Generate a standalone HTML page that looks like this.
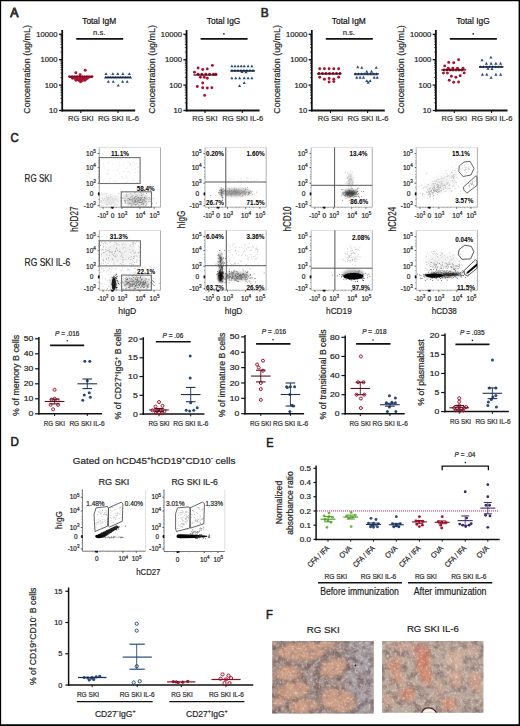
<!DOCTYPE html>
<html><head><meta charset="utf-8"><title>Figure</title>
<style>
html,body{margin:0;padding:0;background:#fff;}
body{width:520px;height:726px;overflow:hidden;}
svg{display:block;font-family:"Liberation Sans", sans-serif;}
text{stroke:#333;stroke-width:0.22px;}
text[font-weight="bold"]{stroke-width:0.05px;}
</style></head><body>
<svg width="520" height="726" viewBox="0 0 520 726">
<defs><filter id="b3" x="-50%" y="-50%" width="200%" height="200%"><feGaussianBlur stdDeviation="0.3"/></filter><filter id="b4" x="-50%" y="-50%" width="200%" height="200%"><feGaussianBlur stdDeviation="0.4"/></filter><filter id="b5" x="-50%" y="-50%" width="200%" height="200%"><feGaussianBlur stdDeviation="0.5"/></filter><filter id="b6" x="-50%" y="-50%" width="200%" height="200%"><feGaussianBlur stdDeviation="0.6"/></filter><filter id="b7" x="-50%" y="-50%" width="200%" height="200%"><feGaussianBlur stdDeviation="0.7"/></filter><filter id="b8" x="-50%" y="-50%" width="200%" height="200%"><feGaussianBlur stdDeviation="0.8"/></filter><filter id="b9" x="-50%" y="-50%" width="200%" height="200%"><feGaussianBlur stdDeviation="0.9"/></filter><filter id="b10" x="-50%" y="-50%" width="200%" height="200%"><feGaussianBlur stdDeviation="1.0"/></filter><filter id="b11" x="-50%" y="-50%" width="200%" height="200%"><feGaussianBlur stdDeviation="1.1"/></filter><filter id="b12" x="-50%" y="-50%" width="200%" height="200%"><feGaussianBlur stdDeviation="1.2"/></filter><filter id="b13" x="-50%" y="-50%" width="200%" height="200%"><feGaussianBlur stdDeviation="1.3"/></filter><filter id="b14" x="-50%" y="-50%" width="200%" height="200%"><feGaussianBlur stdDeviation="1.4"/></filter><filter id="b15" x="-50%" y="-50%" width="200%" height="200%"><feGaussianBlur stdDeviation="1.5"/></filter><filter id="b16" x="-50%" y="-50%" width="200%" height="200%"><feGaussianBlur stdDeviation="1.6"/></filter><filter id="b17" x="-50%" y="-50%" width="200%" height="200%"><feGaussianBlur stdDeviation="1.7"/></filter><filter id="b18" x="-50%" y="-50%" width="200%" height="200%"><feGaussianBlur stdDeviation="1.8"/></filter><filter id="b19" x="-50%" y="-50%" width="200%" height="200%"><feGaussianBlur stdDeviation="1.9"/></filter><filter id="b20" x="-50%" y="-50%" width="200%" height="200%"><feGaussianBlur stdDeviation="2.0"/></filter><filter id="b21" x="-50%" y="-50%" width="200%" height="200%"><feGaussianBlur stdDeviation="2.1"/></filter><filter id="b22" x="-50%" y="-50%" width="200%" height="200%"><feGaussianBlur stdDeviation="2.2"/></filter><filter id="b23" x="-50%" y="-50%" width="200%" height="200%"><feGaussianBlur stdDeviation="2.3"/></filter><filter id="b24" x="-50%" y="-50%" width="200%" height="200%"><feGaussianBlur stdDeviation="2.4"/></filter><filter id="b25" x="-50%" y="-50%" width="200%" height="200%"><feGaussianBlur stdDeviation="2.5"/></filter><filter id="b26" x="-50%" y="-50%" width="200%" height="200%"><feGaussianBlur stdDeviation="2.6"/></filter><filter id="b27" x="-50%" y="-50%" width="200%" height="200%"><feGaussianBlur stdDeviation="2.7"/></filter><filter id="b28" x="-50%" y="-50%" width="200%" height="200%"><feGaussianBlur stdDeviation="2.8"/></filter><filter id="b29" x="-50%" y="-50%" width="200%" height="200%"><feGaussianBlur stdDeviation="2.9"/></filter><filter id="b30" x="-50%" y="-50%" width="200%" height="200%"><feGaussianBlur stdDeviation="3.0"/></filter><clipPath id="cf1"><rect x="272.2" y="641.0" width="101.4" height="72.6"/></clipPath>
<clipPath id="cf2"><rect x="382.0" y="641.0" width="101.4" height="71.8"/></clipPath>
<filter id="nz" x="0" y="0" width="100%" height="100%" color-interpolation-filters="sRGB"><feTurbulence type="fractalNoise" baseFrequency="0.38" numOctaves="2" seed="3"/><feColorMatrix type="matrix" values="0 0 0 0 1  0 0 0 0 0.98  0 0 0 0 0.96  0 0 0 -1.6 0.78"/><feGaussianBlur stdDeviation="0.45"/></filter>
<filter id="nz2" x="0" y="0" width="100%" height="100%" color-interpolation-filters="sRGB"><feTurbulence type="fractalNoise" baseFrequency="0.14" numOctaves="3" seed="9"/><feColorMatrix type="matrix" values="0 0 0 0 0.42  0 0 0 0 0.33  0 0 0 0 0.32  0 0 0 2.6 -1.1"/></filter>
<filter id="bf" x="-30%" y="-30%" width="160%" height="160%"><feGaussianBlur stdDeviation="1.6"/></filter>
<filter id="bf2" x="-30%" y="-30%" width="160%" height="160%"><feGaussianBlur stdDeviation="2.6"/></filter></defs>
<rect x="0" y="0" width="520" height="726" fill="#fff"/>
<text x="99.20" y="23.50" font-size="8.4" text-anchor="middle">Total IgM</text>
<line x1="62.20" y1="30.00" x2="62.20" y2="111.40" stroke="#111" stroke-width="1.8"/>
<line x1="61.30" y1="110.50" x2="135.20" y2="110.50" stroke="#111" stroke-width="1.8"/>
<line x1="59.00" y1="34.30" x2="62.20" y2="34.30" stroke="#111" stroke-width="1.3"/>
<text x="57.60" y="36.90" font-size="7.4" text-anchor="end" fill="#1a1a1a" textLength="21.25" lengthAdjust="spacingAndGlyphs">10000</text>
<line x1="60.40" y1="52.05" x2="62.20" y2="52.05" stroke="#111" stroke-width="0.7"/>
<line x1="60.40" y1="47.58" x2="62.20" y2="47.58" stroke="#111" stroke-width="0.7"/>
<line x1="60.40" y1="44.41" x2="62.20" y2="44.41" stroke="#111" stroke-width="0.7"/>
<line x1="60.40" y1="41.95" x2="62.20" y2="41.95" stroke="#111" stroke-width="0.7"/>
<line x1="60.40" y1="39.93" x2="62.20" y2="39.93" stroke="#111" stroke-width="0.7"/>
<line x1="60.40" y1="38.23" x2="62.20" y2="38.23" stroke="#111" stroke-width="0.7"/>
<line x1="60.40" y1="36.76" x2="62.20" y2="36.76" stroke="#111" stroke-width="0.7"/>
<line x1="60.40" y1="35.46" x2="62.20" y2="35.46" stroke="#111" stroke-width="0.7"/>
<line x1="59.00" y1="59.70" x2="62.20" y2="59.70" stroke="#111" stroke-width="1.3"/>
<text x="57.60" y="62.30" font-size="7.4" text-anchor="end" fill="#1a1a1a" textLength="17.0" lengthAdjust="spacingAndGlyphs">1000</text>
<line x1="60.40" y1="77.45" x2="62.20" y2="77.45" stroke="#111" stroke-width="0.7"/>
<line x1="60.40" y1="72.98" x2="62.20" y2="72.98" stroke="#111" stroke-width="0.7"/>
<line x1="60.40" y1="69.81" x2="62.20" y2="69.81" stroke="#111" stroke-width="0.7"/>
<line x1="60.40" y1="67.35" x2="62.20" y2="67.35" stroke="#111" stroke-width="0.7"/>
<line x1="60.40" y1="65.33" x2="62.20" y2="65.33" stroke="#111" stroke-width="0.7"/>
<line x1="60.40" y1="63.63" x2="62.20" y2="63.63" stroke="#111" stroke-width="0.7"/>
<line x1="60.40" y1="62.16" x2="62.20" y2="62.16" stroke="#111" stroke-width="0.7"/>
<line x1="60.40" y1="60.86" x2="62.20" y2="60.86" stroke="#111" stroke-width="0.7"/>
<line x1="59.00" y1="85.10" x2="62.20" y2="85.10" stroke="#111" stroke-width="1.3"/>
<text x="57.60" y="87.70" font-size="7.4" text-anchor="end" fill="#1a1a1a" textLength="12.75" lengthAdjust="spacingAndGlyphs">100</text>
<line x1="60.40" y1="102.85" x2="62.20" y2="102.85" stroke="#111" stroke-width="0.7"/>
<line x1="60.40" y1="98.38" x2="62.20" y2="98.38" stroke="#111" stroke-width="0.7"/>
<line x1="60.40" y1="95.21" x2="62.20" y2="95.21" stroke="#111" stroke-width="0.7"/>
<line x1="60.40" y1="92.75" x2="62.20" y2="92.75" stroke="#111" stroke-width="0.7"/>
<line x1="60.40" y1="90.73" x2="62.20" y2="90.73" stroke="#111" stroke-width="0.7"/>
<line x1="60.40" y1="89.03" x2="62.20" y2="89.03" stroke="#111" stroke-width="0.7"/>
<line x1="60.40" y1="87.56" x2="62.20" y2="87.56" stroke="#111" stroke-width="0.7"/>
<line x1="60.40" y1="86.26" x2="62.20" y2="86.26" stroke="#111" stroke-width="0.7"/>
<line x1="59.00" y1="110.50" x2="62.20" y2="110.50" stroke="#111" stroke-width="1.3"/>
<text x="57.60" y="113.10" font-size="7.4" text-anchor="end" fill="#1a1a1a" textLength="8.5" lengthAdjust="spacingAndGlyphs">10</text>
<line x1="80.80" y1="110.50" x2="80.80" y2="113.00" stroke="#111" stroke-width="1.1"/>
<line x1="118.00" y1="110.50" x2="118.00" y2="113.00" stroke="#111" stroke-width="1.1"/>
<text x="80.80" y="121.30" font-size="7.6" text-anchor="middle" fill="#333" textLength="25.4" lengthAdjust="spacingAndGlyphs">RG SKI</text>
<text x="118.40" y="121.30" font-size="7.6" text-anchor="middle" fill="#333" textLength="41" lengthAdjust="spacingAndGlyphs">RG SKI IL-6</text>
<text x="30.50" y="69.40" font-size="9.3" text-anchor="middle" fill="#1a1a1a" textLength="88.5" lengthAdjust="spacingAndGlyphs" transform="rotate(-90 30.50 69.40)">Concentration (ug/mL)</text>
<line x1="76.20" y1="38.90" x2="123.20" y2="38.90" stroke="#111" stroke-width="1.7"/>
<text x="99.20" y="35.20" font-size="7.6" text-anchor="middle" fill="#333">n.s.</text>
<circle cx="75.80" cy="72.80" r="1.45" fill="#a8102f"/>
<circle cx="85.20" cy="70.30" r="1.45" fill="#a8102f"/>
<circle cx="80.10" cy="74.80" r="1.45" fill="#a8102f"/>
<circle cx="69.50" cy="76.60" r="1.45" fill="#a8102f"/>
<circle cx="72.00" cy="76.60" r="1.45" fill="#a8102f"/>
<circle cx="74.50" cy="76.60" r="1.45" fill="#a8102f"/>
<circle cx="77.00" cy="76.60" r="1.45" fill="#a8102f"/>
<circle cx="79.50" cy="76.60" r="1.45" fill="#a8102f"/>
<circle cx="82.00" cy="76.60" r="1.45" fill="#a8102f"/>
<circle cx="84.50" cy="76.60" r="1.45" fill="#a8102f"/>
<circle cx="87.00" cy="76.60" r="1.45" fill="#a8102f"/>
<circle cx="89.50" cy="76.60" r="1.45" fill="#a8102f"/>
<circle cx="92.00" cy="76.60" r="1.45" fill="#a8102f"/>
<circle cx="72.50" cy="78.30" r="1.45" fill="#a8102f"/>
<circle cx="75.50" cy="78.30" r="1.45" fill="#a8102f"/>
<circle cx="78.50" cy="78.30" r="1.45" fill="#a8102f"/>
<circle cx="81.50" cy="78.30" r="1.45" fill="#a8102f"/>
<circle cx="84.50" cy="78.30" r="1.45" fill="#a8102f"/>
<circle cx="87.50" cy="78.30" r="1.45" fill="#a8102f"/>
<circle cx="76.00" cy="80.20" r="1.45" fill="#a8102f"/>
<circle cx="79.00" cy="80.20" r="1.45" fill="#a8102f"/>
<circle cx="82.00" cy="80.20" r="1.45" fill="#a8102f"/>
<circle cx="85.00" cy="80.20" r="1.45" fill="#a8102f"/>
<circle cx="80.50" cy="81.80" r="1.45" fill="#a8102f"/>
<path d="M106.00 72.25L107.57 75.06L104.43 75.06Z" fill="#2a4a7a"/>
<path d="M112.80 72.25L114.37 75.06L111.23 75.06Z" fill="#2a4a7a"/>
<path d="M117.80 72.25L119.37 75.06L116.23 75.06Z" fill="#2a4a7a"/>
<path d="M122.90 72.25L124.47 75.06L121.33 75.06Z" fill="#2a4a7a"/>
<path d="M129.30 72.25L130.87 75.06L127.73 75.06Z" fill="#2a4a7a"/>
<path d="M105.50 75.65L107.07 78.45L103.93 78.45Z" fill="#2a4a7a"/>
<path d="M108.00 75.65L109.57 78.45L106.43 78.45Z" fill="#2a4a7a"/>
<path d="M110.50 75.65L112.07 78.45L108.93 78.45Z" fill="#2a4a7a"/>
<path d="M113.00 75.65L114.57 78.45L111.43 78.45Z" fill="#2a4a7a"/>
<path d="M115.50 75.65L117.07 78.45L113.93 78.45Z" fill="#2a4a7a"/>
<path d="M118.00 75.65L119.57 78.45L116.43 78.45Z" fill="#2a4a7a"/>
<path d="M120.50 75.65L122.07 78.45L118.93 78.45Z" fill="#2a4a7a"/>
<path d="M123.00 75.65L124.57 78.45L121.43 78.45Z" fill="#2a4a7a"/>
<path d="M125.50 75.65L127.07 78.45L123.93 78.45Z" fill="#2a4a7a"/>
<path d="M128.00 75.65L129.57 78.45L126.43 78.45Z" fill="#2a4a7a"/>
<path d="M130.50 75.65L132.07 78.45L128.93 78.45Z" fill="#2a4a7a"/>
<path d="M108.30 79.95L109.87 82.75L106.73 82.75Z" fill="#2a4a7a"/>
<path d="M113.20 79.95L114.77 82.75L111.63 82.75Z" fill="#2a4a7a"/>
<path d="M122.60 79.95L124.17 82.75L121.03 82.75Z" fill="#2a4a7a"/>
<path d="M127.20 79.95L128.77 82.75L125.63 82.75Z" fill="#2a4a7a"/>
<path d="M118.20 83.65L119.77 86.45L116.63 86.45Z" fill="#2a4a7a"/>
<line x1="69.50" y1="77.00" x2="92.50" y2="77.00" stroke="#4a0c1a" stroke-width="1.3"/>
<line x1="105.50" y1="77.30" x2="130.50" y2="77.30" stroke="#14233d" stroke-width="1.3"/>
<path d="M68.8 77.2L93.5 76.6L81 82.6Z" fill="#a8102f"/>
<text x="223.60" y="23.50" font-size="8.4" text-anchor="middle">Total IgG</text>
<line x1="186.60" y1="30.00" x2="186.60" y2="111.40" stroke="#111" stroke-width="1.8"/>
<line x1="185.70" y1="110.50" x2="259.60" y2="110.50" stroke="#111" stroke-width="1.8"/>
<line x1="183.40" y1="34.30" x2="186.60" y2="34.30" stroke="#111" stroke-width="1.3"/>
<text x="182.00" y="36.90" font-size="7.4" text-anchor="end" fill="#1a1a1a" textLength="21.25" lengthAdjust="spacingAndGlyphs">10000</text>
<line x1="184.80" y1="52.05" x2="186.60" y2="52.05" stroke="#111" stroke-width="0.7"/>
<line x1="184.80" y1="47.58" x2="186.60" y2="47.58" stroke="#111" stroke-width="0.7"/>
<line x1="184.80" y1="44.41" x2="186.60" y2="44.41" stroke="#111" stroke-width="0.7"/>
<line x1="184.80" y1="41.95" x2="186.60" y2="41.95" stroke="#111" stroke-width="0.7"/>
<line x1="184.80" y1="39.93" x2="186.60" y2="39.93" stroke="#111" stroke-width="0.7"/>
<line x1="184.80" y1="38.23" x2="186.60" y2="38.23" stroke="#111" stroke-width="0.7"/>
<line x1="184.80" y1="36.76" x2="186.60" y2="36.76" stroke="#111" stroke-width="0.7"/>
<line x1="184.80" y1="35.46" x2="186.60" y2="35.46" stroke="#111" stroke-width="0.7"/>
<line x1="183.40" y1="59.70" x2="186.60" y2="59.70" stroke="#111" stroke-width="1.3"/>
<text x="182.00" y="62.30" font-size="7.4" text-anchor="end" fill="#1a1a1a" textLength="17.0" lengthAdjust="spacingAndGlyphs">1000</text>
<line x1="184.80" y1="77.45" x2="186.60" y2="77.45" stroke="#111" stroke-width="0.7"/>
<line x1="184.80" y1="72.98" x2="186.60" y2="72.98" stroke="#111" stroke-width="0.7"/>
<line x1="184.80" y1="69.81" x2="186.60" y2="69.81" stroke="#111" stroke-width="0.7"/>
<line x1="184.80" y1="67.35" x2="186.60" y2="67.35" stroke="#111" stroke-width="0.7"/>
<line x1="184.80" y1="65.33" x2="186.60" y2="65.33" stroke="#111" stroke-width="0.7"/>
<line x1="184.80" y1="63.63" x2="186.60" y2="63.63" stroke="#111" stroke-width="0.7"/>
<line x1="184.80" y1="62.16" x2="186.60" y2="62.16" stroke="#111" stroke-width="0.7"/>
<line x1="184.80" y1="60.86" x2="186.60" y2="60.86" stroke="#111" stroke-width="0.7"/>
<line x1="183.40" y1="85.10" x2="186.60" y2="85.10" stroke="#111" stroke-width="1.3"/>
<text x="182.00" y="87.70" font-size="7.4" text-anchor="end" fill="#1a1a1a" textLength="12.75" lengthAdjust="spacingAndGlyphs">100</text>
<line x1="184.80" y1="102.85" x2="186.60" y2="102.85" stroke="#111" stroke-width="0.7"/>
<line x1="184.80" y1="98.38" x2="186.60" y2="98.38" stroke="#111" stroke-width="0.7"/>
<line x1="184.80" y1="95.21" x2="186.60" y2="95.21" stroke="#111" stroke-width="0.7"/>
<line x1="184.80" y1="92.75" x2="186.60" y2="92.75" stroke="#111" stroke-width="0.7"/>
<line x1="184.80" y1="90.73" x2="186.60" y2="90.73" stroke="#111" stroke-width="0.7"/>
<line x1="184.80" y1="89.03" x2="186.60" y2="89.03" stroke="#111" stroke-width="0.7"/>
<line x1="184.80" y1="87.56" x2="186.60" y2="87.56" stroke="#111" stroke-width="0.7"/>
<line x1="184.80" y1="86.26" x2="186.60" y2="86.26" stroke="#111" stroke-width="0.7"/>
<line x1="183.40" y1="110.50" x2="186.60" y2="110.50" stroke="#111" stroke-width="1.3"/>
<text x="182.00" y="113.10" font-size="7.4" text-anchor="end" fill="#1a1a1a" textLength="8.5" lengthAdjust="spacingAndGlyphs">10</text>
<line x1="205.00" y1="110.50" x2="205.00" y2="113.00" stroke="#111" stroke-width="1.1"/>
<line x1="242.30" y1="110.50" x2="242.30" y2="113.00" stroke="#111" stroke-width="1.1"/>
<text x="205.00" y="121.30" font-size="7.6" text-anchor="middle" fill="#333" textLength="25.4" lengthAdjust="spacingAndGlyphs">RG SKI</text>
<text x="242.70" y="121.30" font-size="7.6" text-anchor="middle" fill="#333" textLength="41" lengthAdjust="spacingAndGlyphs">RG SKI IL-6</text>
<text x="154.90" y="69.40" font-size="9.3" text-anchor="middle" fill="#1a1a1a" textLength="88.5" lengthAdjust="spacingAndGlyphs" transform="rotate(-90 154.90 69.40)">Concentration (ug/mL)</text>
<line x1="200.60" y1="38.90" x2="247.60" y2="38.90" stroke="#111" stroke-width="1.7"/>
<circle cx="223.90" cy="33.80" r="0.9" fill="#222"/>
<circle cx="212.40" cy="65.40" r="1.45" fill="#a8102f"/>
<circle cx="198.10" cy="68.00" r="1.45" fill="#a8102f"/>
<circle cx="202.70" cy="69.50" r="1.45" fill="#a8102f"/>
<circle cx="207.30" cy="68.90" r="1.45" fill="#a8102f"/>
<circle cx="194.50" cy="72.30" r="1.45" fill="#a8102f"/>
<circle cx="198.10" cy="74.20" r="1.45" fill="#a8102f"/>
<circle cx="201.90" cy="74.20" r="1.45" fill="#a8102f"/>
<circle cx="205.80" cy="74.20" r="1.45" fill="#a8102f"/>
<circle cx="209.60" cy="74.20" r="1.45" fill="#a8102f"/>
<circle cx="213.50" cy="74.20" r="1.45" fill="#a8102f"/>
<circle cx="215.80" cy="74.20" r="1.45" fill="#a8102f"/>
<circle cx="200.40" cy="77.20" r="1.45" fill="#a8102f"/>
<circle cx="204.20" cy="77.20" r="1.45" fill="#a8102f"/>
<circle cx="207.30" cy="78.20" r="1.45" fill="#a8102f"/>
<circle cx="202.70" cy="83.00" r="1.45" fill="#a8102f"/>
<circle cx="197.30" cy="86.50" r="1.45" fill="#a8102f"/>
<circle cx="202.70" cy="87.70" r="1.45" fill="#a8102f"/>
<circle cx="207.30" cy="88.00" r="1.45" fill="#a8102f"/>
<circle cx="211.90" cy="87.70" r="1.45" fill="#a8102f"/>
<circle cx="204.70" cy="95.40" r="1.45" fill="#a8102f"/>
<path d="M231.90 64.55L233.47 67.36L230.33 67.36Z" fill="#2a4a7a"/>
<path d="M235.00 64.55L236.57 67.36L233.43 67.36Z" fill="#2a4a7a"/>
<path d="M238.10 64.55L239.67 67.36L236.53 67.36Z" fill="#2a4a7a"/>
<path d="M241.20 64.55L242.77 67.36L239.63 67.36Z" fill="#2a4a7a"/>
<path d="M244.20 64.55L245.77 67.36L242.63 67.36Z" fill="#2a4a7a"/>
<path d="M248.10 64.55L249.67 67.36L246.53 67.36Z" fill="#2a4a7a"/>
<path d="M251.90 64.55L253.47 67.36L250.33 67.36Z" fill="#2a4a7a"/>
<path d="M232.00 68.85L233.57 71.66L230.43 71.66Z" fill="#2a4a7a"/>
<path d="M235.00 68.85L236.57 71.66L233.43 71.66Z" fill="#2a4a7a"/>
<path d="M238.00 68.85L239.57 71.66L236.43 71.66Z" fill="#2a4a7a"/>
<path d="M241.00 68.85L242.57 71.66L239.43 71.66Z" fill="#2a4a7a"/>
<path d="M244.00 68.85L245.57 71.66L242.43 71.66Z" fill="#2a4a7a"/>
<path d="M247.00 68.85L248.57 71.66L245.43 71.66Z" fill="#2a4a7a"/>
<path d="M250.00 68.85L251.57 71.66L248.43 71.66Z" fill="#2a4a7a"/>
<path d="M253.00 68.85L254.57 71.66L251.43 71.66Z" fill="#2a4a7a"/>
<path d="M231.90 76.55L233.47 79.36L230.33 79.36Z" fill="#2a4a7a"/>
<path d="M235.80 76.55L237.37 79.36L234.23 79.36Z" fill="#2a4a7a"/>
<path d="M239.60 76.55L241.17 79.36L238.03 79.36Z" fill="#2a4a7a"/>
<path d="M244.20 76.55L245.77 79.36L242.63 79.36Z" fill="#2a4a7a"/>
<path d="M248.10 76.55L249.67 79.36L246.53 79.36Z" fill="#2a4a7a"/>
<path d="M251.90 76.55L253.47 79.36L250.33 79.36Z" fill="#2a4a7a"/>
<path d="M244.20 81.15L245.77 83.95L242.63 83.95Z" fill="#2a4a7a"/>
<path d="M239.60 84.15L241.17 86.95L238.03 86.95Z" fill="#2a4a7a"/>
<path d="M242.00 70.15L243.57 72.95L240.43 72.95Z" fill="#2a4a7a"/>
<path d="M246.00 70.35L247.57 73.16L244.43 73.16Z" fill="#2a4a7a"/>
<line x1="193.50" y1="75.00" x2="217.30" y2="75.00" stroke="#4a0c1a" stroke-width="1.3"/>
<line x1="230.40" y1="70.80" x2="255.00" y2="70.80" stroke="#14233d" stroke-width="1.3"/>
<text x="348.80" y="23.50" font-size="8.4" text-anchor="middle">Total IgM</text>
<line x1="311.80" y1="30.00" x2="311.80" y2="111.40" stroke="#111" stroke-width="1.8"/>
<line x1="310.90" y1="110.50" x2="384.80" y2="110.50" stroke="#111" stroke-width="1.8"/>
<line x1="308.60" y1="34.30" x2="311.80" y2="34.30" stroke="#111" stroke-width="1.3"/>
<text x="307.20" y="36.90" font-size="7.4" text-anchor="end" fill="#1a1a1a" textLength="21.25" lengthAdjust="spacingAndGlyphs">10000</text>
<line x1="310.00" y1="52.05" x2="311.80" y2="52.05" stroke="#111" stroke-width="0.7"/>
<line x1="310.00" y1="47.58" x2="311.80" y2="47.58" stroke="#111" stroke-width="0.7"/>
<line x1="310.00" y1="44.41" x2="311.80" y2="44.41" stroke="#111" stroke-width="0.7"/>
<line x1="310.00" y1="41.95" x2="311.80" y2="41.95" stroke="#111" stroke-width="0.7"/>
<line x1="310.00" y1="39.93" x2="311.80" y2="39.93" stroke="#111" stroke-width="0.7"/>
<line x1="310.00" y1="38.23" x2="311.80" y2="38.23" stroke="#111" stroke-width="0.7"/>
<line x1="310.00" y1="36.76" x2="311.80" y2="36.76" stroke="#111" stroke-width="0.7"/>
<line x1="310.00" y1="35.46" x2="311.80" y2="35.46" stroke="#111" stroke-width="0.7"/>
<line x1="308.60" y1="59.70" x2="311.80" y2="59.70" stroke="#111" stroke-width="1.3"/>
<text x="307.20" y="62.30" font-size="7.4" text-anchor="end" fill="#1a1a1a" textLength="17.0" lengthAdjust="spacingAndGlyphs">1000</text>
<line x1="310.00" y1="77.45" x2="311.80" y2="77.45" stroke="#111" stroke-width="0.7"/>
<line x1="310.00" y1="72.98" x2="311.80" y2="72.98" stroke="#111" stroke-width="0.7"/>
<line x1="310.00" y1="69.81" x2="311.80" y2="69.81" stroke="#111" stroke-width="0.7"/>
<line x1="310.00" y1="67.35" x2="311.80" y2="67.35" stroke="#111" stroke-width="0.7"/>
<line x1="310.00" y1="65.33" x2="311.80" y2="65.33" stroke="#111" stroke-width="0.7"/>
<line x1="310.00" y1="63.63" x2="311.80" y2="63.63" stroke="#111" stroke-width="0.7"/>
<line x1="310.00" y1="62.16" x2="311.80" y2="62.16" stroke="#111" stroke-width="0.7"/>
<line x1="310.00" y1="60.86" x2="311.80" y2="60.86" stroke="#111" stroke-width="0.7"/>
<line x1="308.60" y1="85.10" x2="311.80" y2="85.10" stroke="#111" stroke-width="1.3"/>
<text x="307.20" y="87.70" font-size="7.4" text-anchor="end" fill="#1a1a1a" textLength="12.75" lengthAdjust="spacingAndGlyphs">100</text>
<line x1="310.00" y1="102.85" x2="311.80" y2="102.85" stroke="#111" stroke-width="0.7"/>
<line x1="310.00" y1="98.38" x2="311.80" y2="98.38" stroke="#111" stroke-width="0.7"/>
<line x1="310.00" y1="95.21" x2="311.80" y2="95.21" stroke="#111" stroke-width="0.7"/>
<line x1="310.00" y1="92.75" x2="311.80" y2="92.75" stroke="#111" stroke-width="0.7"/>
<line x1="310.00" y1="90.73" x2="311.80" y2="90.73" stroke="#111" stroke-width="0.7"/>
<line x1="310.00" y1="89.03" x2="311.80" y2="89.03" stroke="#111" stroke-width="0.7"/>
<line x1="310.00" y1="87.56" x2="311.80" y2="87.56" stroke="#111" stroke-width="0.7"/>
<line x1="310.00" y1="86.26" x2="311.80" y2="86.26" stroke="#111" stroke-width="0.7"/>
<line x1="308.60" y1="110.50" x2="311.80" y2="110.50" stroke="#111" stroke-width="1.3"/>
<text x="307.20" y="113.10" font-size="7.4" text-anchor="end" fill="#1a1a1a" textLength="8.5" lengthAdjust="spacingAndGlyphs">10</text>
<line x1="330.50" y1="110.50" x2="330.50" y2="113.00" stroke="#111" stroke-width="1.1"/>
<line x1="367.60" y1="110.50" x2="367.60" y2="113.00" stroke="#111" stroke-width="1.1"/>
<text x="330.50" y="121.30" font-size="7.6" text-anchor="middle" fill="#333" textLength="25.4" lengthAdjust="spacingAndGlyphs">RG SKI</text>
<text x="368.00" y="121.30" font-size="7.6" text-anchor="middle" fill="#333" textLength="41" lengthAdjust="spacingAndGlyphs">RG SKI IL-6</text>
<text x="280.10" y="69.40" font-size="9.3" text-anchor="middle" fill="#1a1a1a" textLength="88.5" lengthAdjust="spacingAndGlyphs" transform="rotate(-90 280.10 69.40)">Concentration (ug/mL)</text>
<line x1="325.80" y1="38.90" x2="372.80" y2="38.90" stroke="#111" stroke-width="1.7"/>
<text x="348.80" y="35.20" font-size="7.6" text-anchor="middle" fill="#333">n.s.</text>
<circle cx="319.70" cy="68.80" r="1.45" fill="#a8102f"/>
<circle cx="324.40" cy="68.80" r="1.45" fill="#a8102f"/>
<circle cx="329.10" cy="68.80" r="1.45" fill="#a8102f"/>
<circle cx="333.80" cy="68.80" r="1.45" fill="#a8102f"/>
<circle cx="338.60" cy="68.80" r="1.45" fill="#a8102f"/>
<circle cx="319.00" cy="73.50" r="1.45" fill="#a8102f"/>
<circle cx="322.50" cy="73.50" r="1.45" fill="#a8102f"/>
<circle cx="326.00" cy="73.50" r="1.45" fill="#a8102f"/>
<circle cx="329.50" cy="73.50" r="1.45" fill="#a8102f"/>
<circle cx="333.00" cy="73.50" r="1.45" fill="#a8102f"/>
<circle cx="336.50" cy="73.50" r="1.45" fill="#a8102f"/>
<circle cx="340.00" cy="73.50" r="1.45" fill="#a8102f"/>
<circle cx="319.70" cy="77.20" r="1.45" fill="#a8102f"/>
<circle cx="338.60" cy="77.20" r="1.45" fill="#a8102f"/>
<circle cx="324.40" cy="79.30" r="1.45" fill="#a8102f"/>
<circle cx="329.10" cy="78.50" r="1.45" fill="#a8102f"/>
<circle cx="333.80" cy="79.30" r="1.45" fill="#a8102f"/>
<circle cx="329.10" cy="82.00" r="1.45" fill="#a8102f"/>
<circle cx="333.80" cy="81.60" r="1.45" fill="#a8102f"/>
<path d="M357.80 65.55L359.37 68.36L356.23 68.36Z" fill="#2a4a7a"/>
<path d="M361.80 66.05L363.37 68.86L360.23 68.86Z" fill="#2a4a7a"/>
<path d="M376.20 66.05L377.77 68.86L374.63 68.86Z" fill="#2a4a7a"/>
<path d="M366.80 69.85L368.37 72.66L365.23 72.66Z" fill="#2a4a7a"/>
<path d="M371.50 69.85L373.07 72.66L369.93 72.66Z" fill="#2a4a7a"/>
<path d="M355.50 72.35L357.07 75.16L353.93 75.16Z" fill="#2a4a7a"/>
<path d="M358.50 72.35L360.07 75.16L356.93 75.16Z" fill="#2a4a7a"/>
<path d="M361.50 72.35L363.07 75.16L359.93 75.16Z" fill="#2a4a7a"/>
<path d="M364.50 72.35L366.07 75.16L362.93 75.16Z" fill="#2a4a7a"/>
<path d="M367.50 72.35L369.07 75.16L365.93 75.16Z" fill="#2a4a7a"/>
<path d="M370.50 72.35L372.07 75.16L368.93 75.16Z" fill="#2a4a7a"/>
<path d="M373.50 72.35L375.07 75.16L371.93 75.16Z" fill="#2a4a7a"/>
<path d="M376.50 72.35L378.07 75.16L374.93 75.16Z" fill="#2a4a7a"/>
<path d="M356.70 75.85L358.27 78.66L355.13 78.66Z" fill="#2a4a7a"/>
<path d="M360.10 75.85L361.67 78.66L358.53 78.66Z" fill="#2a4a7a"/>
<path d="M363.50 75.85L365.07 78.66L361.93 78.66Z" fill="#2a4a7a"/>
<path d="M374.20 75.85L375.77 78.66L372.63 78.66Z" fill="#2a4a7a"/>
<path d="M377.20 75.85L378.77 78.66L375.63 78.66Z" fill="#2a4a7a"/>
<path d="M366.80 79.25L368.37 82.06L365.23 82.06Z" fill="#2a4a7a"/>
<path d="M370.20 79.25L371.77 82.06L368.63 82.06Z" fill="#2a4a7a"/>
<path d="M368.20 80.85L369.77 83.66L366.63 83.66Z" fill="#2a4a7a"/>
<line x1="317.00" y1="73.90" x2="341.20" y2="73.90" stroke="#4a0c1a" stroke-width="1.3"/>
<line x1="354.00" y1="73.90" x2="378.90" y2="73.90" stroke="#14233d" stroke-width="1.3"/>
<text x="472.90" y="23.50" font-size="8.4" text-anchor="middle">Total IgG</text>
<line x1="435.90" y1="30.00" x2="435.90" y2="111.40" stroke="#111" stroke-width="1.8"/>
<line x1="435.00" y1="110.50" x2="507.50" y2="110.50" stroke="#111" stroke-width="1.8"/>
<line x1="432.70" y1="34.30" x2="435.90" y2="34.30" stroke="#111" stroke-width="1.3"/>
<text x="431.30" y="36.90" font-size="7.4" text-anchor="end" fill="#1a1a1a" textLength="21.25" lengthAdjust="spacingAndGlyphs">10000</text>
<line x1="434.10" y1="52.05" x2="435.90" y2="52.05" stroke="#111" stroke-width="0.7"/>
<line x1="434.10" y1="47.58" x2="435.90" y2="47.58" stroke="#111" stroke-width="0.7"/>
<line x1="434.10" y1="44.41" x2="435.90" y2="44.41" stroke="#111" stroke-width="0.7"/>
<line x1="434.10" y1="41.95" x2="435.90" y2="41.95" stroke="#111" stroke-width="0.7"/>
<line x1="434.10" y1="39.93" x2="435.90" y2="39.93" stroke="#111" stroke-width="0.7"/>
<line x1="434.10" y1="38.23" x2="435.90" y2="38.23" stroke="#111" stroke-width="0.7"/>
<line x1="434.10" y1="36.76" x2="435.90" y2="36.76" stroke="#111" stroke-width="0.7"/>
<line x1="434.10" y1="35.46" x2="435.90" y2="35.46" stroke="#111" stroke-width="0.7"/>
<line x1="432.70" y1="59.70" x2="435.90" y2="59.70" stroke="#111" stroke-width="1.3"/>
<text x="431.30" y="62.30" font-size="7.4" text-anchor="end" fill="#1a1a1a" textLength="17.0" lengthAdjust="spacingAndGlyphs">1000</text>
<line x1="434.10" y1="77.45" x2="435.90" y2="77.45" stroke="#111" stroke-width="0.7"/>
<line x1="434.10" y1="72.98" x2="435.90" y2="72.98" stroke="#111" stroke-width="0.7"/>
<line x1="434.10" y1="69.81" x2="435.90" y2="69.81" stroke="#111" stroke-width="0.7"/>
<line x1="434.10" y1="67.35" x2="435.90" y2="67.35" stroke="#111" stroke-width="0.7"/>
<line x1="434.10" y1="65.33" x2="435.90" y2="65.33" stroke="#111" stroke-width="0.7"/>
<line x1="434.10" y1="63.63" x2="435.90" y2="63.63" stroke="#111" stroke-width="0.7"/>
<line x1="434.10" y1="62.16" x2="435.90" y2="62.16" stroke="#111" stroke-width="0.7"/>
<line x1="434.10" y1="60.86" x2="435.90" y2="60.86" stroke="#111" stroke-width="0.7"/>
<line x1="432.70" y1="85.10" x2="435.90" y2="85.10" stroke="#111" stroke-width="1.3"/>
<text x="431.30" y="87.70" font-size="7.4" text-anchor="end" fill="#1a1a1a" textLength="12.75" lengthAdjust="spacingAndGlyphs">100</text>
<line x1="434.10" y1="102.85" x2="435.90" y2="102.85" stroke="#111" stroke-width="0.7"/>
<line x1="434.10" y1="98.38" x2="435.90" y2="98.38" stroke="#111" stroke-width="0.7"/>
<line x1="434.10" y1="95.21" x2="435.90" y2="95.21" stroke="#111" stroke-width="0.7"/>
<line x1="434.10" y1="92.75" x2="435.90" y2="92.75" stroke="#111" stroke-width="0.7"/>
<line x1="434.10" y1="90.73" x2="435.90" y2="90.73" stroke="#111" stroke-width="0.7"/>
<line x1="434.10" y1="89.03" x2="435.90" y2="89.03" stroke="#111" stroke-width="0.7"/>
<line x1="434.10" y1="87.56" x2="435.90" y2="87.56" stroke="#111" stroke-width="0.7"/>
<line x1="434.10" y1="86.26" x2="435.90" y2="86.26" stroke="#111" stroke-width="0.7"/>
<line x1="432.70" y1="110.50" x2="435.90" y2="110.50" stroke="#111" stroke-width="1.3"/>
<text x="431.30" y="113.10" font-size="7.4" text-anchor="end" fill="#1a1a1a" textLength="8.5" lengthAdjust="spacingAndGlyphs">10</text>
<line x1="454.30" y1="110.50" x2="454.30" y2="113.00" stroke="#111" stroke-width="1.1"/>
<line x1="491.50" y1="110.50" x2="491.50" y2="113.00" stroke="#111" stroke-width="1.1"/>
<text x="454.30" y="121.30" font-size="7.6" text-anchor="middle" fill="#333" textLength="25.4" lengthAdjust="spacingAndGlyphs">RG SKI</text>
<text x="491.90" y="121.30" font-size="7.6" text-anchor="middle" fill="#333" textLength="41" lengthAdjust="spacingAndGlyphs">RG SKI IL-6</text>
<text x="404.20" y="69.40" font-size="9.3" text-anchor="middle" fill="#1a1a1a" textLength="88.5" lengthAdjust="spacingAndGlyphs" transform="rotate(-90 404.20 69.40)">Concentration (ug/mL)</text>
<line x1="449.90" y1="38.90" x2="496.90" y2="38.90" stroke="#111" stroke-width="1.7"/>
<circle cx="473.20" cy="33.80" r="0.9" fill="#222"/>
<circle cx="458.60" cy="59.70" r="1.45" fill="#a8102f"/>
<circle cx="448.70" cy="62.40" r="1.45" fill="#a8102f"/>
<circle cx="453.70" cy="62.80" r="1.45" fill="#a8102f"/>
<circle cx="444.70" cy="65.90" r="1.45" fill="#a8102f"/>
<circle cx="448.30" cy="68.20" r="1.45" fill="#a8102f"/>
<circle cx="452.80" cy="68.20" r="1.45" fill="#a8102f"/>
<circle cx="457.50" cy="68.20" r="1.45" fill="#a8102f"/>
<circle cx="463.10" cy="68.20" r="1.45" fill="#a8102f"/>
<circle cx="444.00" cy="70.00" r="1.45" fill="#a8102f"/>
<circle cx="447.00" cy="70.00" r="1.45" fill="#a8102f"/>
<circle cx="450.00" cy="70.00" r="1.45" fill="#a8102f"/>
<circle cx="453.00" cy="70.00" r="1.45" fill="#a8102f"/>
<circle cx="456.00" cy="70.00" r="1.45" fill="#a8102f"/>
<circle cx="459.00" cy="70.00" r="1.45" fill="#a8102f"/>
<circle cx="462.00" cy="70.00" r="1.45" fill="#a8102f"/>
<circle cx="443.40" cy="73.10" r="1.45" fill="#a8102f"/>
<circle cx="447.40" cy="73.10" r="1.45" fill="#a8102f"/>
<circle cx="464.20" cy="72.90" r="1.45" fill="#a8102f"/>
<circle cx="451.40" cy="76.20" r="1.45" fill="#a8102f"/>
<circle cx="455.90" cy="77.20" r="1.45" fill="#a8102f"/>
<circle cx="460.20" cy="75.80" r="1.45" fill="#a8102f"/>
<circle cx="449.20" cy="80.30" r="1.45" fill="#a8102f"/>
<circle cx="453.70" cy="82.30" r="1.45" fill="#a8102f"/>
<circle cx="458.60" cy="82.00" r="1.45" fill="#a8102f"/>
<path d="M490.90 55.75L492.47 58.55L489.33 58.55Z" fill="#2a4a7a"/>
<path d="M482.00 58.45L483.57 61.26L480.43 61.26Z" fill="#2a4a7a"/>
<path d="M486.40 61.85L487.97 64.66L484.83 64.66Z" fill="#2a4a7a"/>
<path d="M491.10 61.85L492.67 64.66L489.53 64.66Z" fill="#2a4a7a"/>
<path d="M495.90 61.85L497.47 64.66L494.33 64.66Z" fill="#2a4a7a"/>
<path d="M500.60 61.85L502.17 64.66L499.03 64.66Z" fill="#2a4a7a"/>
<path d="M480.50 65.15L482.07 67.95L478.93 67.95Z" fill="#2a4a7a"/>
<path d="M483.50 65.15L485.07 67.95L481.93 67.95Z" fill="#2a4a7a"/>
<path d="M486.50 65.15L488.07 67.95L484.93 67.95Z" fill="#2a4a7a"/>
<path d="M489.50 65.15L491.07 67.95L487.93 67.95Z" fill="#2a4a7a"/>
<path d="M492.50 65.15L494.07 67.95L490.93 67.95Z" fill="#2a4a7a"/>
<path d="M495.50 65.15L497.07 67.95L493.93 67.95Z" fill="#2a4a7a"/>
<path d="M498.50 65.15L500.07 67.95L496.93 67.95Z" fill="#2a4a7a"/>
<path d="M501.50 65.15L503.07 67.95L499.93 67.95Z" fill="#2a4a7a"/>
<path d="M488.00 66.85L489.57 69.66L486.43 69.66Z" fill="#2a4a7a"/>
<path d="M492.00 67.15L493.57 69.95L490.43 69.95Z" fill="#2a4a7a"/>
<path d="M482.40 72.85L483.97 75.66L480.83 75.66Z" fill="#2a4a7a"/>
<path d="M486.80 72.85L488.37 75.66L485.23 75.66Z" fill="#2a4a7a"/>
<path d="M495.90 72.85L497.47 75.66L494.33 75.66Z" fill="#2a4a7a"/>
<path d="M500.60 72.85L502.17 75.66L499.03 75.66Z" fill="#2a4a7a"/>
<path d="M491.10 75.95L492.67 78.75L489.53 78.75Z" fill="#2a4a7a"/>
<line x1="441.30" y1="69.90" x2="466.20" y2="69.90" stroke="#4a0c1a" stroke-width="1.3"/>
<line x1="479.00" y1="66.80" x2="503.50" y2="66.80" stroke="#14233d" stroke-width="1.3"/>
<text x="10.20" y="17.00" font-size="13.4" fill="#000" stroke="#000" stroke-width="1.0" textLength="8.200000000000001" lengthAdjust="spacingAndGlyphs" style="stroke-width:1.0px">A</text>
<text x="260.80" y="17.00" font-size="13.4" fill="#000" stroke="#000" stroke-width="0.7" textLength="7.98" lengthAdjust="spacingAndGlyphs" style="stroke-width:0.7px">B</text>
<ellipse cx="136.50" cy="199.80" rx="13.5" ry="5.5" fill="#b0b0b0" fill-opacity="0.55" filter="url(#b20)" transform="rotate(0 136.50 199.80)"/>
<ellipse cx="110.00" cy="200.50" rx="10" ry="5" fill="#cfcfcf" fill-opacity="0.5" filter="url(#b20)" transform="rotate(0 110.00 200.50)"/>
<path d="M106.0 196.0h0.8v0.8h-0.8zM125.3 197.7h0.8v0.8h-0.8zM130.6 193.3h0.8v0.8h-0.8zM100.8 205.3h0.8v0.8h-0.8zM107.0 201.8h0.8v0.8h-0.8zM147.6 194.8h0.8v0.8h-0.8zM103.0 199.8h0.8v0.8h-0.8zM106.0 193.6h0.8v0.8h-0.8zM148.6 201.4h0.8v0.8h-0.8zM131.6 195.8h0.8v0.8h-0.8zM118.5 193.0h0.8v0.8h-0.8zM125.9 194.1h0.8v0.8h-0.8zM133.8 200.6h0.8v0.8h-0.8zM113.6 201.8h0.8v0.8h-0.8zM106.5 197.2h0.8v0.8h-0.8zM140.3 201.9h0.8v0.8h-0.8zM134.2 197.6h0.8v0.8h-0.8zM125.9 194.3h0.8v0.8h-0.8zM141.8 197.1h0.8v0.8h-0.8zM127.9 198.2h0.8v0.8h-0.8zM150.3 205.9h0.8v0.8h-0.8zM109.9 194.1h0.8v0.8h-0.8zM128.1 193.7h0.8v0.8h-0.8zM124.4 200.7h0.8v0.8h-0.8zM117.7 206.7h0.8v0.8h-0.8zM130.1 205.8h0.8v0.8h-0.8zM111.5 202.8h0.8v0.8h-0.8zM141.0 193.4h0.8v0.8h-0.8zM144.4 204.3h0.8v0.8h-0.8zM106.0 202.5h0.8v0.8h-0.8zM123.6 194.5h0.8v0.8h-0.8zM113.7 199.3h0.8v0.8h-0.8zM103.6 193.1h0.8v0.8h-0.8zM145.9 204.3h0.8v0.8h-0.8zM121.7 203.0h0.8v0.8h-0.8zM107.0 204.3h0.8v0.8h-0.8zM134.3 203.7h0.8v0.8h-0.8zM109.8 196.4h0.8v0.8h-0.8zM146.2 204.1h0.8v0.8h-0.8zM110.6 196.1h0.8v0.8h-0.8zM101.0 194.4h0.8v0.8h-0.8zM109.7 198.2h0.8v0.8h-0.8zM117.3 199.8h0.8v0.8h-0.8zM123.7 196.6h0.8v0.8h-0.8zM146.4 201.4h0.8v0.8h-0.8zM135.6 201.3h0.8v0.8h-0.8zM116.9 195.9h0.8v0.8h-0.8zM100.2 201.6h0.8v0.8h-0.8zM107.6 197.7h0.8v0.8h-0.8zM151.1 203.3h0.8v0.8h-0.8zM123.2 196.7h0.8v0.8h-0.8zM135.2 204.2h0.8v0.8h-0.8zM102.1 198.5h0.8v0.8h-0.8zM101.1 200.6h0.8v0.8h-0.8zM143.3 202.4h0.8v0.8h-0.8zM129.9 200.1h0.8v0.8h-0.8zM115.4 196.2h0.8v0.8h-0.8zM115.8 206.9h0.8v0.8h-0.8zM103.9 193.8h0.8v0.8h-0.8zM108.3 197.2h0.8v0.8h-0.8zM100.6 200.5h0.8v0.8h-0.8zM142.9 192.8h0.8v0.8h-0.8zM123.5 194.7h0.8v0.8h-0.8zM105.9 204.2h0.8v0.8h-0.8zM137.7 204.0h0.8v0.8h-0.8zM109.5 201.8h0.8v0.8h-0.8zM102.5 205.7h0.8v0.8h-0.8zM130.4 203.6h0.8v0.8h-0.8zM145.9 196.8h0.8v0.8h-0.8zM100.7 201.9h0.8v0.8h-0.8zM141.2 197.4h0.8v0.8h-0.8zM109.2 203.5h0.8v0.8h-0.8zM104.1 198.1h0.8v0.8h-0.8zM100.2 194.7h0.8v0.8h-0.8zM114.5 205.4h0.8v0.8h-0.8zM137.1 202.6h0.8v0.8h-0.8zM124.9 203.4h0.8v0.8h-0.8zM143.7 200.7h0.8v0.8h-0.8zM110.6 204.0h0.8v0.8h-0.8zM115.7 199.0h0.8v0.8h-0.8zM112.7 200.8h0.8v0.8h-0.8zM150.2 193.3h0.8v0.8h-0.8zM148.2 200.6h0.8v0.8h-0.8zM117.0 204.5h0.8v0.8h-0.8zM122.0 202.8h0.8v0.8h-0.8zM115.6 204.3h0.8v0.8h-0.8zM138.1 199.7h0.8v0.8h-0.8zM101.4 205.4h0.8v0.8h-0.8zM102.8 194.0h0.8v0.8h-0.8zM120.3 205.4h0.8v0.8h-0.8zM112.0 197.9h0.8v0.8h-0.8zM143.3 193.7h0.8v0.8h-0.8zM137.9 201.6h0.8v0.8h-0.8zM127.7 199.1h0.8v0.8h-0.8zM133.7 198.7h0.8v0.8h-0.8zM135.3 205.0h0.8v0.8h-0.8zM139.9 194.4h0.8v0.8h-0.8zM147.5 201.5h0.8v0.8h-0.8zM107.1 198.5h0.8v0.8h-0.8zM131.9 200.2h0.8v0.8h-0.8zM106.8 199.8h0.8v0.8h-0.8zM122.3 194.4h0.8v0.8h-0.8zM140.2 200.0h0.8v0.8h-0.8zM145.8 205.2h0.8v0.8h-0.8zM138.8 194.9h0.8v0.8h-0.8zM101.1 192.6h0.8v0.8h-0.8zM118.0 193.4h0.8v0.8h-0.8zM107.8 199.2h0.8v0.8h-0.8zM151.2 206.8h0.8v0.8h-0.8zM106.8 193.1h0.8v0.8h-0.8z" fill="#c6c6c6" filter="url(#b3)"/>
<path d="M136.4 202.0h0.8v0.8h-0.8zM144.3 202.5h0.8v0.8h-0.8zM142.1 203.4h0.8v0.8h-0.8zM141.9 202.5h0.8v0.8h-0.8zM148.6 197.1h0.8v0.8h-0.8zM127.5 200.0h0.8v0.8h-0.8zM131.8 197.4h0.8v0.8h-0.8zM126.6 191.9h0.8v0.8h-0.8zM135.7 194.3h0.8v0.8h-0.8zM144.0 206.7h0.8v0.8h-0.8zM136.3 196.1h0.8v0.8h-0.8zM140.2 192.4h0.8v0.8h-0.8zM122.2 197.9h0.8v0.8h-0.8zM137.6 204.8h0.8v0.8h-0.8zM129.7 199.7h0.8v0.8h-0.8zM149.8 201.1h0.8v0.8h-0.8zM143.2 198.9h0.8v0.8h-0.8zM143.6 199.5h0.8v0.8h-0.8zM136.1 204.0h0.8v0.8h-0.8zM141.1 202.4h0.8v0.8h-0.8zM141.4 199.5h0.8v0.8h-0.8zM133.9 202.7h0.8v0.8h-0.8zM132.8 203.3h0.8v0.8h-0.8zM135.6 199.1h0.8v0.8h-0.8zM132.0 200.7h0.8v0.8h-0.8zM132.0 200.6h0.8v0.8h-0.8zM134.4 197.6h0.8v0.8h-0.8zM131.0 203.6h0.8v0.8h-0.8zM142.2 199.2h0.8v0.8h-0.8zM124.5 197.8h0.8v0.8h-0.8zM142.7 194.3h0.8v0.8h-0.8zM131.8 195.6h0.8v0.8h-0.8zM132.4 204.8h0.8v0.8h-0.8zM126.4 196.0h0.8v0.8h-0.8zM135.4 201.2h0.8v0.8h-0.8zM134.6 198.6h0.8v0.8h-0.8zM137.9 201.5h0.8v0.8h-0.8zM132.5 201.8h0.8v0.8h-0.8zM137.2 197.2h0.8v0.8h-0.8zM150.1 198.8h0.8v0.8h-0.8zM139.6 200.1h0.8v0.8h-0.8zM132.2 200.2h0.8v0.8h-0.8zM143.6 199.7h0.8v0.8h-0.8zM135.5 198.8h0.8v0.8h-0.8zM141.0 201.9h0.8v0.8h-0.8zM141.1 204.1h0.8v0.8h-0.8zM133.6 201.6h0.8v0.8h-0.8zM122.0 197.4h0.8v0.8h-0.8zM133.9 201.1h0.8v0.8h-0.8zM140.6 200.0h0.8v0.8h-0.8zM133.6 201.3h0.8v0.8h-0.8zM139.8 205.9h0.8v0.8h-0.8zM143.8 199.1h0.8v0.8h-0.8zM132.4 199.8h0.8v0.8h-0.8zM145.7 196.9h0.8v0.8h-0.8zM148.7 198.8h0.8v0.8h-0.8zM144.6 197.9h0.8v0.8h-0.8zM145.2 205.1h0.8v0.8h-0.8zM144.7 200.8h0.8v0.8h-0.8zM153.4 197.9h0.8v0.8h-0.8zM137.9 206.2h0.8v0.8h-0.8zM136.5 195.4h0.8v0.8h-0.8zM141.0 202.6h0.8v0.8h-0.8zM129.7 203.2h0.8v0.8h-0.8zM124.9 201.7h0.8v0.8h-0.8zM129.9 198.9h0.8v0.8h-0.8zM139.3 199.4h0.8v0.8h-0.8zM140.0 198.7h0.8v0.8h-0.8zM125.0 202.4h0.8v0.8h-0.8zM122.4 192.1h0.8v0.8h-0.8zM134.1 198.1h0.8v0.8h-0.8zM135.1 200.3h0.8v0.8h-0.8zM136.1 197.9h0.8v0.8h-0.8zM141.5 193.8h0.8v0.8h-0.8zM145.7 199.0h0.8v0.8h-0.8zM138.2 197.3h0.8v0.8h-0.8zM141.1 202.4h0.8v0.8h-0.8zM128.3 204.4h0.8v0.8h-0.8zM127.7 200.0h0.8v0.8h-0.8zM138.3 193.4h0.8v0.8h-0.8zM141.5 199.2h0.8v0.8h-0.8zM141.9 196.8h0.8v0.8h-0.8zM140.9 202.1h0.8v0.8h-0.8zM142.4 205.4h0.8v0.8h-0.8zM142.6 200.8h0.8v0.8h-0.8zM123.4 206.5h0.8v0.8h-0.8zM131.0 204.8h0.8v0.8h-0.8zM139.9 202.1h0.8v0.8h-0.8zM141.0 197.0h0.8v0.8h-0.8zM125.2 200.5h0.8v0.8h-0.8zM145.3 195.4h0.8v0.8h-0.8zM133.2 203.6h0.8v0.8h-0.8zM134.8 200.6h0.8v0.8h-0.8zM138.6 204.7h0.8v0.8h-0.8zM142.1 201.2h0.8v0.8h-0.8zM125.8 193.8h0.8v0.8h-0.8zM143.9 202.4h0.8v0.8h-0.8zM137.1 203.3h0.8v0.8h-0.8zM130.7 205.8h0.8v0.8h-0.8zM134.4 197.1h0.8v0.8h-0.8zM120.1 197.2h0.8v0.8h-0.8zM131.6 200.5h0.8v0.8h-0.8zM137.9 196.8h0.8v0.8h-0.8zM131.2 195.7h0.8v0.8h-0.8zM134.0 196.7h0.8v0.8h-0.8zM136.9 198.2h0.8v0.8h-0.8zM144.2 196.9h0.8v0.8h-0.8zM136.3 198.7h0.8v0.8h-0.8zM134.6 200.2h0.8v0.8h-0.8zM140.5 204.4h0.8v0.8h-0.8zM152.1 203.3h0.8v0.8h-0.8zM133.9 202.7h0.8v0.8h-0.8zM140.3 200.3h0.8v0.8h-0.8zM124.7 200.7h0.8v0.8h-0.8zM146.6 198.0h0.8v0.8h-0.8zM141.4 195.2h0.8v0.8h-0.8zM146.5 206.9h0.8v0.8h-0.8zM136.1 198.6h0.8v0.8h-0.8zM128.7 203.5h0.8v0.8h-0.8zM143.1 199.1h0.8v0.8h-0.8zM142.2 199.8h0.8v0.8h-0.8zM130.0 199.6h0.8v0.8h-0.8zM125.5 195.6h0.8v0.8h-0.8zM139.9 199.9h0.8v0.8h-0.8zM135.2 201.4h0.8v0.8h-0.8zM156.1 202.8h0.8v0.8h-0.8zM131.9 201.7h0.8v0.8h-0.8zM132.5 203.5h0.8v0.8h-0.8zM135.7 201.1h0.8v0.8h-0.8zM124.0 200.1h0.8v0.8h-0.8zM129.8 193.6h0.8v0.8h-0.8zM148.8 198.3h0.8v0.8h-0.8zM135.5 205.2h0.8v0.8h-0.8zM131.9 200.5h0.8v0.8h-0.8zM127.0 202.7h0.8v0.8h-0.8zM140.9 199.4h0.8v0.8h-0.8zM141.4 197.9h0.8v0.8h-0.8zM138.4 206.8h0.8v0.8h-0.8zM133.6 201.3h0.8v0.8h-0.8zM138.8 205.0h0.8v0.8h-0.8zM139.4 201.8h0.8v0.8h-0.8zM131.4 199.1h0.8v0.8h-0.8zM141.2 192.7h0.8v0.8h-0.8zM120.6 200.4h0.8v0.8h-0.8zM126.8 194.9h0.8v0.8h-0.8zM134.2 192.7h0.8v0.8h-0.8zM135.7 204.2h0.8v0.8h-0.8zM127.8 202.5h0.8v0.8h-0.8zM139.0 202.2h0.8v0.8h-0.8zM144.4 200.2h0.8v0.8h-0.8zM139.9 199.9h0.8v0.8h-0.8zM138.2 201.5h0.8v0.8h-0.8zM142.7 200.6h0.8v0.8h-0.8zM139.5 200.3h0.8v0.8h-0.8zM127.9 202.5h0.8v0.8h-0.8zM135.0 191.9h0.8v0.8h-0.8zM146.2 203.0h0.8v0.8h-0.8zM128.0 198.0h0.8v0.8h-0.8zM137.0 202.9h0.8v0.8h-0.8zM133.6 203.9h0.8v0.8h-0.8zM129.8 197.2h0.8v0.8h-0.8zM128.9 202.6h0.8v0.8h-0.8zM137.3 202.6h0.8v0.8h-0.8zM138.9 197.6h0.8v0.8h-0.8zM138.8 198.2h0.8v0.8h-0.8zM125.7 200.3h0.8v0.8h-0.8zM134.3 192.5h0.8v0.8h-0.8zM139.1 198.4h0.8v0.8h-0.8zM143.6 200.5h0.8v0.8h-0.8z" fill="#9c9c9c" filter="url(#b3)"/>
<path d="M145.6 201.2h0.7v0.7h-0.7zM121.1 200.7h0.7v0.7h-0.7zM141.3 198.3h0.7v0.7h-0.7zM136.8 201.3h0.7v0.7h-0.7zM143.1 203.5h0.7v0.7h-0.7zM138.4 199.9h0.7v0.7h-0.7zM145.6 201.6h0.7v0.7h-0.7zM136.7 199.7h0.7v0.7h-0.7zM133.9 202.6h0.7v0.7h-0.7zM139.4 201.7h0.7v0.7h-0.7zM138.7 202.2h0.7v0.7h-0.7zM134.7 200.9h0.7v0.7h-0.7zM135.3 204.1h0.7v0.7h-0.7zM140.1 199.1h0.7v0.7h-0.7zM140.0 199.2h0.7v0.7h-0.7zM134.0 198.5h0.7v0.7h-0.7zM134.7 201.5h0.7v0.7h-0.7zM127.5 198.4h0.7v0.7h-0.7zM144.9 198.4h0.7v0.7h-0.7zM135.4 201.8h0.7v0.7h-0.7zM143.2 202.9h0.7v0.7h-0.7zM138.6 201.4h0.7v0.7h-0.7zM146.2 193.3h0.7v0.7h-0.7zM144.2 197.6h0.7v0.7h-0.7zM138.1 197.3h0.7v0.7h-0.7zM143.9 197.0h0.7v0.7h-0.7zM131.7 199.0h0.7v0.7h-0.7zM142.8 204.5h0.7v0.7h-0.7zM129.1 199.2h0.7v0.7h-0.7zM138.2 198.2h0.7v0.7h-0.7zM141.8 201.7h0.7v0.7h-0.7zM137.6 200.2h0.7v0.7h-0.7zM134.7 200.3h0.7v0.7h-0.7zM132.5 198.3h0.7v0.7h-0.7zM134.8 200.0h0.7v0.7h-0.7zM141.8 201.1h0.7v0.7h-0.7zM141.0 195.2h0.7v0.7h-0.7zM135.2 196.0h0.7v0.7h-0.7zM130.3 202.7h0.7v0.7h-0.7zM139.9 202.1h0.7v0.7h-0.7zM129.3 198.7h0.7v0.7h-0.7zM133.8 197.4h0.7v0.7h-0.7zM132.8 199.5h0.7v0.7h-0.7zM140.2 197.0h0.7v0.7h-0.7zM137.7 199.1h0.7v0.7h-0.7z" fill="#6a6a6a" filter="url(#b3)"/>
<path d="M132.9 162.5h0.8v0.8h-0.8zM115.0 180.9h0.8v0.8h-0.8zM128.0 161.5h0.8v0.8h-0.8zM134.0 164.5h0.8v0.8h-0.8zM125.7 181.9h0.8v0.8h-0.8zM122.1 176.0h0.8v0.8h-0.8zM130.3 173.2h0.8v0.8h-0.8zM128.5 170.9h0.8v0.8h-0.8zM119.1 173.4h0.8v0.8h-0.8zM123.1 171.1h0.8v0.8h-0.8zM129.7 162.8h0.8v0.8h-0.8zM103.7 166.2h0.8v0.8h-0.8zM125.9 168.0h0.8v0.8h-0.8zM129.3 171.8h0.8v0.8h-0.8zM116.5 169.7h0.8v0.8h-0.8zM120.6 176.6h0.8v0.8h-0.8zM110.0 178.3h0.8v0.8h-0.8zM126.0 177.5h0.8v0.8h-0.8zM138.2 171.1h0.8v0.8h-0.8zM112.7 169.6h0.8v0.8h-0.8zM118.9 161.9h0.8v0.8h-0.8zM135.2 168.8h0.8v0.8h-0.8zM122.3 177.9h0.8v0.8h-0.8zM117.3 168.7h0.8v0.8h-0.8zM126.7 167.4h0.8v0.8h-0.8zM102.5 164.8h0.8v0.8h-0.8zM107.1 174.7h0.8v0.8h-0.8zM134.4 171.9h0.8v0.8h-0.8zM107.3 162.4h0.8v0.8h-0.8zM102.4 166.5h0.8v0.8h-0.8zM136.5 163.0h0.8v0.8h-0.8zM129.9 164.6h0.8v0.8h-0.8zM138.4 166.8h0.8v0.8h-0.8zM130.2 163.0h0.8v0.8h-0.8zM136.4 182.2h0.8v0.8h-0.8zM114.4 174.7h0.8v0.8h-0.8zM130.0 163.9h0.8v0.8h-0.8zM107.5 172.4h0.8v0.8h-0.8zM132.6 169.7h0.8v0.8h-0.8zM129.1 165.5h0.8v0.8h-0.8zM108.6 170.1h0.8v0.8h-0.8zM108.3 173.3h0.8v0.8h-0.8zM107.7 163.5h0.8v0.8h-0.8zM132.4 181.4h0.8v0.8h-0.8zM126.5 171.8h0.8v0.8h-0.8zM112.0 163.0h0.8v0.8h-0.8zM126.2 175.8h0.8v0.8h-0.8zM127.4 181.3h0.8v0.8h-0.8zM127.5 161.7h0.8v0.8h-0.8zM139.1 175.7h0.8v0.8h-0.8zM133.4 179.0h0.8v0.8h-0.8zM117.6 170.8h0.8v0.8h-0.8zM103.1 163.0h0.8v0.8h-0.8zM110.0 177.3h0.8v0.8h-0.8zM104.1 168.4h0.8v0.8h-0.8zM131.1 167.8h0.8v0.8h-0.8zM131.4 177.6h0.8v0.8h-0.8zM109.4 161.5h0.8v0.8h-0.8zM137.3 166.6h0.8v0.8h-0.8zM113.6 180.4h0.8v0.8h-0.8zM119.0 164.7h0.8v0.8h-0.8zM123.4 162.9h0.8v0.8h-0.8zM139.2 163.4h0.8v0.8h-0.8zM135.4 172.3h0.8v0.8h-0.8zM106.8 169.3h0.8v0.8h-0.8zM135.3 172.2h0.8v0.8h-0.8zM109.0 180.6h0.8v0.8h-0.8zM131.8 166.5h0.8v0.8h-0.8zM126.8 177.5h0.8v0.8h-0.8zM107.1 173.6h0.8v0.8h-0.8z" fill="#dadada" filter="url(#b3)"/>
<path d="M99.30 147.40V207.20H160.50V147.40" fill="none" stroke="#9a9a9a" stroke-width="0.8"/>
<line x1="99.30" y1="147.40" x2="160.50" y2="147.40" stroke="#d4d4d4" stroke-width="0.8"/>
<line x1="97.70" y1="153.60" x2="99.30" y2="153.60" stroke="#333" stroke-width="0.8"/>
<text x="95.90" y="155.90" font-size="6.6" text-anchor="end" fill="#222">10<tspan font-size="4.62" dy="-2.77">5</tspan></text>
<line x1="97.70" y1="167.60" x2="99.30" y2="167.60" stroke="#333" stroke-width="0.8"/>
<text x="95.90" y="169.90" font-size="6.6" text-anchor="end" fill="#222">10<tspan font-size="4.62" dy="-2.77">4</tspan></text>
<line x1="97.70" y1="183.20" x2="99.30" y2="183.20" stroke="#333" stroke-width="0.8"/>
<text x="95.90" y="185.50" font-size="6.6" text-anchor="end" fill="#222">10<tspan font-size="4.62" dy="-2.77">3</tspan></text>
<line x1="97.70" y1="193.90" x2="99.30" y2="193.90" stroke="#333" stroke-width="0.8"/>
<text x="93.50" y="196.20" font-size="6.6" text-anchor="end" fill="#222">0</text>
<line x1="97.70" y1="205.70" x2="99.30" y2="205.70" stroke="#333" stroke-width="0.8"/>
<text x="95.90" y="208.00" font-size="6.6" text-anchor="end" fill="#222">-10<tspan font-size="4.62" dy="-2.77">3</tspan></text>
<line x1="98.30" y1="157.40" x2="99.30" y2="157.40" stroke="#666" stroke-width="0.5"/>
<line x1="98.30" y1="160.40" x2="99.30" y2="160.40" stroke="#666" stroke-width="0.5"/>
<line x1="98.30" y1="162.40" x2="99.30" y2="162.40" stroke="#666" stroke-width="0.5"/>
<line x1="98.30" y1="163.90" x2="99.30" y2="163.90" stroke="#666" stroke-width="0.5"/>
<line x1="98.30" y1="171.40" x2="99.30" y2="171.40" stroke="#666" stroke-width="0.5"/>
<line x1="98.30" y1="174.40" x2="99.30" y2="174.40" stroke="#666" stroke-width="0.5"/>
<line x1="98.30" y1="176.40" x2="99.30" y2="176.40" stroke="#666" stroke-width="0.5"/>
<line x1="98.30" y1="177.90" x2="99.30" y2="177.90" stroke="#666" stroke-width="0.5"/>
<line x1="98.30" y1="187.40" x2="99.30" y2="187.40" stroke="#666" stroke-width="0.5"/>
<line x1="98.30" y1="199.40" x2="99.30" y2="199.40" stroke="#666" stroke-width="0.5"/>
<line x1="103.10" y1="207.20" x2="103.10" y2="208.80" stroke="#333" stroke-width="0.8"/>
<text x="97.50" y="218.00" font-size="6.6" text-anchor="start" fill="#222" textLength="10.8" lengthAdjust="spacingAndGlyphs">-10<tspan font-size="4.62" dy="-2.77">3</tspan></text>
<line x1="112.50" y1="207.20" x2="112.50" y2="208.80" stroke="#333" stroke-width="0.8"/>
<text x="112.50" y="218.00" font-size="6.6" text-anchor="middle" fill="#222">0</text>
<line x1="121.90" y1="207.20" x2="121.90" y2="208.80" stroke="#333" stroke-width="0.8"/>
<text x="117.40" y="218.00" font-size="6.6" text-anchor="start" fill="#222">10<tspan font-size="4.62" dy="-2.77">3</tspan></text>
<line x1="139.90" y1="207.20" x2="139.90" y2="208.80" stroke="#333" stroke-width="0.8"/>
<text x="135.40" y="218.00" font-size="6.6" text-anchor="start" fill="#222">10<tspan font-size="4.62" dy="-2.77">4</tspan></text>
<line x1="154.10" y1="207.20" x2="154.10" y2="208.80" stroke="#333" stroke-width="0.8"/>
<text x="149.60" y="218.00" font-size="6.6" text-anchor="start" fill="#222">10<tspan font-size="4.62" dy="-2.77">5</tspan></text>
<line x1="106.30" y1="207.20" x2="106.30" y2="208.20" stroke="#666" stroke-width="0.5"/>
<line x1="108.80" y1="207.20" x2="108.80" y2="208.20" stroke="#666" stroke-width="0.5"/>
<line x1="116.30" y1="207.20" x2="116.30" y2="208.20" stroke="#666" stroke-width="0.5"/>
<line x1="126.30" y1="207.20" x2="126.30" y2="208.20" stroke="#666" stroke-width="0.5"/>
<line x1="130.30" y1="207.20" x2="130.30" y2="208.20" stroke="#666" stroke-width="0.5"/>
<line x1="133.30" y1="207.20" x2="133.30" y2="208.20" stroke="#666" stroke-width="0.5"/>
<line x1="143.80" y1="207.20" x2="143.80" y2="208.20" stroke="#666" stroke-width="0.5"/>
<line x1="147.30" y1="207.20" x2="147.30" y2="208.20" stroke="#666" stroke-width="0.5"/>
<rect x="98.00" y="192.40" width="1.5" height="3" fill="#111"/>
<rect x="110.80" y="206.80" width="3" height="1.6" fill="#111"/>
<rect x="99.30" y="157.6" width="40.8" height="25.9" fill="none" stroke="#707070" stroke-width="1.1"/>
<rect x="121.2" y="191.8" width="30.3" height="15.4" fill="none" stroke="#707070" stroke-width="1.1"/>
<text x="111.00" y="155.90" font-size="6.5" font-weight="bold" textLength="18.0" lengthAdjust="spacingAndGlyphs">11.1%</text>
<text x="136.70" y="191.10" font-size="6.5" font-weight="bold" textLength="18.0" lengthAdjust="spacingAndGlyphs">58.4%</text>
<ellipse cx="236.50" cy="192.20" rx="15" ry="4.2" fill="#a8a8a8" fill-opacity="0.65" filter="url(#b16)" transform="rotate(0 236.50 192.20)"/>
<ellipse cx="234.00" cy="192.30" rx="8" ry="2.6" fill="#808080" fill-opacity="0.55" filter="url(#b12)" transform="rotate(0 234.00 192.30)"/>
<ellipse cx="221.50" cy="192.50" rx="1.8" ry="3.8" fill="#7a7a7a" fill-opacity="0.7" filter="url(#b8)" transform="rotate(0 221.50 192.50)"/>
<path d="M239.7 193.3h0.8v0.8h-0.8zM250.1 190.6h0.8v0.8h-0.8zM220.4 192.1h0.8v0.8h-0.8zM251.7 190.9h0.8v0.8h-0.8zM236.1 194.0h0.8v0.8h-0.8zM229.3 193.4h0.8v0.8h-0.8zM229.3 190.9h0.8v0.8h-0.8zM226.8 193.1h0.8v0.8h-0.8zM234.5 191.6h0.8v0.8h-0.8zM244.0 192.2h0.8v0.8h-0.8zM241.8 192.4h0.8v0.8h-0.8zM242.2 191.2h0.8v0.8h-0.8zM221.2 193.2h0.8v0.8h-0.8zM222.4 193.2h0.8v0.8h-0.8zM250.5 193.2h0.8v0.8h-0.8zM245.2 194.5h0.8v0.8h-0.8zM256.1 191.8h0.8v0.8h-0.8zM247.4 189.3h0.8v0.8h-0.8zM227.3 191.3h0.8v0.8h-0.8zM248.1 192.7h0.8v0.8h-0.8zM242.2 192.3h0.8v0.8h-0.8zM238.4 193.5h0.8v0.8h-0.8zM229.1 193.9h0.8v0.8h-0.8zM236.5 192.1h0.8v0.8h-0.8zM235.2 192.1h0.8v0.8h-0.8zM244.5 190.3h0.8v0.8h-0.8zM237.6 194.4h0.8v0.8h-0.8zM250.8 191.8h0.8v0.8h-0.8zM229.5 190.1h0.8v0.8h-0.8zM240.7 190.1h0.8v0.8h-0.8zM241.0 191.5h0.8v0.8h-0.8zM228.7 195.4h0.8v0.8h-0.8zM225.9 193.8h0.8v0.8h-0.8zM245.6 188.9h0.8v0.8h-0.8zM241.2 192.1h0.8v0.8h-0.8zM235.0 192.8h0.8v0.8h-0.8zM240.0 193.6h0.8v0.8h-0.8zM230.4 193.0h0.8v0.8h-0.8zM238.6 191.0h0.8v0.8h-0.8zM231.1 193.1h0.8v0.8h-0.8zM238.2 191.2h0.8v0.8h-0.8zM245.4 187.8h0.8v0.8h-0.8zM233.4 190.9h0.8v0.8h-0.8zM244.1 190.9h0.8v0.8h-0.8zM227.2 194.2h0.8v0.8h-0.8zM233.9 194.4h0.8v0.8h-0.8zM224.2 190.2h0.8v0.8h-0.8zM235.6 192.6h0.8v0.8h-0.8zM237.2 192.5h0.8v0.8h-0.8zM234.7 189.4h0.8v0.8h-0.8zM234.1 188.2h0.8v0.8h-0.8zM248.6 192.1h0.8v0.8h-0.8zM249.3 192.6h0.8v0.8h-0.8zM225.6 191.1h0.8v0.8h-0.8zM247.1 186.9h0.8v0.8h-0.8zM221.0 192.2h0.8v0.8h-0.8zM229.9 191.1h0.8v0.8h-0.8zM234.9 190.5h0.8v0.8h-0.8zM237.5 191.7h0.8v0.8h-0.8zM227.1 190.0h0.8v0.8h-0.8zM230.0 193.4h0.8v0.8h-0.8zM237.2 192.3h0.8v0.8h-0.8zM230.3 191.2h0.8v0.8h-0.8zM230.7 192.9h0.8v0.8h-0.8zM242.5 192.2h0.8v0.8h-0.8zM244.9 189.3h0.8v0.8h-0.8zM236.0 192.0h0.8v0.8h-0.8zM236.7 191.4h0.8v0.8h-0.8zM236.3 188.8h0.8v0.8h-0.8zM232.4 191.0h0.8v0.8h-0.8zM231.9 193.2h0.8v0.8h-0.8zM227.2 191.1h0.8v0.8h-0.8zM242.3 195.1h0.8v0.8h-0.8zM235.7 195.7h0.8v0.8h-0.8zM235.3 191.7h0.8v0.8h-0.8zM238.3 193.4h0.8v0.8h-0.8zM241.3 196.3h0.8v0.8h-0.8zM249.3 191.6h0.8v0.8h-0.8zM234.0 190.5h0.8v0.8h-0.8zM232.9 191.5h0.8v0.8h-0.8zM238.3 189.6h0.8v0.8h-0.8zM228.9 189.6h0.8v0.8h-0.8zM248.0 192.7h0.8v0.8h-0.8zM244.8 191.5h0.8v0.8h-0.8zM242.7 192.8h0.8v0.8h-0.8zM235.4 193.3h0.8v0.8h-0.8zM243.2 190.8h0.8v0.8h-0.8zM246.0 191.9h0.8v0.8h-0.8zM241.0 191.8h0.8v0.8h-0.8zM234.0 191.0h0.8v0.8h-0.8zM221.3 190.6h0.8v0.8h-0.8zM245.0 192.9h0.8v0.8h-0.8zM233.3 192.0h0.8v0.8h-0.8zM228.9 193.0h0.8v0.8h-0.8zM244.5 194.3h0.8v0.8h-0.8zM239.5 194.3h0.8v0.8h-0.8zM223.7 190.1h0.8v0.8h-0.8zM235.6 190.6h0.8v0.8h-0.8zM234.1 191.8h0.8v0.8h-0.8zM245.4 192.5h0.8v0.8h-0.8zM219.4 194.2h0.8v0.8h-0.8zM233.0 190.4h0.8v0.8h-0.8zM235.3 191.4h0.8v0.8h-0.8zM249.3 192.8h0.8v0.8h-0.8zM226.7 194.8h0.8v0.8h-0.8zM210.0 195.1h0.8v0.8h-0.8zM224.0 190.3h0.8v0.8h-0.8zM238.9 191.9h0.8v0.8h-0.8zM243.8 190.7h0.8v0.8h-0.8zM252.1 194.0h0.8v0.8h-0.8zM240.1 193.2h0.8v0.8h-0.8zM229.3 191.6h0.8v0.8h-0.8zM244.5 191.1h0.8v0.8h-0.8zM236.4 192.9h0.8v0.8h-0.8zM234.7 194.3h0.8v0.8h-0.8zM236.7 190.8h0.8v0.8h-0.8zM248.0 191.7h0.8v0.8h-0.8zM228.4 192.5h0.8v0.8h-0.8zM227.3 192.3h0.8v0.8h-0.8zM235.9 193.0h0.8v0.8h-0.8zM235.9 190.3h0.8v0.8h-0.8zM229.2 191.1h0.8v0.8h-0.8zM228.6 188.1h0.8v0.8h-0.8zM239.9 192.4h0.8v0.8h-0.8zM248.5 194.4h0.8v0.8h-0.8zM242.9 188.2h0.8v0.8h-0.8zM242.7 191.0h0.8v0.8h-0.8zM247.7 194.1h0.8v0.8h-0.8zM218.6 192.0h0.8v0.8h-0.8zM222.9 188.5h0.8v0.8h-0.8zM230.2 194.6h0.8v0.8h-0.8zM225.7 189.4h0.8v0.8h-0.8zM227.6 195.0h0.8v0.8h-0.8zM237.1 191.1h0.8v0.8h-0.8zM224.9 190.9h0.8v0.8h-0.8zM232.5 192.4h0.8v0.8h-0.8zM218.1 192.3h0.8v0.8h-0.8zM227.7 193.5h0.8v0.8h-0.8zM248.6 193.3h0.8v0.8h-0.8zM231.6 192.0h0.8v0.8h-0.8zM239.4 194.9h0.8v0.8h-0.8zM242.9 193.7h0.8v0.8h-0.8zM232.1 192.8h0.8v0.8h-0.8zM241.7 192.6h0.8v0.8h-0.8zM238.4 192.1h0.8v0.8h-0.8zM242.8 192.1h0.8v0.8h-0.8zM230.8 193.6h0.8v0.8h-0.8zM223.5 193.2h0.8v0.8h-0.8zM227.3 192.4h0.8v0.8h-0.8zM231.5 194.3h0.8v0.8h-0.8zM241.3 191.8h0.8v0.8h-0.8zM234.7 193.2h0.8v0.8h-0.8zM232.9 194.0h0.8v0.8h-0.8zM234.9 190.1h0.8v0.8h-0.8zM246.4 191.8h0.8v0.8h-0.8zM231.3 195.6h0.8v0.8h-0.8zM250.1 190.4h0.8v0.8h-0.8zM225.5 194.6h0.8v0.8h-0.8zM231.2 190.2h0.8v0.8h-0.8zM244.2 193.1h0.8v0.8h-0.8z" fill="#8c8c8c" filter="url(#b3)"/>
<path d="M222.2 192.6h0.8v0.8h-0.8zM221.8 195.8h0.8v0.8h-0.8zM221.4 190.6h0.8v0.8h-0.8zM218.7 192.4h0.8v0.8h-0.8zM222.0 199.5h0.8v0.8h-0.8zM218.9 190.0h0.8v0.8h-0.8zM222.6 188.4h0.8v0.8h-0.8zM222.2 191.4h0.8v0.8h-0.8zM222.5 197.0h0.8v0.8h-0.8zM222.5 197.6h0.8v0.8h-0.8zM221.9 189.5h0.8v0.8h-0.8zM220.9 193.9h0.8v0.8h-0.8zM221.1 192.5h0.8v0.8h-0.8zM223.3 191.0h0.8v0.8h-0.8zM220.8 187.6h0.8v0.8h-0.8zM221.2 195.1h0.8v0.8h-0.8zM220.6 190.3h0.8v0.8h-0.8zM220.9 193.2h0.8v0.8h-0.8zM221.1 192.7h0.8v0.8h-0.8zM221.8 197.2h0.8v0.8h-0.8zM221.1 195.4h0.8v0.8h-0.8zM221.1 189.6h0.8v0.8h-0.8zM220.8 191.8h0.8v0.8h-0.8zM221.6 195.1h0.8v0.8h-0.8zM219.9 189.2h0.8v0.8h-0.8z" fill="#666" filter="url(#b3)"/>
<path d="M238.6 180.4h0.8v0.8h-0.8zM241.0 179.0h0.8v0.8h-0.8zM246.4 177.7h0.8v0.8h-0.8zM244.2 180.4h0.8v0.8h-0.8zM246.1 180.4h0.8v0.8h-0.8zM246.2 177.8h0.8v0.8h-0.8zM256.0 179.4h0.8v0.8h-0.8zM230.8 179.3h0.8v0.8h-0.8zM251.8 181.2h0.8v0.8h-0.8zM254.3 179.9h0.8v0.8h-0.8zM250.8 178.7h0.8v0.8h-0.8zM241.1 181.0h0.8v0.8h-0.8zM258.2 178.8h0.8v0.8h-0.8zM229.0 180.4h0.8v0.8h-0.8zM253.7 178.3h0.8v0.8h-0.8zM247.3 178.4h0.8v0.8h-0.8zM229.3 178.1h0.8v0.8h-0.8zM238.6 180.8h0.8v0.8h-0.8zM240.1 178.3h0.8v0.8h-0.8zM233.6 178.6h0.8v0.8h-0.8zM248.6 178.3h0.8v0.8h-0.8zM242.1 180.7h0.8v0.8h-0.8z" fill="#d0d0d0" filter="url(#b3)"/>
<path d="M205.00 147.40V207.20H266.20V147.40" fill="none" stroke="#9a9a9a" stroke-width="0.8"/>
<line x1="205.00" y1="147.40" x2="266.20" y2="147.40" stroke="#d4d4d4" stroke-width="0.8"/>
<line x1="203.40" y1="153.60" x2="205.00" y2="153.60" stroke="#333" stroke-width="0.8"/>
<text x="201.60" y="155.90" font-size="6.6" text-anchor="end" fill="#222">10<tspan font-size="4.62" dy="-2.77">5</tspan></text>
<line x1="203.40" y1="167.60" x2="205.00" y2="167.60" stroke="#333" stroke-width="0.8"/>
<text x="201.60" y="169.90" font-size="6.6" text-anchor="end" fill="#222">10<tspan font-size="4.62" dy="-2.77">4</tspan></text>
<line x1="203.40" y1="183.20" x2="205.00" y2="183.20" stroke="#333" stroke-width="0.8"/>
<text x="201.60" y="185.50" font-size="6.6" text-anchor="end" fill="#222">10<tspan font-size="4.62" dy="-2.77">3</tspan></text>
<line x1="203.40" y1="193.90" x2="205.00" y2="193.90" stroke="#333" stroke-width="0.8"/>
<text x="199.20" y="196.20" font-size="6.6" text-anchor="end" fill="#222">0</text>
<line x1="203.40" y1="205.70" x2="205.00" y2="205.70" stroke="#333" stroke-width="0.8"/>
<text x="201.60" y="208.00" font-size="6.6" text-anchor="end" fill="#222">-10<tspan font-size="4.62" dy="-2.77">3</tspan></text>
<line x1="204.00" y1="157.40" x2="205.00" y2="157.40" stroke="#666" stroke-width="0.5"/>
<line x1="204.00" y1="160.40" x2="205.00" y2="160.40" stroke="#666" stroke-width="0.5"/>
<line x1="204.00" y1="162.40" x2="205.00" y2="162.40" stroke="#666" stroke-width="0.5"/>
<line x1="204.00" y1="163.90" x2="205.00" y2="163.90" stroke="#666" stroke-width="0.5"/>
<line x1="204.00" y1="171.40" x2="205.00" y2="171.40" stroke="#666" stroke-width="0.5"/>
<line x1="204.00" y1="174.40" x2="205.00" y2="174.40" stroke="#666" stroke-width="0.5"/>
<line x1="204.00" y1="176.40" x2="205.00" y2="176.40" stroke="#666" stroke-width="0.5"/>
<line x1="204.00" y1="177.90" x2="205.00" y2="177.90" stroke="#666" stroke-width="0.5"/>
<line x1="204.00" y1="187.40" x2="205.00" y2="187.40" stroke="#666" stroke-width="0.5"/>
<line x1="204.00" y1="199.40" x2="205.00" y2="199.40" stroke="#666" stroke-width="0.5"/>
<line x1="208.80" y1="207.20" x2="208.80" y2="208.80" stroke="#333" stroke-width="0.8"/>
<text x="203.20" y="218.00" font-size="6.6" text-anchor="start" fill="#222" textLength="10.8" lengthAdjust="spacingAndGlyphs">-10<tspan font-size="4.62" dy="-2.77">3</tspan></text>
<line x1="218.20" y1="207.20" x2="218.20" y2="208.80" stroke="#333" stroke-width="0.8"/>
<text x="218.20" y="218.00" font-size="6.6" text-anchor="middle" fill="#222">0</text>
<line x1="227.60" y1="207.20" x2="227.60" y2="208.80" stroke="#333" stroke-width="0.8"/>
<text x="223.10" y="218.00" font-size="6.6" text-anchor="start" fill="#222">10<tspan font-size="4.62" dy="-2.77">3</tspan></text>
<line x1="245.60" y1="207.20" x2="245.60" y2="208.80" stroke="#333" stroke-width="0.8"/>
<text x="241.10" y="218.00" font-size="6.6" text-anchor="start" fill="#222">10<tspan font-size="4.62" dy="-2.77">4</tspan></text>
<line x1="259.80" y1="207.20" x2="259.80" y2="208.80" stroke="#333" stroke-width="0.8"/>
<text x="255.30" y="218.00" font-size="6.6" text-anchor="start" fill="#222">10<tspan font-size="4.62" dy="-2.77">5</tspan></text>
<line x1="212.00" y1="207.20" x2="212.00" y2="208.20" stroke="#666" stroke-width="0.5"/>
<line x1="214.50" y1="207.20" x2="214.50" y2="208.20" stroke="#666" stroke-width="0.5"/>
<line x1="222.00" y1="207.20" x2="222.00" y2="208.20" stroke="#666" stroke-width="0.5"/>
<line x1="232.00" y1="207.20" x2="232.00" y2="208.20" stroke="#666" stroke-width="0.5"/>
<line x1="236.00" y1="207.20" x2="236.00" y2="208.20" stroke="#666" stroke-width="0.5"/>
<line x1="239.00" y1="207.20" x2="239.00" y2="208.20" stroke="#666" stroke-width="0.5"/>
<line x1="249.50" y1="207.20" x2="249.50" y2="208.20" stroke="#666" stroke-width="0.5"/>
<line x1="253.00" y1="207.20" x2="253.00" y2="208.20" stroke="#666" stroke-width="0.5"/>
<rect x="203.70" y="192.40" width="1.5" height="3" fill="#111"/>
<rect x="216.50" y="206.80" width="3" height="1.6" fill="#111"/>
<line x1="225.80" y1="147.40" x2="225.80" y2="207.20" stroke="#444" stroke-width="0.9"/>
<line x1="205.00" y1="182.00" x2="266.20" y2="182.00" stroke="#444" stroke-width="0.9"/>
<text x="205.90" y="155.90" font-size="6.5" font-weight="bold" textLength="18.0" lengthAdjust="spacingAndGlyphs">0.20%</text>
<text x="264.60" y="155.90" font-size="6.5" text-anchor="end" font-weight="bold" textLength="18.0" lengthAdjust="spacingAndGlyphs">1.60%</text>
<text x="205.90" y="204.90" font-size="6.5" font-weight="bold" textLength="18.0" lengthAdjust="spacingAndGlyphs">26.7%</text>
<text x="264.60" y="204.90" font-size="6.5" text-anchor="end" font-weight="bold" textLength="18.0" lengthAdjust="spacingAndGlyphs">71.5%</text>
<ellipse cx="350.20" cy="180.50" rx="2.8" ry="7" fill="#c4c4c4" fill-opacity="0.6" filter="url(#b12)" transform="rotate(0 350.20 180.50)"/>
<path d="M349.0 180.6h0.8v0.8h-0.8zM350.7 178.3h0.8v0.8h-0.8zM351.5 180.1h0.8v0.8h-0.8zM347.6 177.9h0.8v0.8h-0.8zM351.9 183.1h0.8v0.8h-0.8zM350.6 175.9h0.8v0.8h-0.8zM352.0 183.8h0.8v0.8h-0.8zM350.7 186.7h0.8v0.8h-0.8zM352.9 178.7h0.8v0.8h-0.8zM347.7 188.7h0.8v0.8h-0.8zM354.4 190.1h0.8v0.8h-0.8zM353.0 182.2h0.8v0.8h-0.8zM348.5 173.2h0.8v0.8h-0.8zM351.7 171.9h0.8v0.8h-0.8zM351.1 179.1h0.8v0.8h-0.8zM345.6 188.9h0.8v0.8h-0.8zM351.5 182.9h0.8v0.8h-0.8zM348.5 183.8h0.8v0.8h-0.8zM349.4 178.7h0.8v0.8h-0.8zM348.5 176.3h0.8v0.8h-0.8zM348.9 181.9h0.8v0.8h-0.8zM350.2 174.5h0.8v0.8h-0.8zM350.2 179.0h0.8v0.8h-0.8zM346.1 182.6h0.8v0.8h-0.8zM349.3 180.2h0.8v0.8h-0.8zM346.6 182.6h0.8v0.8h-0.8zM346.8 177.8h0.8v0.8h-0.8zM349.1 183.0h0.8v0.8h-0.8zM352.1 182.0h0.8v0.8h-0.8zM351.6 171.8h0.8v0.8h-0.8zM348.5 174.8h0.8v0.8h-0.8zM348.2 176.4h0.8v0.8h-0.8zM347.9 183.3h0.8v0.8h-0.8zM350.4 181.5h0.8v0.8h-0.8zM352.3 181.4h0.8v0.8h-0.8zM350.0 180.9h0.8v0.8h-0.8zM351.7 183.2h0.8v0.8h-0.8zM350.8 184.7h0.8v0.8h-0.8zM353.8 177.2h0.8v0.8h-0.8zM345.0 172.0h0.8v0.8h-0.8zM344.7 183.3h0.8v0.8h-0.8zM349.5 179.0h0.8v0.8h-0.8zM351.6 180.2h0.8v0.8h-0.8zM349.0 179.1h0.8v0.8h-0.8zM351.1 174.4h0.8v0.8h-0.8zM347.1 172.4h0.8v0.8h-0.8zM346.9 184.8h0.8v0.8h-0.8zM348.2 185.5h0.8v0.8h-0.8zM352.1 184.7h0.8v0.8h-0.8zM351.7 181.0h0.8v0.8h-0.8zM348.2 181.3h0.8v0.8h-0.8zM350.5 177.9h0.8v0.8h-0.8zM348.4 180.3h0.8v0.8h-0.8zM350.1 178.0h0.8v0.8h-0.8zM347.2 177.3h0.8v0.8h-0.8zM349.9 181.0h0.8v0.8h-0.8zM348.2 188.5h0.8v0.8h-0.8zM349.9 170.6h0.8v0.8h-0.8zM348.4 183.0h0.8v0.8h-0.8zM347.9 183.4h0.8v0.8h-0.8z" fill="#bbbbbb" filter="url(#b3)"/>
<ellipse cx="350.40" cy="193.00" rx="8" ry="4" fill="#8a8a8a" fill-opacity="0.6" filter="url(#b12)" transform="rotate(0 350.40 193.00)"/>
<path d="M354.5 196.1h0.8v0.8h-0.8zM353.8 191.6h0.8v0.8h-0.8zM350.3 192.8h0.8v0.8h-0.8zM353.3 190.5h0.8v0.8h-0.8zM347.5 193.4h0.8v0.8h-0.8zM342.2 199.9h0.8v0.8h-0.8zM358.0 195.8h0.8v0.8h-0.8zM352.5 191.1h0.8v0.8h-0.8zM341.1 189.3h0.8v0.8h-0.8zM345.6 194.4h0.8v0.8h-0.8zM347.6 194.7h0.8v0.8h-0.8zM351.9 191.8h0.8v0.8h-0.8zM356.4 196.1h0.8v0.8h-0.8zM351.8 194.1h0.8v0.8h-0.8zM348.5 194.8h0.8v0.8h-0.8zM352.5 194.9h0.8v0.8h-0.8zM349.4 195.6h0.8v0.8h-0.8zM351.2 192.2h0.8v0.8h-0.8zM347.4 191.7h0.8v0.8h-0.8zM345.0 196.2h0.8v0.8h-0.8zM356.2 192.9h0.8v0.8h-0.8zM349.0 190.5h0.8v0.8h-0.8zM350.9 194.0h0.8v0.8h-0.8zM347.7 192.2h0.8v0.8h-0.8zM347.9 193.9h0.8v0.8h-0.8zM348.8 200.2h0.8v0.8h-0.8zM353.4 197.2h0.8v0.8h-0.8zM355.9 192.3h0.8v0.8h-0.8zM352.8 190.5h0.8v0.8h-0.8zM347.9 193.2h0.8v0.8h-0.8zM363.0 191.1h0.8v0.8h-0.8zM354.2 193.8h0.8v0.8h-0.8zM354.6 193.9h0.8v0.8h-0.8zM347.9 194.7h0.8v0.8h-0.8zM349.3 193.2h0.8v0.8h-0.8zM353.1 190.2h0.8v0.8h-0.8zM342.6 192.9h0.8v0.8h-0.8zM346.9 193.4h0.8v0.8h-0.8zM352.2 193.7h0.8v0.8h-0.8zM361.3 195.9h0.8v0.8h-0.8zM352.3 191.0h0.8v0.8h-0.8zM345.7 192.9h0.8v0.8h-0.8zM344.9 191.9h0.8v0.8h-0.8zM354.8 191.4h0.8v0.8h-0.8zM346.7 194.6h0.8v0.8h-0.8zM348.8 191.8h0.8v0.8h-0.8zM359.2 197.5h0.8v0.8h-0.8zM350.7 187.7h0.8v0.8h-0.8zM348.8 196.5h0.8v0.8h-0.8zM346.9 192.7h0.8v0.8h-0.8zM356.4 190.5h0.8v0.8h-0.8zM356.3 193.5h0.8v0.8h-0.8zM347.4 193.4h0.8v0.8h-0.8zM344.0 195.3h0.8v0.8h-0.8zM349.9 195.9h0.8v0.8h-0.8zM356.6 191.5h0.8v0.8h-0.8zM352.5 193.2h0.8v0.8h-0.8zM344.9 193.9h0.8v0.8h-0.8zM351.9 193.6h0.8v0.8h-0.8zM353.9 192.4h0.8v0.8h-0.8zM350.3 196.1h0.8v0.8h-0.8zM351.1 193.8h0.8v0.8h-0.8zM350.4 190.2h0.8v0.8h-0.8zM348.1 193.7h0.8v0.8h-0.8zM347.4 192.6h0.8v0.8h-0.8zM344.2 192.5h0.8v0.8h-0.8zM345.0 195.0h0.8v0.8h-0.8zM342.6 194.6h0.8v0.8h-0.8zM352.4 193.8h0.8v0.8h-0.8zM352.5 194.1h0.8v0.8h-0.8zM350.6 195.1h0.8v0.8h-0.8zM352.3 191.8h0.8v0.8h-0.8zM350.6 193.3h0.8v0.8h-0.8zM346.9 195.9h0.8v0.8h-0.8zM351.2 191.8h0.8v0.8h-0.8zM348.8 192.1h0.8v0.8h-0.8zM349.3 191.7h0.8v0.8h-0.8zM340.9 195.4h0.8v0.8h-0.8zM347.8 192.0h0.8v0.8h-0.8zM352.1 195.5h0.8v0.8h-0.8zM348.7 192.2h0.8v0.8h-0.8zM346.4 193.5h0.8v0.8h-0.8zM342.9 193.8h0.8v0.8h-0.8zM347.2 191.9h0.8v0.8h-0.8zM356.6 190.9h0.8v0.8h-0.8zM347.4 195.2h0.8v0.8h-0.8zM354.9 192.2h0.8v0.8h-0.8zM348.1 194.2h0.8v0.8h-0.8zM355.0 194.5h0.8v0.8h-0.8zM347.8 189.9h0.8v0.8h-0.8zM352.0 195.8h0.8v0.8h-0.8zM353.2 193.3h0.8v0.8h-0.8zM353.0 192.4h0.8v0.8h-0.8zM346.0 192.2h0.8v0.8h-0.8zM348.7 192.0h0.8v0.8h-0.8zM346.4 193.6h0.8v0.8h-0.8zM349.7 197.6h0.8v0.8h-0.8zM348.9 192.8h0.8v0.8h-0.8zM349.2 190.6h0.8v0.8h-0.8zM353.1 192.5h0.8v0.8h-0.8zM345.6 197.7h0.8v0.8h-0.8zM346.8 193.2h0.8v0.8h-0.8zM347.7 197.4h0.8v0.8h-0.8zM349.3 191.4h0.8v0.8h-0.8zM346.7 191.4h0.8v0.8h-0.8zM352.7 190.5h0.8v0.8h-0.8zM345.5 191.0h0.8v0.8h-0.8zM358.3 192.9h0.8v0.8h-0.8zM350.6 193.3h0.8v0.8h-0.8zM355.7 189.2h0.8v0.8h-0.8zM345.5 190.7h0.8v0.8h-0.8zM349.0 191.2h0.8v0.8h-0.8zM351.0 192.1h0.8v0.8h-0.8zM358.4 196.0h0.8v0.8h-0.8zM351.0 196.3h0.8v0.8h-0.8zM357.2 193.9h0.8v0.8h-0.8zM347.3 194.6h0.8v0.8h-0.8zM357.3 191.1h0.8v0.8h-0.8zM347.5 193.6h0.8v0.8h-0.8zM342.5 189.0h0.8v0.8h-0.8zM341.7 192.7h0.8v0.8h-0.8zM351.5 193.5h0.8v0.8h-0.8zM349.6 194.6h0.8v0.8h-0.8zM351.6 192.5h0.8v0.8h-0.8zM350.2 192.5h0.8v0.8h-0.8zM352.7 190.5h0.8v0.8h-0.8zM357.8 187.8h0.8v0.8h-0.8zM349.6 191.3h0.8v0.8h-0.8zM351.8 188.4h0.8v0.8h-0.8zM348.8 191.8h0.8v0.8h-0.8zM342.8 192.0h0.8v0.8h-0.8zM349.3 189.6h0.8v0.8h-0.8zM357.3 188.6h0.8v0.8h-0.8zM346.9 192.2h0.8v0.8h-0.8zM361.0 191.3h0.8v0.8h-0.8zM353.1 193.6h0.8v0.8h-0.8zM352.7 194.6h0.8v0.8h-0.8zM354.9 196.2h0.8v0.8h-0.8zM350.7 194.8h0.8v0.8h-0.8zM350.9 190.6h0.8v0.8h-0.8z" fill="#6a6a6a" filter="url(#b3)"/>
<ellipse cx="350.40" cy="193.20" rx="5" ry="2.3" fill="#333" fill-opacity="0.85" filter="url(#b8)" transform="rotate(0 350.40 193.20)"/>
<path d="M311.10 147.40V207.20H372.30V147.40" fill="none" stroke="#9a9a9a" stroke-width="0.8"/>
<line x1="311.10" y1="147.40" x2="372.30" y2="147.40" stroke="#d4d4d4" stroke-width="0.8"/>
<line x1="309.50" y1="153.60" x2="311.10" y2="153.60" stroke="#333" stroke-width="0.8"/>
<text x="307.70" y="155.90" font-size="6.6" text-anchor="end" fill="#222">10<tspan font-size="4.62" dy="-2.77">5</tspan></text>
<line x1="309.50" y1="167.60" x2="311.10" y2="167.60" stroke="#333" stroke-width="0.8"/>
<text x="307.70" y="169.90" font-size="6.6" text-anchor="end" fill="#222">10<tspan font-size="4.62" dy="-2.77">4</tspan></text>
<line x1="309.50" y1="183.20" x2="311.10" y2="183.20" stroke="#333" stroke-width="0.8"/>
<text x="307.70" y="185.50" font-size="6.6" text-anchor="end" fill="#222">10<tspan font-size="4.62" dy="-2.77">3</tspan></text>
<line x1="309.50" y1="193.90" x2="311.10" y2="193.90" stroke="#333" stroke-width="0.8"/>
<text x="305.30" y="196.20" font-size="6.6" text-anchor="end" fill="#222">0</text>
<line x1="309.50" y1="205.70" x2="311.10" y2="205.70" stroke="#333" stroke-width="0.8"/>
<text x="307.70" y="208.00" font-size="6.6" text-anchor="end" fill="#222">-10<tspan font-size="4.62" dy="-2.77">3</tspan></text>
<line x1="310.10" y1="157.40" x2="311.10" y2="157.40" stroke="#666" stroke-width="0.5"/>
<line x1="310.10" y1="160.40" x2="311.10" y2="160.40" stroke="#666" stroke-width="0.5"/>
<line x1="310.10" y1="162.40" x2="311.10" y2="162.40" stroke="#666" stroke-width="0.5"/>
<line x1="310.10" y1="163.90" x2="311.10" y2="163.90" stroke="#666" stroke-width="0.5"/>
<line x1="310.10" y1="171.40" x2="311.10" y2="171.40" stroke="#666" stroke-width="0.5"/>
<line x1="310.10" y1="174.40" x2="311.10" y2="174.40" stroke="#666" stroke-width="0.5"/>
<line x1="310.10" y1="176.40" x2="311.10" y2="176.40" stroke="#666" stroke-width="0.5"/>
<line x1="310.10" y1="177.90" x2="311.10" y2="177.90" stroke="#666" stroke-width="0.5"/>
<line x1="310.10" y1="187.40" x2="311.10" y2="187.40" stroke="#666" stroke-width="0.5"/>
<line x1="310.10" y1="199.40" x2="311.10" y2="199.40" stroke="#666" stroke-width="0.5"/>
<line x1="314.90" y1="207.20" x2="314.90" y2="208.80" stroke="#333" stroke-width="0.8"/>
<text x="309.30" y="218.00" font-size="6.6" text-anchor="start" fill="#222" textLength="10.8" lengthAdjust="spacingAndGlyphs">-10<tspan font-size="4.62" dy="-2.77">3</tspan></text>
<line x1="324.30" y1="207.20" x2="324.30" y2="208.80" stroke="#333" stroke-width="0.8"/>
<text x="324.30" y="218.00" font-size="6.6" text-anchor="middle" fill="#222">0</text>
<line x1="333.70" y1="207.20" x2="333.70" y2="208.80" stroke="#333" stroke-width="0.8"/>
<text x="329.20" y="218.00" font-size="6.6" text-anchor="start" fill="#222">10<tspan font-size="4.62" dy="-2.77">3</tspan></text>
<line x1="351.70" y1="207.20" x2="351.70" y2="208.80" stroke="#333" stroke-width="0.8"/>
<text x="347.20" y="218.00" font-size="6.6" text-anchor="start" fill="#222">10<tspan font-size="4.62" dy="-2.77">4</tspan></text>
<line x1="365.90" y1="207.20" x2="365.90" y2="208.80" stroke="#333" stroke-width="0.8"/>
<text x="361.40" y="218.00" font-size="6.6" text-anchor="start" fill="#222">10<tspan font-size="4.62" dy="-2.77">5</tspan></text>
<line x1="318.10" y1="207.20" x2="318.10" y2="208.20" stroke="#666" stroke-width="0.5"/>
<line x1="320.60" y1="207.20" x2="320.60" y2="208.20" stroke="#666" stroke-width="0.5"/>
<line x1="328.10" y1="207.20" x2="328.10" y2="208.20" stroke="#666" stroke-width="0.5"/>
<line x1="338.10" y1="207.20" x2="338.10" y2="208.20" stroke="#666" stroke-width="0.5"/>
<line x1="342.10" y1="207.20" x2="342.10" y2="208.20" stroke="#666" stroke-width="0.5"/>
<line x1="345.10" y1="207.20" x2="345.10" y2="208.20" stroke="#666" stroke-width="0.5"/>
<line x1="355.60" y1="207.20" x2="355.60" y2="208.20" stroke="#666" stroke-width="0.5"/>
<line x1="359.10" y1="207.20" x2="359.10" y2="208.20" stroke="#666" stroke-width="0.5"/>
<rect x="309.80" y="192.40" width="1.5" height="3" fill="#111"/>
<rect x="322.60" y="206.80" width="3" height="1.6" fill="#111"/>
<line x1="334.60" y1="147.40" x2="334.60" y2="207.20" stroke="#444" stroke-width="0.9"/>
<line x1="311.10" y1="185.30" x2="372.30" y2="185.30" stroke="#444" stroke-width="0.9"/>
<text x="367.40" y="155.90" font-size="6.5" text-anchor="end" font-weight="bold" textLength="18.0" lengthAdjust="spacingAndGlyphs">13.4%</text>
<text x="368.20" y="204.30" font-size="6.5" text-anchor="end" font-weight="bold" textLength="18.0" lengthAdjust="spacingAndGlyphs">86.6%</text>
<ellipse cx="441.00" cy="184.00" rx="17" ry="7" fill="#dadada" fill-opacity="0.35" filter="url(#b25)" transform="rotate(-28 441.00 184.00)"/>
<path d="M427.3 189.6h0.8v0.8h-0.8zM440.9 176.4h0.8v0.8h-0.8zM441.0 184.2h0.8v0.8h-0.8zM450.9 190.8h0.8v0.8h-0.8zM427.3 192.3h0.8v0.8h-0.8zM453.0 178.3h0.8v0.8h-0.8zM442.7 185.0h0.8v0.8h-0.8zM427.6 188.6h0.8v0.8h-0.8zM424.2 186.7h0.8v0.8h-0.8zM429.8 196.8h0.8v0.8h-0.8zM426.2 173.1h0.8v0.8h-0.8zM452.7 175.6h0.8v0.8h-0.8zM448.8 175.5h0.8v0.8h-0.8zM434.7 186.0h0.8v0.8h-0.8zM433.6 183.7h0.8v0.8h-0.8zM464.4 179.1h0.8v0.8h-0.8zM454.2 186.4h0.8v0.8h-0.8zM432.7 189.0h0.8v0.8h-0.8zM436.7 179.3h0.8v0.8h-0.8zM434.8 183.1h0.8v0.8h-0.8zM441.9 181.7h0.8v0.8h-0.8zM448.6 175.5h0.8v0.8h-0.8zM435.4 180.0h0.8v0.8h-0.8zM448.8 190.0h0.8v0.8h-0.8zM449.2 185.4h0.8v0.8h-0.8zM447.4 175.7h0.8v0.8h-0.8zM432.3 183.5h0.8v0.8h-0.8zM438.8 185.5h0.8v0.8h-0.8zM460.9 170.8h0.8v0.8h-0.8zM440.3 187.6h0.8v0.8h-0.8zM443.1 187.5h0.8v0.8h-0.8zM445.9 182.0h0.8v0.8h-0.8zM432.8 183.0h0.8v0.8h-0.8zM436.2 184.7h0.8v0.8h-0.8zM455.6 168.0h0.8v0.8h-0.8zM454.3 175.7h0.8v0.8h-0.8zM433.0 197.9h0.8v0.8h-0.8zM440.5 181.2h0.8v0.8h-0.8zM428.6 193.8h0.8v0.8h-0.8zM427.1 197.5h0.8v0.8h-0.8zM444.5 191.3h0.8v0.8h-0.8zM454.6 170.1h0.8v0.8h-0.8zM439.7 183.6h0.8v0.8h-0.8zM455.7 173.9h0.8v0.8h-0.8zM432.6 195.7h0.8v0.8h-0.8zM444.9 188.2h0.8v0.8h-0.8zM439.6 178.9h0.8v0.8h-0.8zM440.8 181.1h0.8v0.8h-0.8zM452.5 180.5h0.8v0.8h-0.8zM451.7 190.3h0.8v0.8h-0.8zM434.3 185.3h0.8v0.8h-0.8zM429.1 196.6h0.8v0.8h-0.8zM433.2 183.2h0.8v0.8h-0.8zM438.1 178.6h0.8v0.8h-0.8zM436.8 190.6h0.8v0.8h-0.8zM422.8 188.5h0.8v0.8h-0.8zM418.6 186.2h0.8v0.8h-0.8zM452.5 185.4h0.8v0.8h-0.8zM445.1 185.4h0.8v0.8h-0.8zM431.9 181.3h0.8v0.8h-0.8zM447.6 185.6h0.8v0.8h-0.8zM447.3 183.4h0.8v0.8h-0.8zM439.9 187.6h0.8v0.8h-0.8zM434.1 181.5h0.8v0.8h-0.8zM452.5 176.1h0.8v0.8h-0.8zM445.6 170.0h0.8v0.8h-0.8zM451.8 166.9h0.8v0.8h-0.8zM453.7 182.3h0.8v0.8h-0.8zM442.8 180.5h0.8v0.8h-0.8zM436.6 187.3h0.8v0.8h-0.8zM436.8 184.8h0.8v0.8h-0.8zM433.4 184.7h0.8v0.8h-0.8zM440.6 181.3h0.8v0.8h-0.8zM444.3 185.1h0.8v0.8h-0.8zM453.1 176.8h0.8v0.8h-0.8zM452.2 170.0h0.8v0.8h-0.8zM443.2 189.1h0.8v0.8h-0.8zM448.2 188.2h0.8v0.8h-0.8zM430.0 193.6h0.8v0.8h-0.8zM436.9 194.2h0.8v0.8h-0.8zM429.7 190.5h0.8v0.8h-0.8zM442.4 183.4h0.8v0.8h-0.8zM437.6 191.9h0.8v0.8h-0.8zM433.8 190.5h0.8v0.8h-0.8zM438.1 178.8h0.8v0.8h-0.8zM420.4 193.0h0.8v0.8h-0.8zM440.1 184.9h0.8v0.8h-0.8zM450.6 191.5h0.8v0.8h-0.8zM454.4 177.8h0.8v0.8h-0.8zM426.6 186.7h0.8v0.8h-0.8zM433.9 181.4h0.8v0.8h-0.8zM418.4 194.0h0.8v0.8h-0.8zM453.8 174.2h0.8v0.8h-0.8zM438.4 184.5h0.8v0.8h-0.8zM441.1 178.3h0.8v0.8h-0.8zM420.8 184.7h0.8v0.8h-0.8zM437.4 184.1h0.8v0.8h-0.8zM434.9 188.8h0.8v0.8h-0.8zM427.8 191.0h0.8v0.8h-0.8zM424.6 183.4h0.8v0.8h-0.8zM429.6 187.7h0.8v0.8h-0.8zM432.9 192.2h0.8v0.8h-0.8zM422.1 194.6h0.8v0.8h-0.8zM453.3 174.4h0.8v0.8h-0.8zM439.1 182.3h0.8v0.8h-0.8zM440.6 181.5h0.8v0.8h-0.8zM441.9 184.6h0.8v0.8h-0.8zM436.6 183.9h0.8v0.8h-0.8zM439.9 186.9h0.8v0.8h-0.8zM445.9 182.4h0.8v0.8h-0.8zM437.0 186.6h0.8v0.8h-0.8zM455.0 181.5h0.8v0.8h-0.8zM439.1 189.5h0.8v0.8h-0.8zM451.1 176.8h0.8v0.8h-0.8zM429.1 188.0h0.8v0.8h-0.8zM444.6 187.2h0.8v0.8h-0.8zM446.3 179.7h0.8v0.8h-0.8zM451.0 172.2h0.8v0.8h-0.8zM452.7 175.0h0.8v0.8h-0.8zM426.9 184.8h0.8v0.8h-0.8zM432.6 187.8h0.8v0.8h-0.8zM456.5 176.9h0.8v0.8h-0.8zM438.5 192.5h0.8v0.8h-0.8zM424.4 194.3h0.8v0.8h-0.8zM452.8 181.5h0.8v0.8h-0.8zM449.3 188.1h0.8v0.8h-0.8zM428.4 194.1h0.8v0.8h-0.8zM431.5 183.7h0.8v0.8h-0.8zM453.1 177.6h0.8v0.8h-0.8zM433.5 183.9h0.8v0.8h-0.8zM433.3 186.5h0.8v0.8h-0.8zM437.8 191.9h0.8v0.8h-0.8zM459.7 190.6h0.8v0.8h-0.8zM423.7 196.7h0.8v0.8h-0.8zM443.6 184.0h0.8v0.8h-0.8zM438.6 181.1h0.8v0.8h-0.8zM444.3 183.8h0.8v0.8h-0.8zM449.9 188.2h0.8v0.8h-0.8zM437.4 181.3h0.8v0.8h-0.8zM445.9 183.9h0.8v0.8h-0.8zM445.2 186.4h0.8v0.8h-0.8zM455.9 182.0h0.8v0.8h-0.8zM437.6 185.6h0.8v0.8h-0.8zM440.7 185.5h0.8v0.8h-0.8zM423.0 186.9h0.8v0.8h-0.8zM453.1 175.5h0.8v0.8h-0.8zM443.2 177.8h0.8v0.8h-0.8zM422.2 193.6h0.8v0.8h-0.8zM438.1 187.8h0.8v0.8h-0.8zM448.9 183.9h0.8v0.8h-0.8zM443.0 187.3h0.8v0.8h-0.8zM431.3 185.8h0.8v0.8h-0.8zM444.5 176.7h0.8v0.8h-0.8zM441.5 178.1h0.8v0.8h-0.8zM430.1 187.6h0.8v0.8h-0.8zM437.1 183.4h0.8v0.8h-0.8zM451.7 172.2h0.8v0.8h-0.8zM453.9 179.9h0.8v0.8h-0.8zM428.2 184.1h0.8v0.8h-0.8zM433.7 186.7h0.8v0.8h-0.8zM454.2 174.3h0.8v0.8h-0.8zM447.7 182.6h0.8v0.8h-0.8zM442.4 186.0h0.8v0.8h-0.8zM435.5 181.6h0.8v0.8h-0.8zM443.8 184.9h0.8v0.8h-0.8zM454.9 188.3h0.8v0.8h-0.8zM417.2 198.0h0.8v0.8h-0.8zM447.6 174.8h0.8v0.8h-0.8zM436.0 198.5h0.8v0.8h-0.8zM425.1 186.5h0.8v0.8h-0.8zM435.5 190.6h0.8v0.8h-0.8zM427.1 184.8h0.8v0.8h-0.8zM431.9 192.5h0.8v0.8h-0.8zM441.1 183.1h0.8v0.8h-0.8zM437.5 188.5h0.8v0.8h-0.8zM451.8 180.0h0.8v0.8h-0.8zM421.5 185.2h0.8v0.8h-0.8zM445.9 172.8h0.8v0.8h-0.8zM426.4 186.4h0.8v0.8h-0.8zM444.6 187.1h0.8v0.8h-0.8zM438.2 187.1h0.8v0.8h-0.8zM453.6 184.6h0.8v0.8h-0.8zM430.3 195.9h0.8v0.8h-0.8zM445.6 191.2h0.8v0.8h-0.8zM455.5 171.7h0.8v0.8h-0.8zM452.1 172.2h0.8v0.8h-0.8zM436.0 180.3h0.8v0.8h-0.8zM452.2 186.0h0.8v0.8h-0.8zM451.9 176.5h0.8v0.8h-0.8zM447.4 182.6h0.8v0.8h-0.8zM458.3 186.3h0.8v0.8h-0.8zM451.2 177.0h0.8v0.8h-0.8zM446.3 176.2h0.8v0.8h-0.8zM439.9 190.2h0.8v0.8h-0.8zM438.6 185.7h0.8v0.8h-0.8zM441.3 181.8h0.8v0.8h-0.8zM432.9 187.3h0.8v0.8h-0.8zM439.0 187.1h0.8v0.8h-0.8zM442.8 189.0h0.8v0.8h-0.8zM460.8 169.0h0.8v0.8h-0.8zM437.4 181.5h0.8v0.8h-0.8zM449.6 184.8h0.8v0.8h-0.8zM441.3 188.5h0.8v0.8h-0.8zM431.7 188.7h0.8v0.8h-0.8zM434.2 186.5h0.8v0.8h-0.8zM431.7 194.0h0.8v0.8h-0.8zM456.5 177.3h0.8v0.8h-0.8z" fill="#bdbdbd" filter="url(#b3)"/>
<path d="M436.0 191.2h0.8v0.8h-0.8zM428.5 194.4h0.8v0.8h-0.8zM437.2 186.2h0.8v0.8h-0.8zM439.2 188.6h0.8v0.8h-0.8zM422.5 193.3h0.8v0.8h-0.8zM426.1 191.8h0.8v0.8h-0.8zM434.5 190.1h0.8v0.8h-0.8zM433.3 195.1h0.8v0.8h-0.8zM433.3 189.0h0.8v0.8h-0.8zM429.8 194.8h0.8v0.8h-0.8zM437.8 185.4h0.8v0.8h-0.8zM438.2 188.8h0.8v0.8h-0.8zM434.5 191.3h0.8v0.8h-0.8zM440.9 190.4h0.8v0.8h-0.8zM437.2 191.9h0.8v0.8h-0.8zM429.7 194.4h0.8v0.8h-0.8zM435.9 189.5h0.8v0.8h-0.8zM428.2 191.6h0.8v0.8h-0.8zM439.7 191.5h0.8v0.8h-0.8zM433.6 190.6h0.8v0.8h-0.8zM432.0 188.3h0.8v0.8h-0.8zM429.3 189.5h0.8v0.8h-0.8zM440.3 186.6h0.8v0.8h-0.8zM433.5 192.5h0.8v0.8h-0.8zM431.7 192.1h0.8v0.8h-0.8zM432.5 193.3h0.8v0.8h-0.8zM436.7 189.0h0.8v0.8h-0.8zM436.2 190.7h0.8v0.8h-0.8zM436.8 191.8h0.8v0.8h-0.8zM436.2 189.5h0.8v0.8h-0.8zM446.6 188.3h0.8v0.8h-0.8zM431.2 190.1h0.8v0.8h-0.8zM430.8 191.0h0.8v0.8h-0.8zM429.1 191.5h0.8v0.8h-0.8zM436.6 187.1h0.8v0.8h-0.8zM440.8 190.2h0.8v0.8h-0.8zM433.0 190.1h0.8v0.8h-0.8zM429.2 192.5h0.8v0.8h-0.8zM429.6 193.6h0.8v0.8h-0.8zM438.1 190.9h0.8v0.8h-0.8zM438.8 191.3h0.8v0.8h-0.8zM437.0 189.8h0.8v0.8h-0.8zM429.9 191.2h0.8v0.8h-0.8zM435.3 190.4h0.8v0.8h-0.8zM433.4 186.8h0.8v0.8h-0.8zM434.2 187.2h0.8v0.8h-0.8zM438.0 186.3h0.8v0.8h-0.8zM434.5 188.2h0.8v0.8h-0.8zM438.2 190.8h0.8v0.8h-0.8zM433.7 188.7h0.8v0.8h-0.8z" fill="#9c9c9c" filter="url(#b3)"/>
<path d="M416.20 147.40V207.20H477.40V147.40" fill="none" stroke="#9a9a9a" stroke-width="0.8"/>
<line x1="416.20" y1="147.40" x2="477.40" y2="147.40" stroke="#d4d4d4" stroke-width="0.8"/>
<line x1="414.60" y1="153.60" x2="416.20" y2="153.60" stroke="#333" stroke-width="0.8"/>
<text x="412.80" y="155.90" font-size="6.6" text-anchor="end" fill="#222">10<tspan font-size="4.62" dy="-2.77">5</tspan></text>
<line x1="414.60" y1="167.60" x2="416.20" y2="167.60" stroke="#333" stroke-width="0.8"/>
<text x="412.80" y="169.90" font-size="6.6" text-anchor="end" fill="#222">10<tspan font-size="4.62" dy="-2.77">4</tspan></text>
<line x1="414.60" y1="183.20" x2="416.20" y2="183.20" stroke="#333" stroke-width="0.8"/>
<text x="412.80" y="185.50" font-size="6.6" text-anchor="end" fill="#222">10<tspan font-size="4.62" dy="-2.77">3</tspan></text>
<line x1="414.60" y1="193.90" x2="416.20" y2="193.90" stroke="#333" stroke-width="0.8"/>
<text x="410.40" y="196.20" font-size="6.6" text-anchor="end" fill="#222">0</text>
<line x1="414.60" y1="205.70" x2="416.20" y2="205.70" stroke="#333" stroke-width="0.8"/>
<text x="412.80" y="208.00" font-size="6.6" text-anchor="end" fill="#222">-10<tspan font-size="4.62" dy="-2.77">3</tspan></text>
<line x1="415.20" y1="157.40" x2="416.20" y2="157.40" stroke="#666" stroke-width="0.5"/>
<line x1="415.20" y1="160.40" x2="416.20" y2="160.40" stroke="#666" stroke-width="0.5"/>
<line x1="415.20" y1="162.40" x2="416.20" y2="162.40" stroke="#666" stroke-width="0.5"/>
<line x1="415.20" y1="163.90" x2="416.20" y2="163.90" stroke="#666" stroke-width="0.5"/>
<line x1="415.20" y1="171.40" x2="416.20" y2="171.40" stroke="#666" stroke-width="0.5"/>
<line x1="415.20" y1="174.40" x2="416.20" y2="174.40" stroke="#666" stroke-width="0.5"/>
<line x1="415.20" y1="176.40" x2="416.20" y2="176.40" stroke="#666" stroke-width="0.5"/>
<line x1="415.20" y1="177.90" x2="416.20" y2="177.90" stroke="#666" stroke-width="0.5"/>
<line x1="415.20" y1="187.40" x2="416.20" y2="187.40" stroke="#666" stroke-width="0.5"/>
<line x1="415.20" y1="199.40" x2="416.20" y2="199.40" stroke="#666" stroke-width="0.5"/>
<line x1="420.00" y1="207.20" x2="420.00" y2="208.80" stroke="#333" stroke-width="0.8"/>
<text x="414.40" y="218.00" font-size="6.6" text-anchor="start" fill="#222" textLength="10.8" lengthAdjust="spacingAndGlyphs">-10<tspan font-size="4.62" dy="-2.77">3</tspan></text>
<line x1="429.40" y1="207.20" x2="429.40" y2="208.80" stroke="#333" stroke-width="0.8"/>
<text x="429.40" y="218.00" font-size="6.6" text-anchor="middle" fill="#222">0</text>
<line x1="438.80" y1="207.20" x2="438.80" y2="208.80" stroke="#333" stroke-width="0.8"/>
<text x="434.30" y="218.00" font-size="6.6" text-anchor="start" fill="#222">10<tspan font-size="4.62" dy="-2.77">3</tspan></text>
<line x1="456.80" y1="207.20" x2="456.80" y2="208.80" stroke="#333" stroke-width="0.8"/>
<text x="452.30" y="218.00" font-size="6.6" text-anchor="start" fill="#222">10<tspan font-size="4.62" dy="-2.77">4</tspan></text>
<line x1="471.00" y1="207.20" x2="471.00" y2="208.80" stroke="#333" stroke-width="0.8"/>
<text x="466.50" y="218.00" font-size="6.6" text-anchor="start" fill="#222">10<tspan font-size="4.62" dy="-2.77">5</tspan></text>
<line x1="423.20" y1="207.20" x2="423.20" y2="208.20" stroke="#666" stroke-width="0.5"/>
<line x1="425.70" y1="207.20" x2="425.70" y2="208.20" stroke="#666" stroke-width="0.5"/>
<line x1="433.20" y1="207.20" x2="433.20" y2="208.20" stroke="#666" stroke-width="0.5"/>
<line x1="443.20" y1="207.20" x2="443.20" y2="208.20" stroke="#666" stroke-width="0.5"/>
<line x1="447.20" y1="207.20" x2="447.20" y2="208.20" stroke="#666" stroke-width="0.5"/>
<line x1="450.20" y1="207.20" x2="450.20" y2="208.20" stroke="#666" stroke-width="0.5"/>
<line x1="460.70" y1="207.20" x2="460.70" y2="208.20" stroke="#666" stroke-width="0.5"/>
<line x1="464.20" y1="207.20" x2="464.20" y2="208.20" stroke="#666" stroke-width="0.5"/>
<rect x="414.90" y="192.40" width="1.5" height="3" fill="#111"/>
<rect x="427.70" y="206.80" width="3" height="1.6" fill="#111"/>
<path d="M459.2 166.0L464.0 162.0L470.0 161.3L474.0 168.3L471.0 175.0L463.0 176.5L458.8 171.5Z" fill="none" stroke="#555" stroke-width="0.9"/>
<path d="M463.5 186.9L476.2 175.7L477.0 177.0L477.0 185.4L466.9 193.1L463.8 190.0Z" fill="none" stroke="#555" stroke-width="0.9"/>
<path d="M466.5 166.7h0.7v0.7h-0.7zM467.5 168.6h0.7v0.7h-0.7zM464.7 167.1h0.7v0.7h-0.7zM464.0 169.8h0.7v0.7h-0.7zM461.6 167.7h0.7v0.7h-0.7zM468.1 167.7h0.7v0.7h-0.7zM466.0 171.9h0.7v0.7h-0.7zM466.5 166.9h0.7v0.7h-0.7zM464.3 165.1h0.7v0.7h-0.7zM468.7 169.3h0.7v0.7h-0.7zM468.1 163.9h0.7v0.7h-0.7zM465.7 169.1h0.7v0.7h-0.7zM464.8 170.7h0.7v0.7h-0.7zM465.2 168.7h0.7v0.7h-0.7z" fill="#999" filter="url(#b3)"/>
<path d="M474.0 181.4h0.7v0.7h-0.7zM471.5 184.6h0.7v0.7h-0.7zM471.9 184.0h0.7v0.7h-0.7zM472.2 180.8h0.7v0.7h-0.7zM471.9 181.8h0.7v0.7h-0.7zM472.3 183.4h0.7v0.7h-0.7zM468.2 183.2h0.7v0.7h-0.7zM469.0 186.8h0.7v0.7h-0.7zM470.6 182.4h0.7v0.7h-0.7zM469.0 184.6h0.7v0.7h-0.7zM473.6 183.7h0.7v0.7h-0.7zM470.9 183.5h0.7v0.7h-0.7zM468.6 185.2h0.7v0.7h-0.7zM471.3 183.7h0.7v0.7h-0.7zM472.0 182.5h0.7v0.7h-0.7zM470.3 183.0h0.7v0.7h-0.7zM469.0 185.8h0.7v0.7h-0.7zM473.0 185.5h0.7v0.7h-0.7z" fill="#999" filter="url(#b3)"/>
<text x="469.90" y="155.90" font-size="6.5" text-anchor="end" font-weight="bold" textLength="18.0" lengthAdjust="spacingAndGlyphs">15.1%</text>
<text x="473.30" y="203.10" font-size="6.5" text-anchor="end" font-weight="bold" textLength="18.0" lengthAdjust="spacingAndGlyphs">3.57%</text>
<ellipse cx="120.00" cy="253.50" rx="19" ry="11" fill="#cccccc" fill-opacity="0.3" filter="url(#b25)" transform="rotate(0 120.00 253.50)"/>
<path d="M137.9 252.1h0.8v0.8h-0.8zM111.9 254.3h0.8v0.8h-0.8zM109.8 246.6h0.8v0.8h-0.8zM108.4 249.9h0.8v0.8h-0.8zM131.5 264.2h0.8v0.8h-0.8zM108.2 258.5h0.8v0.8h-0.8zM132.3 243.6h0.8v0.8h-0.8zM129.3 263.4h0.8v0.8h-0.8zM116.6 248.4h0.8v0.8h-0.8zM119.5 251.1h0.8v0.8h-0.8zM136.6 255.9h0.8v0.8h-0.8zM131.7 242.4h0.8v0.8h-0.8zM105.6 242.4h0.8v0.8h-0.8zM130.0 245.8h0.8v0.8h-0.8zM115.8 256.6h0.8v0.8h-0.8zM139.9 252.2h0.8v0.8h-0.8zM108.0 257.1h0.8v0.8h-0.8zM116.1 247.5h0.8v0.8h-0.8zM138.0 252.6h0.8v0.8h-0.8zM123.1 243.0h0.8v0.8h-0.8zM129.5 263.3h0.8v0.8h-0.8zM124.1 251.7h0.8v0.8h-0.8zM108.8 250.9h0.8v0.8h-0.8zM101.5 262.5h0.8v0.8h-0.8zM103.2 243.5h0.8v0.8h-0.8zM114.1 253.3h0.8v0.8h-0.8zM103.1 260.1h0.8v0.8h-0.8zM106.3 249.7h0.8v0.8h-0.8zM119.2 265.5h0.8v0.8h-0.8zM113.9 265.2h0.8v0.8h-0.8zM122.3 253.4h0.8v0.8h-0.8zM113.4 261.7h0.8v0.8h-0.8zM122.1 256.8h0.8v0.8h-0.8zM125.7 250.5h0.8v0.8h-0.8zM134.3 255.4h0.8v0.8h-0.8zM100.7 241.9h0.8v0.8h-0.8zM130.1 251.9h0.8v0.8h-0.8zM114.6 250.9h0.8v0.8h-0.8zM109.5 242.2h0.8v0.8h-0.8zM103.9 252.5h0.8v0.8h-0.8zM121.4 263.9h0.8v0.8h-0.8zM128.3 258.2h0.8v0.8h-0.8zM140.3 243.6h0.8v0.8h-0.8zM112.0 251.8h0.8v0.8h-0.8zM139.6 256.9h0.8v0.8h-0.8zM120.9 253.7h0.8v0.8h-0.8zM136.0 241.4h0.8v0.8h-0.8zM103.0 262.9h0.8v0.8h-0.8zM101.6 252.7h0.8v0.8h-0.8zM117.3 250.4h0.8v0.8h-0.8zM100.2 265.2h0.8v0.8h-0.8zM111.9 257.9h0.8v0.8h-0.8zM100.5 263.3h0.8v0.8h-0.8zM132.9 244.8h0.8v0.8h-0.8zM102.6 249.1h0.8v0.8h-0.8zM122.0 244.4h0.8v0.8h-0.8zM139.0 255.5h0.8v0.8h-0.8zM118.6 244.4h0.8v0.8h-0.8zM112.0 259.2h0.8v0.8h-0.8zM134.4 253.2h0.8v0.8h-0.8zM129.6 244.6h0.8v0.8h-0.8zM104.9 243.1h0.8v0.8h-0.8zM117.0 260.4h0.8v0.8h-0.8zM113.9 255.9h0.8v0.8h-0.8zM132.3 249.7h0.8v0.8h-0.8zM119.4 248.7h0.8v0.8h-0.8zM116.5 254.8h0.8v0.8h-0.8zM116.5 244.7h0.8v0.8h-0.8zM128.9 257.2h0.8v0.8h-0.8zM139.3 251.8h0.8v0.8h-0.8zM125.4 247.6h0.8v0.8h-0.8zM116.8 249.4h0.8v0.8h-0.8zM124.7 244.3h0.8v0.8h-0.8zM140.2 262.5h0.8v0.8h-0.8zM136.2 260.5h0.8v0.8h-0.8zM103.1 245.7h0.8v0.8h-0.8zM109.2 254.9h0.8v0.8h-0.8zM121.6 243.5h0.8v0.8h-0.8zM118.9 251.2h0.8v0.8h-0.8zM116.8 243.5h0.8v0.8h-0.8zM112.7 246.2h0.8v0.8h-0.8zM133.1 242.3h0.8v0.8h-0.8zM120.7 255.7h0.8v0.8h-0.8zM101.2 254.2h0.8v0.8h-0.8zM122.8 259.4h0.8v0.8h-0.8zM139.7 246.9h0.8v0.8h-0.8zM114.6 251.6h0.8v0.8h-0.8zM115.0 256.3h0.8v0.8h-0.8zM134.0 256.6h0.8v0.8h-0.8zM123.5 247.3h0.8v0.8h-0.8zM121.2 255.6h0.8v0.8h-0.8zM106.9 250.3h0.8v0.8h-0.8zM122.1 259.2h0.8v0.8h-0.8zM106.0 264.9h0.8v0.8h-0.8zM122.7 257.2h0.8v0.8h-0.8zM131.3 262.8h0.8v0.8h-0.8zM102.6 259.0h0.8v0.8h-0.8zM130.7 256.6h0.8v0.8h-0.8zM132.8 250.6h0.8v0.8h-0.8zM102.5 258.4h0.8v0.8h-0.8zM133.3 264.3h0.8v0.8h-0.8zM101.6 252.7h0.8v0.8h-0.8zM137.8 245.8h0.8v0.8h-0.8zM112.7 259.5h0.8v0.8h-0.8zM113.3 254.8h0.8v0.8h-0.8zM114.4 244.5h0.8v0.8h-0.8zM110.9 251.6h0.8v0.8h-0.8zM102.9 246.6h0.8v0.8h-0.8zM122.5 247.7h0.8v0.8h-0.8zM102.8 260.7h0.8v0.8h-0.8zM115.6 248.4h0.8v0.8h-0.8zM105.0 249.0h0.8v0.8h-0.8zM124.8 259.2h0.8v0.8h-0.8zM109.1 249.3h0.8v0.8h-0.8zM102.8 259.0h0.8v0.8h-0.8zM100.0 245.1h0.8v0.8h-0.8zM132.7 245.9h0.8v0.8h-0.8zM112.9 255.3h0.8v0.8h-0.8zM133.1 258.1h0.8v0.8h-0.8zM136.3 255.4h0.8v0.8h-0.8zM101.4 241.5h0.8v0.8h-0.8zM106.0 257.9h0.8v0.8h-0.8zM103.2 252.1h0.8v0.8h-0.8zM106.4 254.4h0.8v0.8h-0.8zM109.7 251.8h0.8v0.8h-0.8zM107.5 263.0h0.8v0.8h-0.8zM106.2 259.1h0.8v0.8h-0.8zM133.6 242.6h0.8v0.8h-0.8zM136.0 262.3h0.8v0.8h-0.8zM132.4 260.3h0.8v0.8h-0.8zM135.2 251.7h0.8v0.8h-0.8zM120.7 252.3h0.8v0.8h-0.8zM104.9 261.9h0.8v0.8h-0.8zM105.0 251.4h0.8v0.8h-0.8zM114.2 241.8h0.8v0.8h-0.8zM101.4 250.0h0.8v0.8h-0.8zM114.8 254.8h0.8v0.8h-0.8zM113.6 263.6h0.8v0.8h-0.8zM111.7 252.8h0.8v0.8h-0.8zM115.1 242.5h0.8v0.8h-0.8zM137.6 265.4h0.8v0.8h-0.8zM101.4 255.7h0.8v0.8h-0.8zM123.4 264.4h0.8v0.8h-0.8zM133.1 243.4h0.8v0.8h-0.8zM134.3 261.9h0.8v0.8h-0.8zM109.6 252.5h0.8v0.8h-0.8zM115.3 251.1h0.8v0.8h-0.8zM131.8 262.5h0.8v0.8h-0.8zM133.9 252.1h0.8v0.8h-0.8zM110.5 241.7h0.8v0.8h-0.8zM120.3 262.9h0.8v0.8h-0.8zM103.2 252.5h0.8v0.8h-0.8zM136.8 259.6h0.8v0.8h-0.8zM129.0 249.0h0.8v0.8h-0.8zM133.1 265.0h0.8v0.8h-0.8zM109.8 260.5h0.8v0.8h-0.8zM109.6 251.0h0.8v0.8h-0.8zM122.6 261.8h0.8v0.8h-0.8zM114.9 250.3h0.8v0.8h-0.8zM105.4 246.8h0.8v0.8h-0.8zM116.0 243.2h0.8v0.8h-0.8zM119.7 251.6h0.8v0.8h-0.8zM101.9 249.1h0.8v0.8h-0.8zM135.2 243.1h0.8v0.8h-0.8zM133.1 256.2h0.8v0.8h-0.8zM130.3 259.1h0.8v0.8h-0.8zM106.9 243.8h0.8v0.8h-0.8zM138.8 260.5h0.8v0.8h-0.8zM104.4 242.3h0.8v0.8h-0.8z" fill="#b0b0b0" filter="url(#b3)"/>
<path d="M133.2 289.2h0.8v0.8h-0.8zM130.9 275.5h0.8v0.8h-0.8zM127.9 289.4h0.8v0.8h-0.8zM99.7 285.8h0.8v0.8h-0.8zM129.6 271.7h0.8v0.8h-0.8zM152.6 280.6h0.8v0.8h-0.8zM121.2 269.7h0.8v0.8h-0.8zM100.2 282.8h0.8v0.8h-0.8zM112.7 267.7h0.8v0.8h-0.8zM151.4 283.3h0.8v0.8h-0.8zM148.6 285.8h0.8v0.8h-0.8zM125.4 282.0h0.8v0.8h-0.8zM105.7 267.0h0.8v0.8h-0.8zM103.6 270.5h0.8v0.8h-0.8zM153.4 266.9h0.8v0.8h-0.8zM102.8 285.7h0.8v0.8h-0.8zM126.2 265.4h0.8v0.8h-0.8zM121.8 276.0h0.8v0.8h-0.8zM141.4 274.2h0.8v0.8h-0.8zM103.3 270.1h0.8v0.8h-0.8zM126.7 282.8h0.8v0.8h-0.8zM146.7 288.6h0.8v0.8h-0.8zM122.0 267.7h0.8v0.8h-0.8zM142.0 274.2h0.8v0.8h-0.8zM129.3 280.0h0.8v0.8h-0.8zM109.6 289.7h0.8v0.8h-0.8zM141.8 266.7h0.8v0.8h-0.8zM113.1 282.3h0.8v0.8h-0.8zM132.6 275.4h0.8v0.8h-0.8zM114.7 281.4h0.8v0.8h-0.8zM154.1 285.0h0.8v0.8h-0.8zM116.7 289.4h0.8v0.8h-0.8zM116.4 277.9h0.8v0.8h-0.8zM125.5 281.3h0.8v0.8h-0.8zM119.9 281.9h0.8v0.8h-0.8zM136.4 286.9h0.8v0.8h-0.8zM130.8 265.4h0.8v0.8h-0.8zM122.2 289.6h0.8v0.8h-0.8zM108.8 266.4h0.8v0.8h-0.8zM107.3 288.1h0.8v0.8h-0.8zM113.9 284.9h0.8v0.8h-0.8zM152.3 269.1h0.8v0.8h-0.8zM125.9 287.9h0.8v0.8h-0.8zM124.6 273.4h0.8v0.8h-0.8zM134.8 268.1h0.8v0.8h-0.8zM120.1 269.7h0.8v0.8h-0.8zM134.6 266.2h0.8v0.8h-0.8zM153.4 277.9h0.8v0.8h-0.8zM128.6 269.1h0.8v0.8h-0.8zM118.9 275.7h0.8v0.8h-0.8zM127.9 275.5h0.8v0.8h-0.8zM127.1 269.3h0.8v0.8h-0.8zM115.4 269.2h0.8v0.8h-0.8zM109.8 279.8h0.8v0.8h-0.8zM138.5 266.6h0.8v0.8h-0.8zM126.6 279.6h0.8v0.8h-0.8zM113.4 283.9h0.8v0.8h-0.8zM141.4 282.2h0.8v0.8h-0.8zM149.7 275.0h0.8v0.8h-0.8zM131.4 266.2h0.8v0.8h-0.8zM102.5 268.2h0.8v0.8h-0.8zM129.5 270.2h0.8v0.8h-0.8zM134.8 272.8h0.8v0.8h-0.8zM144.0 267.5h0.8v0.8h-0.8zM107.5 270.5h0.8v0.8h-0.8zM146.9 275.3h0.8v0.8h-0.8zM130.3 278.8h0.8v0.8h-0.8zM123.5 288.9h0.8v0.8h-0.8zM99.9 272.2h0.8v0.8h-0.8zM109.4 268.2h0.8v0.8h-0.8zM114.6 278.5h0.8v0.8h-0.8zM150.4 281.9h0.8v0.8h-0.8zM120.5 276.8h0.8v0.8h-0.8zM129.1 278.3h0.8v0.8h-0.8zM134.2 288.0h0.8v0.8h-0.8zM141.3 275.1h0.8v0.8h-0.8zM108.1 286.3h0.8v0.8h-0.8zM106.2 271.5h0.8v0.8h-0.8zM136.3 284.4h0.8v0.8h-0.8zM108.4 274.1h0.8v0.8h-0.8zM151.3 279.5h0.8v0.8h-0.8zM120.3 282.4h0.8v0.8h-0.8zM139.9 276.8h0.8v0.8h-0.8zM111.5 266.2h0.8v0.8h-0.8zM115.3 286.0h0.8v0.8h-0.8zM149.8 266.0h0.8v0.8h-0.8zM109.2 279.7h0.8v0.8h-0.8zM122.5 273.4h0.8v0.8h-0.8zM150.2 276.5h0.8v0.8h-0.8zM112.0 280.6h0.8v0.8h-0.8zM133.7 272.3h0.8v0.8h-0.8zM108.5 269.6h0.8v0.8h-0.8zM110.5 271.6h0.8v0.8h-0.8zM112.4 279.4h0.8v0.8h-0.8zM149.7 266.5h0.8v0.8h-0.8zM105.0 278.6h0.8v0.8h-0.8zM127.4 269.6h0.8v0.8h-0.8zM109.2 267.9h0.8v0.8h-0.8zM111.0 269.5h0.8v0.8h-0.8zM102.2 289.2h0.8v0.8h-0.8zM113.1 283.0h0.8v0.8h-0.8zM101.3 267.6h0.8v0.8h-0.8zM106.6 280.4h0.8v0.8h-0.8zM136.1 284.6h0.8v0.8h-0.8zM110.9 282.8h0.8v0.8h-0.8zM110.9 276.6h0.8v0.8h-0.8zM144.9 284.6h0.8v0.8h-0.8zM141.8 267.4h0.8v0.8h-0.8zM133.9 267.7h0.8v0.8h-0.8zM119.0 280.8h0.8v0.8h-0.8zM113.5 278.1h0.8v0.8h-0.8zM144.1 272.4h0.8v0.8h-0.8zM133.9 275.6h0.8v0.8h-0.8zM105.5 286.8h0.8v0.8h-0.8zM101.9 277.9h0.8v0.8h-0.8zM101.7 283.6h0.8v0.8h-0.8zM115.5 268.1h0.8v0.8h-0.8zM134.9 271.4h0.8v0.8h-0.8zM116.4 286.1h0.8v0.8h-0.8z" fill="#bdbdbd" filter="url(#b3)"/>
<ellipse cx="136.00" cy="283.00" rx="14" ry="6" fill="#9a9a9a" fill-opacity="0.55" filter="url(#b20)" transform="rotate(0 136.00 283.00)"/>
<path d="M136.8 287.3h0.8v0.8h-0.8zM129.5 287.6h0.8v0.8h-0.8zM143.1 281.0h0.8v0.8h-0.8zM128.6 282.4h0.8v0.8h-0.8zM126.9 281.7h0.8v0.8h-0.8zM140.1 282.0h0.8v0.8h-0.8zM146.6 287.0h0.8v0.8h-0.8zM146.2 288.5h0.8v0.8h-0.8zM146.8 285.6h0.8v0.8h-0.8zM139.2 285.0h0.8v0.8h-0.8zM133.2 280.0h0.8v0.8h-0.8zM140.6 281.2h0.8v0.8h-0.8zM140.6 282.7h0.8v0.8h-0.8zM136.5 274.8h0.8v0.8h-0.8zM130.4 284.5h0.8v0.8h-0.8zM134.6 282.5h0.8v0.8h-0.8zM138.1 289.5h0.8v0.8h-0.8zM126.8 282.6h0.8v0.8h-0.8zM133.1 277.1h0.8v0.8h-0.8zM126.3 283.5h0.8v0.8h-0.8zM150.2 282.5h0.8v0.8h-0.8zM141.7 284.0h0.8v0.8h-0.8zM134.9 279.1h0.8v0.8h-0.8zM143.6 283.2h0.8v0.8h-0.8zM137.4 276.7h0.8v0.8h-0.8zM131.6 284.4h0.8v0.8h-0.8zM136.2 282.5h0.8v0.8h-0.8zM134.9 275.0h0.8v0.8h-0.8zM128.1 286.9h0.8v0.8h-0.8zM113.7 287.1h0.8v0.8h-0.8zM142.1 285.6h0.8v0.8h-0.8zM125.4 280.9h0.8v0.8h-0.8zM124.8 280.5h0.8v0.8h-0.8zM146.9 284.9h0.8v0.8h-0.8zM128.9 287.0h0.8v0.8h-0.8zM136.1 284.2h0.8v0.8h-0.8zM125.9 276.9h0.8v0.8h-0.8zM141.9 281.9h0.8v0.8h-0.8zM129.7 286.0h0.8v0.8h-0.8zM136.8 285.3h0.8v0.8h-0.8zM148.1 286.8h0.8v0.8h-0.8zM152.2 279.9h0.8v0.8h-0.8zM117.9 281.6h0.8v0.8h-0.8zM132.0 285.5h0.8v0.8h-0.8zM132.7 284.5h0.8v0.8h-0.8zM142.8 284.5h0.8v0.8h-0.8zM132.5 280.9h0.8v0.8h-0.8zM128.5 281.4h0.8v0.8h-0.8zM148.1 284.8h0.8v0.8h-0.8zM146.7 286.2h0.8v0.8h-0.8zM137.1 278.5h0.8v0.8h-0.8zM118.9 283.8h0.8v0.8h-0.8zM134.9 285.1h0.8v0.8h-0.8zM124.8 284.1h0.8v0.8h-0.8zM152.6 284.2h0.8v0.8h-0.8zM140.1 282.7h0.8v0.8h-0.8zM139.0 280.4h0.8v0.8h-0.8zM143.2 287.1h0.8v0.8h-0.8zM141.9 278.5h0.8v0.8h-0.8zM126.1 284.0h0.8v0.8h-0.8zM141.1 278.9h0.8v0.8h-0.8zM138.8 280.8h0.8v0.8h-0.8zM115.1 282.5h0.8v0.8h-0.8zM145.7 279.3h0.8v0.8h-0.8zM139.6 283.2h0.8v0.8h-0.8zM135.2 286.0h0.8v0.8h-0.8zM140.4 287.1h0.8v0.8h-0.8zM129.3 281.4h0.8v0.8h-0.8zM144.7 284.0h0.8v0.8h-0.8zM132.9 281.2h0.8v0.8h-0.8zM125.7 279.0h0.8v0.8h-0.8zM153.0 280.9h0.8v0.8h-0.8zM136.7 279.3h0.8v0.8h-0.8zM138.4 280.9h0.8v0.8h-0.8zM140.5 281.7h0.8v0.8h-0.8zM148.3 286.4h0.8v0.8h-0.8zM142.2 283.4h0.8v0.8h-0.8zM147.5 281.0h0.8v0.8h-0.8zM130.7 280.8h0.8v0.8h-0.8zM130.0 283.7h0.8v0.8h-0.8zM138.0 283.7h0.8v0.8h-0.8zM139.8 276.6h0.8v0.8h-0.8zM135.8 283.2h0.8v0.8h-0.8zM129.3 283.5h0.8v0.8h-0.8zM133.6 284.2h0.8v0.8h-0.8zM143.4 281.6h0.8v0.8h-0.8zM142.9 284.7h0.8v0.8h-0.8zM126.6 278.9h0.8v0.8h-0.8zM142.9 283.7h0.8v0.8h-0.8zM139.2 284.5h0.8v0.8h-0.8zM143.8 279.7h0.8v0.8h-0.8zM138.5 285.1h0.8v0.8h-0.8zM150.5 286.5h0.8v0.8h-0.8zM132.1 285.6h0.8v0.8h-0.8zM128.5 281.8h0.8v0.8h-0.8zM138.5 283.4h0.8v0.8h-0.8zM140.0 284.0h0.8v0.8h-0.8zM140.2 276.4h0.8v0.8h-0.8zM138.6 281.7h0.8v0.8h-0.8zM126.9 282.0h0.8v0.8h-0.8zM133.7 281.8h0.8v0.8h-0.8zM145.1 283.3h0.8v0.8h-0.8zM144.1 287.0h0.8v0.8h-0.8zM127.2 278.6h0.8v0.8h-0.8zM142.5 282.3h0.8v0.8h-0.8zM136.7 279.5h0.8v0.8h-0.8zM153.6 285.2h0.8v0.8h-0.8zM134.5 289.6h0.8v0.8h-0.8zM141.3 279.5h0.8v0.8h-0.8zM123.4 282.5h0.8v0.8h-0.8zM145.3 281.7h0.8v0.8h-0.8zM135.9 279.6h0.8v0.8h-0.8zM131.6 281.5h0.8v0.8h-0.8zM132.0 282.8h0.8v0.8h-0.8zM134.9 278.5h0.8v0.8h-0.8zM131.4 285.7h0.8v0.8h-0.8zM141.0 279.7h0.8v0.8h-0.8zM132.1 275.4h0.8v0.8h-0.8zM133.7 283.4h0.8v0.8h-0.8zM160.2 282.1h0.8v0.8h-0.8zM135.6 285.4h0.8v0.8h-0.8zM140.1 282.9h0.8v0.8h-0.8zM138.5 284.1h0.8v0.8h-0.8zM135.6 284.9h0.8v0.8h-0.8zM137.1 278.6h0.8v0.8h-0.8zM125.2 288.4h0.8v0.8h-0.8zM142.0 286.2h0.8v0.8h-0.8zM138.0 287.2h0.8v0.8h-0.8zM137.2 280.4h0.8v0.8h-0.8zM126.9 283.3h0.8v0.8h-0.8zM143.7 283.7h0.8v0.8h-0.8zM124.7 278.2h0.8v0.8h-0.8zM135.3 285.1h0.8v0.8h-0.8zM130.4 284.7h0.8v0.8h-0.8zM124.5 284.8h0.8v0.8h-0.8zM148.5 283.8h0.8v0.8h-0.8zM147.5 286.8h0.8v0.8h-0.8zM146.3 284.8h0.8v0.8h-0.8zM136.0 284.3h0.8v0.8h-0.8zM128.9 285.8h0.8v0.8h-0.8zM137.5 282.3h0.8v0.8h-0.8zM134.9 281.6h0.8v0.8h-0.8zM121.4 285.9h0.8v0.8h-0.8zM145.6 282.6h0.8v0.8h-0.8zM142.7 284.1h0.8v0.8h-0.8zM130.9 277.9h0.8v0.8h-0.8zM127.7 283.9h0.8v0.8h-0.8zM135.4 276.9h0.8v0.8h-0.8zM137.7 280.8h0.8v0.8h-0.8zM153.6 282.3h0.8v0.8h-0.8zM127.7 282.1h0.8v0.8h-0.8zM141.3 285.7h0.8v0.8h-0.8zM126.1 281.0h0.8v0.8h-0.8zM127.6 281.9h0.8v0.8h-0.8zM140.1 277.2h0.8v0.8h-0.8zM134.2 286.8h0.8v0.8h-0.8zM124.4 285.0h0.8v0.8h-0.8zM130.3 285.8h0.8v0.8h-0.8zM132.1 284.3h0.8v0.8h-0.8zM127.6 282.7h0.8v0.8h-0.8zM132.1 285.2h0.8v0.8h-0.8zM137.0 282.8h0.8v0.8h-0.8zM133.8 288.1h0.8v0.8h-0.8zM129.0 285.0h0.8v0.8h-0.8zM142.0 281.8h0.8v0.8h-0.8zM148.7 278.9h0.8v0.8h-0.8zM143.1 282.4h0.8v0.8h-0.8zM127.2 279.1h0.8v0.8h-0.8zM129.4 284.5h0.8v0.8h-0.8zM136.8 282.7h0.8v0.8h-0.8zM137.5 277.2h0.8v0.8h-0.8zM128.4 287.1h0.8v0.8h-0.8zM139.9 280.8h0.8v0.8h-0.8zM136.2 276.4h0.8v0.8h-0.8zM126.2 287.7h0.8v0.8h-0.8zM121.8 281.8h0.8v0.8h-0.8zM136.0 281.1h0.8v0.8h-0.8zM130.6 281.1h0.8v0.8h-0.8zM151.7 283.2h0.8v0.8h-0.8zM128.4 282.7h0.8v0.8h-0.8zM131.2 278.7h0.8v0.8h-0.8zM158.7 283.0h0.8v0.8h-0.8zM126.6 283.0h0.8v0.8h-0.8zM144.3 284.4h0.8v0.8h-0.8zM137.6 277.4h0.8v0.8h-0.8zM133.6 281.6h0.8v0.8h-0.8zM127.3 278.1h0.8v0.8h-0.8zM137.2 280.8h0.8v0.8h-0.8zM148.6 278.7h0.8v0.8h-0.8zM143.1 284.3h0.8v0.8h-0.8zM136.1 282.5h0.8v0.8h-0.8zM143.5 282.4h0.8v0.8h-0.8zM133.2 283.6h0.8v0.8h-0.8zM137.6 279.8h0.8v0.8h-0.8zM145.7 278.3h0.8v0.8h-0.8zM136.8 278.7h0.8v0.8h-0.8zM143.1 286.7h0.8v0.8h-0.8zM137.2 281.9h0.8v0.8h-0.8zM146.8 285.8h0.8v0.8h-0.8zM130.4 283.3h0.8v0.8h-0.8zM147.0 286.0h0.8v0.8h-0.8zM144.8 280.6h0.8v0.8h-0.8zM147.6 283.7h0.8v0.8h-0.8zM142.5 282.9h0.8v0.8h-0.8zM134.8 286.3h0.8v0.8h-0.8zM128.8 277.6h0.8v0.8h-0.8zM131.9 279.6h0.8v0.8h-0.8zM131.9 284.8h0.8v0.8h-0.8zM144.6 286.0h0.8v0.8h-0.8zM122.8 288.4h0.8v0.8h-0.8zM144.0 282.8h0.8v0.8h-0.8zM134.0 283.5h0.8v0.8h-0.8zM139.7 278.3h0.8v0.8h-0.8zM143.5 284.8h0.8v0.8h-0.8zM141.1 285.2h0.8v0.8h-0.8zM144.7 282.1h0.8v0.8h-0.8zM130.6 284.2h0.8v0.8h-0.8zM132.6 283.7h0.8v0.8h-0.8zM125.4 284.7h0.8v0.8h-0.8zM134.4 283.4h0.8v0.8h-0.8zM135.1 288.2h0.8v0.8h-0.8zM140.8 282.5h0.8v0.8h-0.8z" fill="#707070" filter="url(#b3)"/>
<ellipse cx="113.80" cy="283.50" rx="3.5" ry="7.5" fill="#888" fill-opacity="0.5" filter="url(#b12)" transform="rotate(0 113.80 283.50)"/>
<ellipse cx="113.80" cy="284.00" rx="2.0" ry="6.5" fill="#000" fill-opacity="0.95" filter="url(#b7)" transform="rotate(0 113.80 284.00)"/>
<path d="M112.4 281.3h0.9v0.9h-0.9zM113.7 281.5h0.9v0.9h-0.9zM116.0 284.6h0.9v0.9h-0.9zM116.8 280.2h0.9v0.9h-0.9zM113.2 277.4h0.9v0.9h-0.9zM116.1 277.5h0.9v0.9h-0.9zM113.1 288.6h0.9v0.9h-0.9zM114.1 283.6h0.9v0.9h-0.9zM115.7 288.7h0.9v0.9h-0.9zM113.5 285.1h0.9v0.9h-0.9zM117.8 283.0h0.9v0.9h-0.9zM113.5 288.6h0.9v0.9h-0.9zM113.6 277.5h0.9v0.9h-0.9zM114.1 280.0h0.9v0.9h-0.9zM111.4 284.2h0.9v0.9h-0.9zM115.8 273.8h0.9v0.9h-0.9zM112.0 284.5h0.9v0.9h-0.9zM114.9 278.4h0.9v0.9h-0.9zM115.6 279.6h0.9v0.9h-0.9zM112.2 277.2h0.9v0.9h-0.9zM115.8 287.4h0.9v0.9h-0.9zM114.4 284.7h0.9v0.9h-0.9zM113.5 276.3h0.9v0.9h-0.9zM115.3 274.7h0.9v0.9h-0.9zM116.6 287.2h0.9v0.9h-0.9zM116.2 287.1h0.9v0.9h-0.9zM114.5 281.4h0.9v0.9h-0.9zM113.1 283.6h0.9v0.9h-0.9zM115.2 283.0h0.9v0.9h-0.9zM114.1 286.2h0.9v0.9h-0.9zM113.1 280.6h0.9v0.9h-0.9zM112.9 278.5h0.9v0.9h-0.9zM112.4 287.0h0.9v0.9h-0.9zM112.8 281.7h0.9v0.9h-0.9zM114.6 281.8h0.9v0.9h-0.9zM112.5 288.1h0.9v0.9h-0.9zM112.2 283.8h0.9v0.9h-0.9zM112.8 277.4h0.9v0.9h-0.9zM112.4 286.0h0.9v0.9h-0.9zM112.4 281.7h0.9v0.9h-0.9zM115.4 282.9h0.9v0.9h-0.9zM117.0 281.4h0.9v0.9h-0.9zM114.0 289.2h0.9v0.9h-0.9zM114.6 283.1h0.9v0.9h-0.9zM114.8 287.0h0.9v0.9h-0.9zM112.1 282.5h0.9v0.9h-0.9zM112.4 283.4h0.9v0.9h-0.9zM113.5 280.3h0.9v0.9h-0.9zM113.6 284.8h0.9v0.9h-0.9zM112.5 283.4h0.9v0.9h-0.9zM115.1 277.3h0.9v0.9h-0.9zM116.2 277.9h0.9v0.9h-0.9zM113.9 288.1h0.9v0.9h-0.9zM113.0 284.0h0.9v0.9h-0.9zM112.6 283.4h0.9v0.9h-0.9zM112.1 282.9h0.9v0.9h-0.9zM115.1 283.2h0.9v0.9h-0.9zM113.6 275.7h0.9v0.9h-0.9zM116.6 276.1h0.9v0.9h-0.9zM114.0 288.8h0.9v0.9h-0.9zM114.8 282.3h0.9v0.9h-0.9zM111.9 284.0h0.9v0.9h-0.9zM115.1 282.5h0.9v0.9h-0.9zM114.4 282.2h0.9v0.9h-0.9zM112.8 282.5h0.9v0.9h-0.9zM113.8 277.5h0.9v0.9h-0.9zM114.7 282.6h0.9v0.9h-0.9zM114.7 286.8h0.9v0.9h-0.9zM114.9 286.2h0.9v0.9h-0.9zM114.7 280.5h0.9v0.9h-0.9zM116.0 287.3h0.9v0.9h-0.9zM113.7 283.6h0.9v0.9h-0.9z" fill="#222" filter="url(#b3)"/>
<path d="M99.30 230.40V290.20H160.50V230.40" fill="none" stroke="#9a9a9a" stroke-width="0.8"/>
<line x1="99.30" y1="230.40" x2="160.50" y2="230.40" stroke="#d4d4d4" stroke-width="0.8"/>
<line x1="97.70" y1="236.60" x2="99.30" y2="236.60" stroke="#333" stroke-width="0.8"/>
<text x="95.90" y="238.90" font-size="6.6" text-anchor="end" fill="#222">10<tspan font-size="4.62" dy="-2.77">5</tspan></text>
<line x1="97.70" y1="250.60" x2="99.30" y2="250.60" stroke="#333" stroke-width="0.8"/>
<text x="95.90" y="252.90" font-size="6.6" text-anchor="end" fill="#222">10<tspan font-size="4.62" dy="-2.77">4</tspan></text>
<line x1="97.70" y1="266.20" x2="99.30" y2="266.20" stroke="#333" stroke-width="0.8"/>
<text x="95.90" y="268.50" font-size="6.6" text-anchor="end" fill="#222">10<tspan font-size="4.62" dy="-2.77">3</tspan></text>
<line x1="97.70" y1="276.90" x2="99.30" y2="276.90" stroke="#333" stroke-width="0.8"/>
<text x="93.50" y="279.20" font-size="6.6" text-anchor="end" fill="#222">0</text>
<line x1="97.70" y1="288.70" x2="99.30" y2="288.70" stroke="#333" stroke-width="0.8"/>
<text x="95.90" y="291.00" font-size="6.6" text-anchor="end" fill="#222">-10<tspan font-size="4.62" dy="-2.77">3</tspan></text>
<line x1="98.30" y1="240.40" x2="99.30" y2="240.40" stroke="#666" stroke-width="0.5"/>
<line x1="98.30" y1="243.40" x2="99.30" y2="243.40" stroke="#666" stroke-width="0.5"/>
<line x1="98.30" y1="245.40" x2="99.30" y2="245.40" stroke="#666" stroke-width="0.5"/>
<line x1="98.30" y1="246.90" x2="99.30" y2="246.90" stroke="#666" stroke-width="0.5"/>
<line x1="98.30" y1="254.40" x2="99.30" y2="254.40" stroke="#666" stroke-width="0.5"/>
<line x1="98.30" y1="257.40" x2="99.30" y2="257.40" stroke="#666" stroke-width="0.5"/>
<line x1="98.30" y1="259.40" x2="99.30" y2="259.40" stroke="#666" stroke-width="0.5"/>
<line x1="98.30" y1="260.90" x2="99.30" y2="260.90" stroke="#666" stroke-width="0.5"/>
<line x1="98.30" y1="270.40" x2="99.30" y2="270.40" stroke="#666" stroke-width="0.5"/>
<line x1="98.30" y1="282.40" x2="99.30" y2="282.40" stroke="#666" stroke-width="0.5"/>
<line x1="103.10" y1="290.20" x2="103.10" y2="291.80" stroke="#333" stroke-width="0.8"/>
<text x="97.50" y="301.00" font-size="6.6" text-anchor="start" fill="#222" textLength="10.8" lengthAdjust="spacingAndGlyphs">-10<tspan font-size="4.62" dy="-2.77">3</tspan></text>
<line x1="112.50" y1="290.20" x2="112.50" y2="291.80" stroke="#333" stroke-width="0.8"/>
<text x="112.50" y="301.00" font-size="6.6" text-anchor="middle" fill="#222">0</text>
<line x1="121.90" y1="290.20" x2="121.90" y2="291.80" stroke="#333" stroke-width="0.8"/>
<text x="117.40" y="301.00" font-size="6.6" text-anchor="start" fill="#222">10<tspan font-size="4.62" dy="-2.77">3</tspan></text>
<line x1="139.90" y1="290.20" x2="139.90" y2="291.80" stroke="#333" stroke-width="0.8"/>
<text x="135.40" y="301.00" font-size="6.6" text-anchor="start" fill="#222">10<tspan font-size="4.62" dy="-2.77">4</tspan></text>
<line x1="154.10" y1="290.20" x2="154.10" y2="291.80" stroke="#333" stroke-width="0.8"/>
<text x="149.60" y="301.00" font-size="6.6" text-anchor="start" fill="#222">10<tspan font-size="4.62" dy="-2.77">5</tspan></text>
<line x1="106.30" y1="290.20" x2="106.30" y2="291.20" stroke="#666" stroke-width="0.5"/>
<line x1="108.80" y1="290.20" x2="108.80" y2="291.20" stroke="#666" stroke-width="0.5"/>
<line x1="116.30" y1="290.20" x2="116.30" y2="291.20" stroke="#666" stroke-width="0.5"/>
<line x1="126.30" y1="290.20" x2="126.30" y2="291.20" stroke="#666" stroke-width="0.5"/>
<line x1="130.30" y1="290.20" x2="130.30" y2="291.20" stroke="#666" stroke-width="0.5"/>
<line x1="133.30" y1="290.20" x2="133.30" y2="291.20" stroke="#666" stroke-width="0.5"/>
<line x1="143.80" y1="290.20" x2="143.80" y2="291.20" stroke="#666" stroke-width="0.5"/>
<line x1="147.30" y1="290.20" x2="147.30" y2="291.20" stroke="#666" stroke-width="0.5"/>
<rect x="98.00" y="275.40" width="1.5" height="3" fill="#111"/>
<rect x="110.80" y="289.80" width="3" height="1.6" fill="#111"/>
<rect x="99.30" y="240.8" width="41.1" height="25.1" fill="none" stroke="#707070" stroke-width="1.1"/>
<rect x="121.6" y="275.1" width="29.8" height="15.1" fill="none" stroke="#707070" stroke-width="1.1"/>
<text x="109.80" y="239.40" font-size="6.5" font-weight="bold" textLength="18.0" lengthAdjust="spacingAndGlyphs">31.3%</text>
<text x="137.10" y="273.70" font-size="6.5" font-weight="bold" textLength="18.0" lengthAdjust="spacingAndGlyphs">22.1%</text>
<path d="M238.0 251.6h0.8v0.8h-0.8zM250.7 258.9h0.8v0.8h-0.8zM247.5 258.4h0.8v0.8h-0.8zM248.7 243.0h0.8v0.8h-0.8zM239.9 260.7h0.8v0.8h-0.8zM257.9 249.2h0.8v0.8h-0.8zM257.9 263.6h0.8v0.8h-0.8zM256.3 258.5h0.8v0.8h-0.8zM232.2 244.6h0.8v0.8h-0.8zM247.9 259.5h0.8v0.8h-0.8zM247.4 259.5h0.8v0.8h-0.8zM245.3 254.4h0.8v0.8h-0.8zM244.3 244.6h0.8v0.8h-0.8zM247.0 255.7h0.8v0.8h-0.8zM233.6 263.9h0.8v0.8h-0.8zM240.9 261.1h0.8v0.8h-0.8zM228.5 259.8h0.8v0.8h-0.8zM252.9 246.9h0.8v0.8h-0.8zM226.6 263.9h0.8v0.8h-0.8zM226.7 260.7h0.8v0.8h-0.8zM256.0 246.5h0.8v0.8h-0.8zM257.0 253.7h0.8v0.8h-0.8zM253.5 256.4h0.8v0.8h-0.8zM248.1 259.4h0.8v0.8h-0.8zM231.0 264.3h0.8v0.8h-0.8zM255.0 248.6h0.8v0.8h-0.8zM242.2 253.2h0.8v0.8h-0.8zM248.4 256.9h0.8v0.8h-0.8zM226.7 250.3h0.8v0.8h-0.8zM229.8 246.7h0.8v0.8h-0.8zM248.2 247.0h0.8v0.8h-0.8zM256.4 248.1h0.8v0.8h-0.8zM233.8 257.5h0.8v0.8h-0.8zM232.2 264.5h0.8v0.8h-0.8zM234.7 251.0h0.8v0.8h-0.8zM244.1 250.4h0.8v0.8h-0.8zM231.9 254.6h0.8v0.8h-0.8zM228.7 250.1h0.8v0.8h-0.8zM243.0 251.4h0.8v0.8h-0.8zM246.0 248.5h0.8v0.8h-0.8zM242.2 253.5h0.8v0.8h-0.8zM254.7 255.7h0.8v0.8h-0.8zM234.4 262.6h0.8v0.8h-0.8zM241.3 246.9h0.8v0.8h-0.8zM246.2 264.1h0.8v0.8h-0.8zM253.0 256.3h0.8v0.8h-0.8zM257.2 251.1h0.8v0.8h-0.8zM245.5 243.9h0.8v0.8h-0.8zM250.5 254.2h0.8v0.8h-0.8zM246.7 246.4h0.8v0.8h-0.8zM229.6 252.2h0.8v0.8h-0.8zM252.0 245.5h0.8v0.8h-0.8zM230.2 262.7h0.8v0.8h-0.8zM245.5 264.9h0.8v0.8h-0.8zM237.7 262.9h0.8v0.8h-0.8zM254.5 259.5h0.8v0.8h-0.8zM257.6 249.1h0.8v0.8h-0.8zM234.7 246.9h0.8v0.8h-0.8zM255.7 254.3h0.8v0.8h-0.8zM255.3 258.5h0.8v0.8h-0.8zM233.3 243.1h0.8v0.8h-0.8zM241.1 255.0h0.8v0.8h-0.8zM251.3 250.1h0.8v0.8h-0.8zM256.9 249.5h0.8v0.8h-0.8zM235.2 263.5h0.8v0.8h-0.8zM257.2 257.2h0.8v0.8h-0.8zM248.9 243.3h0.8v0.8h-0.8zM238.2 254.8h0.8v0.8h-0.8zM227.0 262.0h0.8v0.8h-0.8zM234.0 263.2h0.8v0.8h-0.8zM226.4 245.7h0.8v0.8h-0.8zM229.5 259.2h0.8v0.8h-0.8zM239.1 246.9h0.8v0.8h-0.8zM251.0 256.8h0.8v0.8h-0.8zM253.2 264.7h0.8v0.8h-0.8zM249.7 250.1h0.8v0.8h-0.8zM228.6 245.1h0.8v0.8h-0.8zM248.8 246.8h0.8v0.8h-0.8zM250.7 246.7h0.8v0.8h-0.8zM244.8 247.5h0.8v0.8h-0.8zM234.8 246.9h0.8v0.8h-0.8zM255.9 249.0h0.8v0.8h-0.8zM251.7 255.7h0.8v0.8h-0.8zM235.0 246.6h0.8v0.8h-0.8zM253.1 246.2h0.8v0.8h-0.8zM235.2 250.4h0.8v0.8h-0.8zM226.6 243.1h0.8v0.8h-0.8zM239.0 264.8h0.8v0.8h-0.8zM236.3 253.0h0.8v0.8h-0.8zM234.8 249.7h0.8v0.8h-0.8z" fill="#c4c4c4" filter="url(#b3)"/>
<ellipse cx="237.00" cy="276.20" rx="13" ry="4.2" fill="#888" fill-opacity="0.6" filter="url(#b15)" transform="rotate(0 237.00 276.20)"/>
<path d="M226.8 275.1h0.8v0.8h-0.8zM222.7 278.3h0.8v0.8h-0.8zM231.8 272.2h0.8v0.8h-0.8zM232.2 276.1h0.8v0.8h-0.8zM227.7 276.9h0.8v0.8h-0.8zM233.4 271.9h0.8v0.8h-0.8zM233.8 278.5h0.8v0.8h-0.8zM217.5 273.6h0.8v0.8h-0.8zM225.3 282.5h0.8v0.8h-0.8zM234.1 278.0h0.8v0.8h-0.8zM226.5 275.5h0.8v0.8h-0.8zM232.7 275.7h0.8v0.8h-0.8zM248.1 276.5h0.8v0.8h-0.8zM226.6 273.9h0.8v0.8h-0.8zM235.4 279.5h0.8v0.8h-0.8zM240.3 274.4h0.8v0.8h-0.8zM232.4 272.0h0.8v0.8h-0.8zM234.9 273.9h0.8v0.8h-0.8zM240.4 276.9h0.8v0.8h-0.8zM228.8 273.7h0.8v0.8h-0.8zM263.8 272.4h0.8v0.8h-0.8zM238.8 275.7h0.8v0.8h-0.8zM242.5 276.6h0.8v0.8h-0.8zM240.0 274.9h0.8v0.8h-0.8zM222.1 276.5h0.8v0.8h-0.8zM241.2 278.4h0.8v0.8h-0.8zM231.8 278.1h0.8v0.8h-0.8zM244.5 279.1h0.8v0.8h-0.8zM240.6 274.8h0.8v0.8h-0.8zM240.3 278.9h0.8v0.8h-0.8zM228.9 276.7h0.8v0.8h-0.8zM230.9 271.6h0.8v0.8h-0.8zM233.5 276.3h0.8v0.8h-0.8zM238.0 281.3h0.8v0.8h-0.8zM238.0 277.4h0.8v0.8h-0.8zM247.4 272.5h0.8v0.8h-0.8zM233.4 271.3h0.8v0.8h-0.8zM239.5 275.5h0.8v0.8h-0.8zM249.6 281.6h0.8v0.8h-0.8zM233.6 276.7h0.8v0.8h-0.8zM255.2 281.4h0.8v0.8h-0.8zM235.3 275.2h0.8v0.8h-0.8zM240.7 274.2h0.8v0.8h-0.8zM231.7 273.0h0.8v0.8h-0.8zM242.9 270.4h0.8v0.8h-0.8zM243.9 275.7h0.8v0.8h-0.8zM240.2 273.8h0.8v0.8h-0.8zM220.5 277.9h0.8v0.8h-0.8zM237.2 278.4h0.8v0.8h-0.8zM229.0 273.2h0.8v0.8h-0.8zM232.7 273.6h0.8v0.8h-0.8zM217.2 273.2h0.8v0.8h-0.8zM230.0 276.0h0.8v0.8h-0.8zM240.4 276.7h0.8v0.8h-0.8zM236.5 271.5h0.8v0.8h-0.8zM238.5 276.6h0.8v0.8h-0.8zM247.4 271.1h0.8v0.8h-0.8zM249.7 274.6h0.8v0.8h-0.8zM243.8 275.7h0.8v0.8h-0.8zM245.2 277.7h0.8v0.8h-0.8zM246.3 273.8h0.8v0.8h-0.8zM225.4 276.9h0.8v0.8h-0.8zM216.2 274.0h0.8v0.8h-0.8zM226.8 274.9h0.8v0.8h-0.8zM242.5 268.7h0.8v0.8h-0.8zM246.0 272.1h0.8v0.8h-0.8zM222.2 277.9h0.8v0.8h-0.8zM246.2 275.7h0.8v0.8h-0.8zM250.8 277.5h0.8v0.8h-0.8zM228.6 276.1h0.8v0.8h-0.8zM232.0 276.6h0.8v0.8h-0.8zM233.7 269.9h0.8v0.8h-0.8zM241.2 277.2h0.8v0.8h-0.8zM234.7 275.0h0.8v0.8h-0.8zM233.3 271.2h0.8v0.8h-0.8zM227.7 275.0h0.8v0.8h-0.8zM219.9 279.7h0.8v0.8h-0.8zM241.1 276.2h0.8v0.8h-0.8zM231.0 273.8h0.8v0.8h-0.8zM229.2 279.6h0.8v0.8h-0.8zM229.2 269.4h0.8v0.8h-0.8zM226.2 276.1h0.8v0.8h-0.8zM236.8 273.3h0.8v0.8h-0.8zM231.2 277.8h0.8v0.8h-0.8zM226.9 276.1h0.8v0.8h-0.8zM244.7 273.6h0.8v0.8h-0.8zM245.0 278.8h0.8v0.8h-0.8zM243.6 274.0h0.8v0.8h-0.8zM230.0 276.2h0.8v0.8h-0.8zM237.0 276.4h0.8v0.8h-0.8zM249.5 268.4h0.8v0.8h-0.8zM236.7 280.5h0.8v0.8h-0.8zM238.5 279.2h0.8v0.8h-0.8zM243.3 273.3h0.8v0.8h-0.8zM246.9 272.3h0.8v0.8h-0.8zM227.3 275.5h0.8v0.8h-0.8zM240.6 278.2h0.8v0.8h-0.8zM232.8 275.7h0.8v0.8h-0.8zM242.9 273.3h0.8v0.8h-0.8zM239.1 278.4h0.8v0.8h-0.8zM237.9 273.7h0.8v0.8h-0.8zM234.3 278.5h0.8v0.8h-0.8zM235.7 273.0h0.8v0.8h-0.8zM236.5 277.9h0.8v0.8h-0.8zM237.3 274.2h0.8v0.8h-0.8zM231.9 274.6h0.8v0.8h-0.8zM239.4 274.9h0.8v0.8h-0.8zM249.5 278.3h0.8v0.8h-0.8zM228.7 276.6h0.8v0.8h-0.8zM235.2 275.6h0.8v0.8h-0.8zM230.2 272.7h0.8v0.8h-0.8zM245.5 279.9h0.8v0.8h-0.8zM241.3 277.3h0.8v0.8h-0.8zM239.6 273.9h0.8v0.8h-0.8zM232.2 274.7h0.8v0.8h-0.8zM237.1 273.9h0.8v0.8h-0.8zM241.2 275.5h0.8v0.8h-0.8zM225.4 280.6h0.8v0.8h-0.8zM224.8 279.1h0.8v0.8h-0.8zM240.5 275.7h0.8v0.8h-0.8zM232.9 273.3h0.8v0.8h-0.8zM237.4 281.0h0.8v0.8h-0.8zM234.4 270.7h0.8v0.8h-0.8zM229.6 274.3h0.8v0.8h-0.8zM227.3 277.9h0.8v0.8h-0.8zM243.0 274.8h0.8v0.8h-0.8zM237.0 276.0h0.8v0.8h-0.8zM236.5 278.3h0.8v0.8h-0.8zM240.7 277.2h0.8v0.8h-0.8zM240.5 278.3h0.8v0.8h-0.8zM242.2 273.5h0.8v0.8h-0.8zM229.1 276.9h0.8v0.8h-0.8zM218.9 279.4h0.8v0.8h-0.8zM245.5 276.3h0.8v0.8h-0.8zM228.1 276.3h0.8v0.8h-0.8zM239.5 278.1h0.8v0.8h-0.8zM235.3 278.9h0.8v0.8h-0.8zM236.9 276.0h0.8v0.8h-0.8zM255.0 277.9h0.8v0.8h-0.8zM235.9 280.5h0.8v0.8h-0.8zM249.8 275.3h0.8v0.8h-0.8zM245.7 281.0h0.8v0.8h-0.8zM250.1 277.4h0.8v0.8h-0.8zM247.2 281.8h0.8v0.8h-0.8zM242.8 274.2h0.8v0.8h-0.8zM238.1 281.1h0.8v0.8h-0.8zM235.7 275.6h0.8v0.8h-0.8zM240.8 279.3h0.8v0.8h-0.8zM235.8 277.9h0.8v0.8h-0.8zM253.8 272.9h0.8v0.8h-0.8zM225.8 280.4h0.8v0.8h-0.8zM237.6 275.9h0.8v0.8h-0.8zM241.0 275.3h0.8v0.8h-0.8zM228.8 282.4h0.8v0.8h-0.8zM242.1 277.0h0.8v0.8h-0.8zM240.6 275.5h0.8v0.8h-0.8zM226.1 273.7h0.8v0.8h-0.8zM223.7 281.9h0.8v0.8h-0.8zM242.1 274.2h0.8v0.8h-0.8zM236.4 276.7h0.8v0.8h-0.8zM226.3 274.9h0.8v0.8h-0.8zM226.4 278.4h0.8v0.8h-0.8zM230.7 277.0h0.8v0.8h-0.8zM244.0 275.0h0.8v0.8h-0.8zM228.6 270.9h0.8v0.8h-0.8zM239.0 276.7h0.8v0.8h-0.8zM242.8 274.3h0.8v0.8h-0.8zM225.5 281.7h0.8v0.8h-0.8zM247.1 278.4h0.8v0.8h-0.8zM253.9 278.1h0.8v0.8h-0.8zM231.2 278.4h0.8v0.8h-0.8zM223.1 277.1h0.8v0.8h-0.8zM242.9 277.7h0.8v0.8h-0.8zM244.6 277.1h0.8v0.8h-0.8zM237.8 275.9h0.8v0.8h-0.8zM236.3 278.7h0.8v0.8h-0.8zM241.5 278.5h0.8v0.8h-0.8zM220.3 277.0h0.8v0.8h-0.8zM236.1 277.2h0.8v0.8h-0.8zM229.1 271.1h0.8v0.8h-0.8zM244.7 275.2h0.8v0.8h-0.8zM226.9 273.9h0.8v0.8h-0.8zM232.4 277.6h0.8v0.8h-0.8zM237.2 276.4h0.8v0.8h-0.8zM219.0 272.6h0.8v0.8h-0.8zM229.1 272.7h0.8v0.8h-0.8zM238.2 273.3h0.8v0.8h-0.8zM251.8 277.6h0.8v0.8h-0.8zM246.2 277.1h0.8v0.8h-0.8zM246.4 279.1h0.8v0.8h-0.8zM248.7 280.6h0.8v0.8h-0.8zM245.0 270.8h0.8v0.8h-0.8zM237.1 271.7h0.8v0.8h-0.8zM228.0 274.7h0.8v0.8h-0.8zM224.3 278.6h0.8v0.8h-0.8zM246.6 274.6h0.8v0.8h-0.8zM224.8 273.4h0.8v0.8h-0.8zM225.7 278.2h0.8v0.8h-0.8zM241.3 275.2h0.8v0.8h-0.8zM231.8 277.7h0.8v0.8h-0.8zM240.2 276.5h0.8v0.8h-0.8zM230.7 280.3h0.8v0.8h-0.8zM238.4 274.9h0.8v0.8h-0.8zM228.4 277.7h0.8v0.8h-0.8zM241.3 277.9h0.8v0.8h-0.8zM234.5 280.1h0.8v0.8h-0.8zM246.6 275.1h0.8v0.8h-0.8zM233.5 272.7h0.8v0.8h-0.8zM225.4 273.3h0.8v0.8h-0.8zM230.1 276.0h0.8v0.8h-0.8zM243.7 274.1h0.8v0.8h-0.8zM238.0 274.0h0.8v0.8h-0.8zM236.3 276.9h0.8v0.8h-0.8zM236.9 278.1h0.8v0.8h-0.8zM241.8 276.9h0.8v0.8h-0.8zM229.1 277.2h0.8v0.8h-0.8zM239.1 274.4h0.8v0.8h-0.8zM250.2 273.9h0.8v0.8h-0.8zM218.4 276.7h0.8v0.8h-0.8zM231.9 277.2h0.8v0.8h-0.8zM226.4 278.4h0.8v0.8h-0.8zM237.9 277.5h0.8v0.8h-0.8zM238.8 275.8h0.8v0.8h-0.8zM235.3 274.7h0.8v0.8h-0.8zM235.8 271.3h0.8v0.8h-0.8zM225.5 277.7h0.8v0.8h-0.8zM235.4 276.5h0.8v0.8h-0.8zM250.6 283.1h0.8v0.8h-0.8zM242.2 276.2h0.8v0.8h-0.8zM246.5 274.2h0.8v0.8h-0.8z" fill="#6e6e6e" filter="url(#b3)"/>
<ellipse cx="220.40" cy="262.00" rx="2.2" ry="10" fill="#888" fill-opacity="0.7" filter="url(#b12)" transform="rotate(0 220.40 262.00)"/>
<path d="M221.5 258.1h0.8v0.8h-0.8zM224.1 262.6h0.8v0.8h-0.8zM217.7 255.1h0.8v0.8h-0.8zM220.3 258.0h0.8v0.8h-0.8zM222.4 281.2h0.8v0.8h-0.8zM222.1 270.8h0.8v0.8h-0.8zM222.7 276.0h0.8v0.8h-0.8zM220.7 257.1h0.8v0.8h-0.8zM222.3 267.4h0.8v0.8h-0.8zM224.3 250.2h0.8v0.8h-0.8zM221.9 261.8h0.8v0.8h-0.8zM222.5 268.8h0.8v0.8h-0.8zM219.4 255.5h0.8v0.8h-0.8zM217.3 270.9h0.8v0.8h-0.8zM220.0 261.6h0.8v0.8h-0.8zM220.3 258.6h0.8v0.8h-0.8zM222.3 272.6h0.8v0.8h-0.8zM219.8 265.2h0.8v0.8h-0.8zM220.6 271.8h0.8v0.8h-0.8zM220.5 260.1h0.8v0.8h-0.8zM223.1 257.6h0.8v0.8h-0.8zM220.9 257.2h0.8v0.8h-0.8zM220.0 261.4h0.8v0.8h-0.8zM220.7 272.0h0.8v0.8h-0.8zM221.0 266.6h0.8v0.8h-0.8zM222.0 271.9h0.8v0.8h-0.8zM219.5 255.8h0.8v0.8h-0.8zM223.2 271.7h0.8v0.8h-0.8zM222.1 275.6h0.8v0.8h-0.8zM221.6 267.4h0.8v0.8h-0.8zM221.8 268.6h0.8v0.8h-0.8zM220.3 261.2h0.8v0.8h-0.8zM218.4 258.1h0.8v0.8h-0.8zM219.7 266.6h0.8v0.8h-0.8zM219.3 250.1h0.8v0.8h-0.8zM222.0 269.7h0.8v0.8h-0.8zM219.0 270.4h0.8v0.8h-0.8zM220.9 269.0h0.8v0.8h-0.8zM221.3 272.0h0.8v0.8h-0.8zM217.8 261.6h0.8v0.8h-0.8zM219.9 260.2h0.8v0.8h-0.8zM220.6 257.3h0.8v0.8h-0.8zM222.6 276.0h0.8v0.8h-0.8zM219.3 271.6h0.8v0.8h-0.8zM221.5 265.6h0.8v0.8h-0.8zM221.0 267.8h0.8v0.8h-0.8zM219.0 265.3h0.8v0.8h-0.8zM221.8 273.1h0.8v0.8h-0.8zM221.5 266.2h0.8v0.8h-0.8zM219.5 260.9h0.8v0.8h-0.8zM221.2 262.9h0.8v0.8h-0.8zM221.0 258.9h0.8v0.8h-0.8zM219.4 274.7h0.8v0.8h-0.8zM218.2 272.8h0.8v0.8h-0.8zM220.8 265.5h0.8v0.8h-0.8zM221.0 267.3h0.8v0.8h-0.8zM221.5 273.7h0.8v0.8h-0.8zM221.9 281.7h0.8v0.8h-0.8zM222.8 264.6h0.8v0.8h-0.8zM221.6 273.2h0.8v0.8h-0.8zM220.6 264.2h0.8v0.8h-0.8zM219.8 266.8h0.8v0.8h-0.8zM223.2 273.3h0.8v0.8h-0.8zM219.3 256.0h0.8v0.8h-0.8zM219.9 259.8h0.8v0.8h-0.8zM221.4 265.4h0.8v0.8h-0.8zM219.0 272.6h0.8v0.8h-0.8zM225.2 258.3h0.8v0.8h-0.8zM222.4 271.6h0.8v0.8h-0.8zM220.2 264.8h0.8v0.8h-0.8zM219.1 266.8h0.8v0.8h-0.8zM219.6 256.6h0.8v0.8h-0.8zM220.5 269.6h0.8v0.8h-0.8zM218.7 265.0h0.8v0.8h-0.8zM221.7 267.5h0.8v0.8h-0.8zM222.6 266.0h0.8v0.8h-0.8zM218.3 254.2h0.8v0.8h-0.8zM220.0 260.2h0.8v0.8h-0.8zM221.8 259.6h0.8v0.8h-0.8zM217.9 265.7h0.8v0.8h-0.8zM221.7 274.7h0.8v0.8h-0.8zM219.8 268.2h0.8v0.8h-0.8zM215.6 263.7h0.8v0.8h-0.8zM219.8 269.6h0.8v0.8h-0.8zM218.0 275.1h0.8v0.8h-0.8zM221.5 253.4h0.8v0.8h-0.8zM220.2 260.6h0.8v0.8h-0.8zM218.3 264.0h0.8v0.8h-0.8zM219.8 271.0h0.8v0.8h-0.8zM222.8 261.6h0.8v0.8h-0.8zM219.4 257.5h0.8v0.8h-0.8zM220.1 261.0h0.8v0.8h-0.8zM222.7 263.3h0.8v0.8h-0.8zM221.9 266.8h0.8v0.8h-0.8zM220.3 269.0h0.8v0.8h-0.8zM220.4 273.4h0.8v0.8h-0.8zM219.9 262.5h0.8v0.8h-0.8zM218.9 270.6h0.8v0.8h-0.8zM223.0 264.8h0.8v0.8h-0.8zM221.8 259.6h0.8v0.8h-0.8z" fill="#444" filter="url(#b3)"/>
<ellipse cx="220.60" cy="276.50" rx="2.6" ry="6" fill="#000" fill-opacity="1" filter="url(#b8)" transform="rotate(0 220.60 276.50)"/>
<path d="M205.00 230.40V290.20H266.20V230.40" fill="none" stroke="#9a9a9a" stroke-width="0.8"/>
<line x1="205.00" y1="230.40" x2="266.20" y2="230.40" stroke="#d4d4d4" stroke-width="0.8"/>
<line x1="203.40" y1="236.60" x2="205.00" y2="236.60" stroke="#333" stroke-width="0.8"/>
<text x="201.60" y="238.90" font-size="6.6" text-anchor="end" fill="#222">10<tspan font-size="4.62" dy="-2.77">5</tspan></text>
<line x1="203.40" y1="250.60" x2="205.00" y2="250.60" stroke="#333" stroke-width="0.8"/>
<text x="201.60" y="252.90" font-size="6.6" text-anchor="end" fill="#222">10<tspan font-size="4.62" dy="-2.77">4</tspan></text>
<line x1="203.40" y1="266.20" x2="205.00" y2="266.20" stroke="#333" stroke-width="0.8"/>
<text x="201.60" y="268.50" font-size="6.6" text-anchor="end" fill="#222">10<tspan font-size="4.62" dy="-2.77">3</tspan></text>
<line x1="203.40" y1="276.90" x2="205.00" y2="276.90" stroke="#333" stroke-width="0.8"/>
<text x="199.20" y="279.20" font-size="6.6" text-anchor="end" fill="#222">0</text>
<line x1="203.40" y1="288.70" x2="205.00" y2="288.70" stroke="#333" stroke-width="0.8"/>
<text x="201.60" y="291.00" font-size="6.6" text-anchor="end" fill="#222">-10<tspan font-size="4.62" dy="-2.77">3</tspan></text>
<line x1="204.00" y1="240.40" x2="205.00" y2="240.40" stroke="#666" stroke-width="0.5"/>
<line x1="204.00" y1="243.40" x2="205.00" y2="243.40" stroke="#666" stroke-width="0.5"/>
<line x1="204.00" y1="245.40" x2="205.00" y2="245.40" stroke="#666" stroke-width="0.5"/>
<line x1="204.00" y1="246.90" x2="205.00" y2="246.90" stroke="#666" stroke-width="0.5"/>
<line x1="204.00" y1="254.40" x2="205.00" y2="254.40" stroke="#666" stroke-width="0.5"/>
<line x1="204.00" y1="257.40" x2="205.00" y2="257.40" stroke="#666" stroke-width="0.5"/>
<line x1="204.00" y1="259.40" x2="205.00" y2="259.40" stroke="#666" stroke-width="0.5"/>
<line x1="204.00" y1="260.90" x2="205.00" y2="260.90" stroke="#666" stroke-width="0.5"/>
<line x1="204.00" y1="270.40" x2="205.00" y2="270.40" stroke="#666" stroke-width="0.5"/>
<line x1="204.00" y1="282.40" x2="205.00" y2="282.40" stroke="#666" stroke-width="0.5"/>
<line x1="208.80" y1="290.20" x2="208.80" y2="291.80" stroke="#333" stroke-width="0.8"/>
<text x="203.20" y="301.00" font-size="6.6" text-anchor="start" fill="#222" textLength="10.8" lengthAdjust="spacingAndGlyphs">-10<tspan font-size="4.62" dy="-2.77">3</tspan></text>
<line x1="218.20" y1="290.20" x2="218.20" y2="291.80" stroke="#333" stroke-width="0.8"/>
<text x="218.20" y="301.00" font-size="6.6" text-anchor="middle" fill="#222">0</text>
<line x1="227.60" y1="290.20" x2="227.60" y2="291.80" stroke="#333" stroke-width="0.8"/>
<text x="223.10" y="301.00" font-size="6.6" text-anchor="start" fill="#222">10<tspan font-size="4.62" dy="-2.77">3</tspan></text>
<line x1="245.60" y1="290.20" x2="245.60" y2="291.80" stroke="#333" stroke-width="0.8"/>
<text x="241.10" y="301.00" font-size="6.6" text-anchor="start" fill="#222">10<tspan font-size="4.62" dy="-2.77">4</tspan></text>
<line x1="259.80" y1="290.20" x2="259.80" y2="291.80" stroke="#333" stroke-width="0.8"/>
<text x="255.30" y="301.00" font-size="6.6" text-anchor="start" fill="#222">10<tspan font-size="4.62" dy="-2.77">5</tspan></text>
<line x1="212.00" y1="290.20" x2="212.00" y2="291.20" stroke="#666" stroke-width="0.5"/>
<line x1="214.50" y1="290.20" x2="214.50" y2="291.20" stroke="#666" stroke-width="0.5"/>
<line x1="222.00" y1="290.20" x2="222.00" y2="291.20" stroke="#666" stroke-width="0.5"/>
<line x1="232.00" y1="290.20" x2="232.00" y2="291.20" stroke="#666" stroke-width="0.5"/>
<line x1="236.00" y1="290.20" x2="236.00" y2="291.20" stroke="#666" stroke-width="0.5"/>
<line x1="239.00" y1="290.20" x2="239.00" y2="291.20" stroke="#666" stroke-width="0.5"/>
<line x1="249.50" y1="290.20" x2="249.50" y2="291.20" stroke="#666" stroke-width="0.5"/>
<line x1="253.00" y1="290.20" x2="253.00" y2="291.20" stroke="#666" stroke-width="0.5"/>
<rect x="203.70" y="275.40" width="1.5" height="3" fill="#111"/>
<rect x="216.50" y="289.80" width="3" height="1.6" fill="#111"/>
<line x1="226.30" y1="230.40" x2="226.30" y2="290.20" stroke="#444" stroke-width="0.9"/>
<line x1="205.00" y1="265.70" x2="266.20" y2="265.70" stroke="#444" stroke-width="0.9"/>
<text x="205.90" y="239.40" font-size="6.5" font-weight="bold" textLength="18.0" lengthAdjust="spacingAndGlyphs">6.04%</text>
<text x="264.40" y="239.40" font-size="6.5" text-anchor="end" font-weight="bold" textLength="18.0" lengthAdjust="spacingAndGlyphs">3.36%</text>
<text x="205.90" y="289.50" font-size="6.5" font-weight="bold" textLength="18.0" lengthAdjust="spacingAndGlyphs">63.7%</text>
<text x="264.40" y="289.50" font-size="6.5" text-anchor="end" font-weight="bold" textLength="18.0" lengthAdjust="spacingAndGlyphs">26.9%</text>
<path d="M352.2 263.8h0.8v0.8h-0.8zM354.6 258.5h0.8v0.8h-0.8zM351.4 248.2h0.8v0.8h-0.8zM351.6 256.9h0.8v0.8h-0.8zM354.5 261.0h0.8v0.8h-0.8zM354.6 259.3h0.8v0.8h-0.8zM353.7 256.4h0.8v0.8h-0.8zM344.9 256.7h0.8v0.8h-0.8zM349.2 256.6h0.8v0.8h-0.8zM350.5 247.2h0.8v0.8h-0.8zM355.7 251.8h0.8v0.8h-0.8zM352.2 258.6h0.8v0.8h-0.8zM350.0 261.7h0.8v0.8h-0.8zM353.9 252.0h0.8v0.8h-0.8zM353.6 253.1h0.8v0.8h-0.8zM346.3 257.8h0.8v0.8h-0.8zM354.7 257.9h0.8v0.8h-0.8zM349.9 254.9h0.8v0.8h-0.8zM353.1 251.9h0.8v0.8h-0.8zM354.3 259.7h0.8v0.8h-0.8zM347.2 260.4h0.8v0.8h-0.8zM358.0 249.0h0.8v0.8h-0.8zM347.0 248.6h0.8v0.8h-0.8zM356.3 258.5h0.8v0.8h-0.8zM355.2 256.7h0.8v0.8h-0.8zM351.1 251.4h0.8v0.8h-0.8zM358.1 254.5h0.8v0.8h-0.8zM348.9 256.5h0.8v0.8h-0.8zM345.2 261.0h0.8v0.8h-0.8zM352.1 258.6h0.8v0.8h-0.8zM347.3 258.9h0.8v0.8h-0.8zM351.6 259.2h0.8v0.8h-0.8zM353.3 256.6h0.8v0.8h-0.8zM359.6 256.1h0.8v0.8h-0.8zM350.9 255.4h0.8v0.8h-0.8zM352.5 259.3h0.8v0.8h-0.8zM355.3 253.4h0.8v0.8h-0.8zM356.0 249.2h0.8v0.8h-0.8zM351.4 260.8h0.8v0.8h-0.8zM356.5 259.1h0.8v0.8h-0.8zM347.0 267.6h0.8v0.8h-0.8zM349.4 260.1h0.8v0.8h-0.8zM348.6 254.5h0.8v0.8h-0.8zM350.4 253.5h0.8v0.8h-0.8zM355.0 265.3h0.8v0.8h-0.8zM352.1 260.0h0.8v0.8h-0.8zM356.8 248.6h0.8v0.8h-0.8zM345.2 253.0h0.8v0.8h-0.8zM349.1 255.6h0.8v0.8h-0.8zM355.7 261.3h0.8v0.8h-0.8zM351.3 253.0h0.8v0.8h-0.8zM350.2 244.9h0.8v0.8h-0.8zM342.4 259.0h0.8v0.8h-0.8zM355.1 248.7h0.8v0.8h-0.8zM346.6 254.3h0.8v0.8h-0.8zM354.1 247.3h0.8v0.8h-0.8zM346.8 253.3h0.8v0.8h-0.8zM349.3 255.7h0.8v0.8h-0.8zM359.5 246.7h0.8v0.8h-0.8zM346.9 250.7h0.8v0.8h-0.8zM347.4 257.5h0.8v0.8h-0.8zM350.9 253.4h0.8v0.8h-0.8zM342.9 259.5h0.8v0.8h-0.8zM351.9 252.8h0.8v0.8h-0.8zM352.1 250.1h0.8v0.8h-0.8zM350.5 250.2h0.8v0.8h-0.8zM347.8 258.5h0.8v0.8h-0.8zM351.5 260.7h0.8v0.8h-0.8zM348.6 256.8h0.8v0.8h-0.8zM350.2 259.9h0.8v0.8h-0.8zM347.9 259.9h0.8v0.8h-0.8zM354.8 249.2h0.8v0.8h-0.8zM349.9 251.4h0.8v0.8h-0.8zM356.6 255.4h0.8v0.8h-0.8zM347.7 256.8h0.8v0.8h-0.8zM350.5 256.7h0.8v0.8h-0.8zM348.4 255.4h0.8v0.8h-0.8zM354.1 253.0h0.8v0.8h-0.8zM357.5 256.5h0.8v0.8h-0.8zM355.7 256.5h0.8v0.8h-0.8z" fill="#c0c0c0" filter="url(#b3)"/>
<ellipse cx="353.40" cy="274.00" rx="11" ry="4.2" fill="#777" fill-opacity="0.6" filter="url(#b10)" transform="rotate(0 353.40 274.00)"/>
<path d="M347.4 277.4h0.8v0.8h-0.8zM353.2 277.2h0.8v0.8h-0.8zM356.9 280.7h0.8v0.8h-0.8zM343.3 275.5h0.8v0.8h-0.8zM345.0 273.7h0.8v0.8h-0.8zM347.7 275.6h0.8v0.8h-0.8zM359.4 275.5h0.8v0.8h-0.8zM360.1 275.2h0.8v0.8h-0.8zM355.3 276.1h0.8v0.8h-0.8zM356.1 277.1h0.8v0.8h-0.8zM349.8 275.4h0.8v0.8h-0.8zM346.3 277.1h0.8v0.8h-0.8zM356.3 275.9h0.8v0.8h-0.8zM357.9 271.6h0.8v0.8h-0.8zM352.9 275.6h0.8v0.8h-0.8zM341.5 276.2h0.8v0.8h-0.8zM355.0 277.4h0.8v0.8h-0.8zM354.1 274.9h0.8v0.8h-0.8zM348.8 278.9h0.8v0.8h-0.8zM358.1 273.1h0.8v0.8h-0.8zM362.1 274.4h0.8v0.8h-0.8zM358.5 275.1h0.8v0.8h-0.8zM354.2 279.1h0.8v0.8h-0.8zM349.9 277.3h0.8v0.8h-0.8zM356.6 276.5h0.8v0.8h-0.8zM345.7 279.0h0.8v0.8h-0.8zM358.4 273.7h0.8v0.8h-0.8zM357.9 275.4h0.8v0.8h-0.8zM353.9 276.8h0.8v0.8h-0.8zM359.4 275.7h0.8v0.8h-0.8zM350.5 272.8h0.8v0.8h-0.8zM358.3 276.0h0.8v0.8h-0.8zM356.3 277.5h0.8v0.8h-0.8zM353.0 278.8h0.8v0.8h-0.8zM357.8 277.8h0.8v0.8h-0.8zM349.5 274.1h0.8v0.8h-0.8zM351.4 276.5h0.8v0.8h-0.8zM344.0 275.9h0.8v0.8h-0.8zM353.7 277.9h0.8v0.8h-0.8zM357.0 274.9h0.8v0.8h-0.8zM357.6 277.6h0.8v0.8h-0.8zM355.9 276.3h0.8v0.8h-0.8zM357.5 276.8h0.8v0.8h-0.8zM358.9 270.5h0.8v0.8h-0.8zM344.5 275.5h0.8v0.8h-0.8zM351.1 277.7h0.8v0.8h-0.8zM348.3 276.4h0.8v0.8h-0.8zM351.0 278.5h0.8v0.8h-0.8zM354.4 275.4h0.8v0.8h-0.8zM359.5 277.2h0.8v0.8h-0.8zM350.7 279.4h0.8v0.8h-0.8zM349.1 279.3h0.8v0.8h-0.8zM341.0 276.7h0.8v0.8h-0.8zM360.6 278.1h0.8v0.8h-0.8zM350.0 276.0h0.8v0.8h-0.8zM361.3 278.3h0.8v0.8h-0.8zM356.0 275.2h0.8v0.8h-0.8zM349.7 274.8h0.8v0.8h-0.8zM344.0 276.9h0.8v0.8h-0.8zM349.7 274.6h0.8v0.8h-0.8zM352.3 277.8h0.8v0.8h-0.8zM353.5 275.7h0.8v0.8h-0.8zM357.5 274.0h0.8v0.8h-0.8zM346.0 276.4h0.8v0.8h-0.8zM350.8 277.1h0.8v0.8h-0.8zM351.5 277.3h0.8v0.8h-0.8zM359.7 274.5h0.8v0.8h-0.8zM356.6 273.6h0.8v0.8h-0.8zM353.6 275.6h0.8v0.8h-0.8zM352.3 275.4h0.8v0.8h-0.8zM346.2 274.3h0.8v0.8h-0.8zM353.6 272.8h0.8v0.8h-0.8zM339.3 274.0h0.8v0.8h-0.8zM344.7 277.8h0.8v0.8h-0.8zM348.0 276.1h0.8v0.8h-0.8zM355.1 274.4h0.8v0.8h-0.8zM355.4 271.8h0.8v0.8h-0.8zM355.5 273.2h0.8v0.8h-0.8zM357.2 276.3h0.8v0.8h-0.8zM349.3 277.8h0.8v0.8h-0.8zM351.4 279.7h0.8v0.8h-0.8zM347.3 273.2h0.8v0.8h-0.8zM354.9 275.1h0.8v0.8h-0.8zM346.2 274.4h0.8v0.8h-0.8zM355.1 274.0h0.8v0.8h-0.8zM368.5 273.8h0.8v0.8h-0.8zM363.8 278.3h0.8v0.8h-0.8zM351.2 274.9h0.8v0.8h-0.8zM348.5 275.7h0.8v0.8h-0.8zM355.2 281.0h0.8v0.8h-0.8zM350.4 278.9h0.8v0.8h-0.8zM350.8 275.1h0.8v0.8h-0.8zM365.4 273.2h0.8v0.8h-0.8zM348.1 276.6h0.8v0.8h-0.8zM354.8 276.5h0.8v0.8h-0.8zM352.1 274.8h0.8v0.8h-0.8zM362.1 279.5h0.8v0.8h-0.8zM355.5 275.8h0.8v0.8h-0.8zM349.3 275.3h0.8v0.8h-0.8zM360.1 277.0h0.8v0.8h-0.8zM354.7 278.2h0.8v0.8h-0.8zM347.7 276.9h0.8v0.8h-0.8zM348.9 276.5h0.8v0.8h-0.8zM342.2 274.8h0.8v0.8h-0.8zM350.3 276.5h0.8v0.8h-0.8zM353.1 272.5h0.8v0.8h-0.8zM350.9 277.1h0.8v0.8h-0.8zM348.2 275.4h0.8v0.8h-0.8zM352.9 274.7h0.8v0.8h-0.8zM350.8 276.7h0.8v0.8h-0.8zM353.6 276.1h0.8v0.8h-0.8zM356.3 273.3h0.8v0.8h-0.8zM353.5 275.1h0.8v0.8h-0.8zM349.0 274.0h0.8v0.8h-0.8zM348.0 277.1h0.8v0.8h-0.8zM355.1 275.6h0.8v0.8h-0.8zM342.8 274.6h0.8v0.8h-0.8zM354.3 276.1h0.8v0.8h-0.8zM353.9 275.1h0.8v0.8h-0.8zM332.3 274.8h0.8v0.8h-0.8zM343.2 275.4h0.8v0.8h-0.8zM351.6 275.3h0.8v0.8h-0.8zM343.4 279.0h0.8v0.8h-0.8zM356.3 276.2h0.8v0.8h-0.8zM357.3 281.3h0.8v0.8h-0.8zM353.5 278.3h0.8v0.8h-0.8zM352.5 275.4h0.8v0.8h-0.8zM354.9 275.7h0.8v0.8h-0.8zM356.6 277.3h0.8v0.8h-0.8zM355.7 275.3h0.8v0.8h-0.8zM354.3 273.4h0.8v0.8h-0.8zM357.0 275.1h0.8v0.8h-0.8zM357.0 278.8h0.8v0.8h-0.8zM349.8 275.9h0.8v0.8h-0.8zM362.9 274.0h0.8v0.8h-0.8zM344.7 276.9h0.8v0.8h-0.8zM356.8 278.4h0.8v0.8h-0.8zM348.8 279.2h0.8v0.8h-0.8zM355.9 277.3h0.8v0.8h-0.8zM355.7 276.5h0.8v0.8h-0.8zM358.1 273.7h0.8v0.8h-0.8zM356.7 277.2h0.8v0.8h-0.8zM358.5 276.5h0.8v0.8h-0.8zM367.1 277.5h0.8v0.8h-0.8zM350.2 276.4h0.8v0.8h-0.8zM337.2 275.5h0.8v0.8h-0.8zM363.0 277.6h0.8v0.8h-0.8zM359.9 277.3h0.8v0.8h-0.8zM351.1 275.7h0.8v0.8h-0.8zM351.2 273.7h0.8v0.8h-0.8zM348.3 276.3h0.8v0.8h-0.8zM351.6 273.3h0.8v0.8h-0.8zM347.8 274.4h0.8v0.8h-0.8zM358.2 277.0h0.8v0.8h-0.8zM356.0 276.1h0.8v0.8h-0.8zM356.0 275.2h0.8v0.8h-0.8zM350.9 277.7h0.8v0.8h-0.8zM362.3 274.5h0.8v0.8h-0.8zM366.8 274.8h0.8v0.8h-0.8zM354.2 277.2h0.8v0.8h-0.8zM350.6 276.0h0.8v0.8h-0.8zM352.7 276.1h0.8v0.8h-0.8zM347.4 276.3h0.8v0.8h-0.8zM352.6 276.0h0.8v0.8h-0.8zM351.4 275.1h0.8v0.8h-0.8zM356.8 277.0h0.8v0.8h-0.8zM355.3 277.5h0.8v0.8h-0.8zM358.9 275.5h0.8v0.8h-0.8zM350.0 273.7h0.8v0.8h-0.8zM341.5 274.0h0.8v0.8h-0.8zM362.6 280.3h0.8v0.8h-0.8zM363.2 280.3h0.8v0.8h-0.8zM352.5 273.1h0.8v0.8h-0.8zM353.8 273.2h0.8v0.8h-0.8zM369.5 276.3h0.8v0.8h-0.8zM362.4 277.7h0.8v0.8h-0.8zM351.5 277.1h0.8v0.8h-0.8zM345.7 275.2h0.8v0.8h-0.8zM354.7 275.0h0.8v0.8h-0.8zM354.9 273.7h0.8v0.8h-0.8z" fill="#333" filter="url(#b3)"/>
<ellipse cx="353.40" cy="276.30" rx="10.2" ry="3.2" fill="#000" fill-opacity="1" filter="url(#b6)" transform="rotate(0 353.40 276.30)"/>
<path d="M311.10 230.40V290.20H372.30V230.40" fill="none" stroke="#9a9a9a" stroke-width="0.8"/>
<line x1="311.10" y1="230.40" x2="372.30" y2="230.40" stroke="#d4d4d4" stroke-width="0.8"/>
<line x1="309.50" y1="236.60" x2="311.10" y2="236.60" stroke="#333" stroke-width="0.8"/>
<text x="307.70" y="238.90" font-size="6.6" text-anchor="end" fill="#222">10<tspan font-size="4.62" dy="-2.77">5</tspan></text>
<line x1="309.50" y1="250.60" x2="311.10" y2="250.60" stroke="#333" stroke-width="0.8"/>
<text x="307.70" y="252.90" font-size="6.6" text-anchor="end" fill="#222">10<tspan font-size="4.62" dy="-2.77">4</tspan></text>
<line x1="309.50" y1="266.20" x2="311.10" y2="266.20" stroke="#333" stroke-width="0.8"/>
<text x="307.70" y="268.50" font-size="6.6" text-anchor="end" fill="#222">10<tspan font-size="4.62" dy="-2.77">3</tspan></text>
<line x1="309.50" y1="276.90" x2="311.10" y2="276.90" stroke="#333" stroke-width="0.8"/>
<text x="305.30" y="279.20" font-size="6.6" text-anchor="end" fill="#222">0</text>
<line x1="309.50" y1="288.70" x2="311.10" y2="288.70" stroke="#333" stroke-width="0.8"/>
<text x="307.70" y="291.00" font-size="6.6" text-anchor="end" fill="#222">-10<tspan font-size="4.62" dy="-2.77">3</tspan></text>
<line x1="310.10" y1="240.40" x2="311.10" y2="240.40" stroke="#666" stroke-width="0.5"/>
<line x1="310.10" y1="243.40" x2="311.10" y2="243.40" stroke="#666" stroke-width="0.5"/>
<line x1="310.10" y1="245.40" x2="311.10" y2="245.40" stroke="#666" stroke-width="0.5"/>
<line x1="310.10" y1="246.90" x2="311.10" y2="246.90" stroke="#666" stroke-width="0.5"/>
<line x1="310.10" y1="254.40" x2="311.10" y2="254.40" stroke="#666" stroke-width="0.5"/>
<line x1="310.10" y1="257.40" x2="311.10" y2="257.40" stroke="#666" stroke-width="0.5"/>
<line x1="310.10" y1="259.40" x2="311.10" y2="259.40" stroke="#666" stroke-width="0.5"/>
<line x1="310.10" y1="260.90" x2="311.10" y2="260.90" stroke="#666" stroke-width="0.5"/>
<line x1="310.10" y1="270.40" x2="311.10" y2="270.40" stroke="#666" stroke-width="0.5"/>
<line x1="310.10" y1="282.40" x2="311.10" y2="282.40" stroke="#666" stroke-width="0.5"/>
<line x1="314.90" y1="290.20" x2="314.90" y2="291.80" stroke="#333" stroke-width="0.8"/>
<text x="309.30" y="301.00" font-size="6.6" text-anchor="start" fill="#222" textLength="10.8" lengthAdjust="spacingAndGlyphs">-10<tspan font-size="4.62" dy="-2.77">3</tspan></text>
<line x1="324.30" y1="290.20" x2="324.30" y2="291.80" stroke="#333" stroke-width="0.8"/>
<text x="324.30" y="301.00" font-size="6.6" text-anchor="middle" fill="#222">0</text>
<line x1="333.70" y1="290.20" x2="333.70" y2="291.80" stroke="#333" stroke-width="0.8"/>
<text x="329.20" y="301.00" font-size="6.6" text-anchor="start" fill="#222">10<tspan font-size="4.62" dy="-2.77">3</tspan></text>
<line x1="351.70" y1="290.20" x2="351.70" y2="291.80" stroke="#333" stroke-width="0.8"/>
<text x="347.20" y="301.00" font-size="6.6" text-anchor="start" fill="#222">10<tspan font-size="4.62" dy="-2.77">4</tspan></text>
<line x1="365.90" y1="290.20" x2="365.90" y2="291.80" stroke="#333" stroke-width="0.8"/>
<text x="361.40" y="301.00" font-size="6.6" text-anchor="start" fill="#222">10<tspan font-size="4.62" dy="-2.77">5</tspan></text>
<line x1="318.10" y1="290.20" x2="318.10" y2="291.20" stroke="#666" stroke-width="0.5"/>
<line x1="320.60" y1="290.20" x2="320.60" y2="291.20" stroke="#666" stroke-width="0.5"/>
<line x1="328.10" y1="290.20" x2="328.10" y2="291.20" stroke="#666" stroke-width="0.5"/>
<line x1="338.10" y1="290.20" x2="338.10" y2="291.20" stroke="#666" stroke-width="0.5"/>
<line x1="342.10" y1="290.20" x2="342.10" y2="291.20" stroke="#666" stroke-width="0.5"/>
<line x1="345.10" y1="290.20" x2="345.10" y2="291.20" stroke="#666" stroke-width="0.5"/>
<line x1="355.60" y1="290.20" x2="355.60" y2="291.20" stroke="#666" stroke-width="0.5"/>
<line x1="359.10" y1="290.20" x2="359.10" y2="291.20" stroke="#666" stroke-width="0.5"/>
<rect x="309.80" y="275.40" width="1.5" height="3" fill="#111"/>
<rect x="322.60" y="289.80" width="3" height="1.6" fill="#111"/>
<line x1="334.90" y1="230.40" x2="334.90" y2="290.20" stroke="#444" stroke-width="0.9"/>
<line x1="311.10" y1="268.20" x2="372.30" y2="268.20" stroke="#444" stroke-width="0.9"/>
<text x="370.00" y="240.10" font-size="6.5" text-anchor="end" font-weight="bold" textLength="18.0" lengthAdjust="spacingAndGlyphs">2.08%</text>
<text x="370.00" y="289.50" font-size="6.5" text-anchor="end" font-weight="bold" textLength="18.0" lengthAdjust="spacingAndGlyphs">97.9%</text>
<ellipse cx="442.00" cy="262.00" rx="17" ry="8" fill="#d4d4d4" fill-opacity="0.3" filter="url(#b25)" transform="rotate(0 442.00 262.00)"/>
<path d="M441.1 257.2h0.8v0.8h-0.8zM432.8 263.2h0.8v0.8h-0.8zM458.7 266.0h0.8v0.8h-0.8zM447.6 263.6h0.8v0.8h-0.8zM441.4 252.0h0.8v0.8h-0.8zM443.6 262.5h0.8v0.8h-0.8zM442.2 253.8h0.8v0.8h-0.8zM428.6 254.4h0.8v0.8h-0.8zM435.3 263.7h0.8v0.8h-0.8zM426.7 264.5h0.8v0.8h-0.8zM458.9 260.8h0.8v0.8h-0.8zM451.5 258.8h0.8v0.8h-0.8zM440.1 254.9h0.8v0.8h-0.8zM461.6 271.1h0.8v0.8h-0.8zM437.2 257.3h0.8v0.8h-0.8zM450.8 259.8h0.8v0.8h-0.8zM453.2 267.3h0.8v0.8h-0.8zM432.7 263.1h0.8v0.8h-0.8zM441.7 252.6h0.8v0.8h-0.8zM432.3 258.6h0.8v0.8h-0.8zM439.9 255.1h0.8v0.8h-0.8zM440.8 253.4h0.8v0.8h-0.8zM432.2 253.4h0.8v0.8h-0.8zM457.6 269.8h0.8v0.8h-0.8zM458.7 254.3h0.8v0.8h-0.8zM426.6 269.8h0.8v0.8h-0.8zM461.3 264.3h0.8v0.8h-0.8zM426.2 264.2h0.8v0.8h-0.8zM459.0 264.7h0.8v0.8h-0.8zM433.0 251.2h0.8v0.8h-0.8zM452.9 257.2h0.8v0.8h-0.8zM429.1 270.3h0.8v0.8h-0.8zM459.2 263.4h0.8v0.8h-0.8zM435.4 267.5h0.8v0.8h-0.8zM435.1 261.5h0.8v0.8h-0.8zM437.1 254.3h0.8v0.8h-0.8zM460.7 267.9h0.8v0.8h-0.8zM431.2 266.4h0.8v0.8h-0.8zM429.5 252.5h0.8v0.8h-0.8zM436.4 269.1h0.8v0.8h-0.8zM429.6 264.6h0.8v0.8h-0.8zM453.2 257.7h0.8v0.8h-0.8zM459.7 263.7h0.8v0.8h-0.8zM453.4 265.9h0.8v0.8h-0.8zM459.7 257.5h0.8v0.8h-0.8zM430.2 269.1h0.8v0.8h-0.8zM435.7 265.5h0.8v0.8h-0.8zM434.4 251.3h0.8v0.8h-0.8zM453.3 269.3h0.8v0.8h-0.8zM435.9 268.6h0.8v0.8h-0.8zM430.3 264.5h0.8v0.8h-0.8zM425.7 257.2h0.8v0.8h-0.8zM428.3 271.9h0.8v0.8h-0.8zM452.5 254.9h0.8v0.8h-0.8zM451.7 266.0h0.8v0.8h-0.8zM431.0 251.0h0.8v0.8h-0.8zM461.7 251.1h0.8v0.8h-0.8zM458.1 254.7h0.8v0.8h-0.8zM452.3 264.5h0.8v0.8h-0.8zM438.4 270.3h0.8v0.8h-0.8zM445.0 263.5h0.8v0.8h-0.8zM434.6 267.6h0.8v0.8h-0.8zM459.8 254.1h0.8v0.8h-0.8zM436.2 270.7h0.8v0.8h-0.8zM447.5 266.0h0.8v0.8h-0.8zM437.4 255.9h0.8v0.8h-0.8zM434.5 252.9h0.8v0.8h-0.8zM427.0 269.4h0.8v0.8h-0.8zM432.6 252.5h0.8v0.8h-0.8zM438.4 259.8h0.8v0.8h-0.8zM449.4 251.9h0.8v0.8h-0.8zM425.7 255.6h0.8v0.8h-0.8zM455.5 268.2h0.8v0.8h-0.8zM441.6 252.7h0.8v0.8h-0.8zM461.8 265.3h0.8v0.8h-0.8zM444.3 255.0h0.8v0.8h-0.8zM436.1 253.0h0.8v0.8h-0.8zM453.2 254.0h0.8v0.8h-0.8zM425.7 268.7h0.8v0.8h-0.8zM428.1 263.2h0.8v0.8h-0.8zM428.8 260.7h0.8v0.8h-0.8zM425.6 268.4h0.8v0.8h-0.8zM456.9 268.3h0.8v0.8h-0.8zM434.2 259.9h0.8v0.8h-0.8zM451.4 266.4h0.8v0.8h-0.8zM425.7 261.7h0.8v0.8h-0.8zM432.7 271.4h0.8v0.8h-0.8zM445.0 259.1h0.8v0.8h-0.8zM449.3 259.8h0.8v0.8h-0.8zM428.8 270.1h0.8v0.8h-0.8zM430.6 269.3h0.8v0.8h-0.8zM438.4 270.8h0.8v0.8h-0.8zM447.3 257.1h0.8v0.8h-0.8zM439.0 269.8h0.8v0.8h-0.8zM426.1 261.6h0.8v0.8h-0.8zM449.7 256.2h0.8v0.8h-0.8zM451.7 264.0h0.8v0.8h-0.8zM436.7 260.9h0.8v0.8h-0.8zM453.7 264.4h0.8v0.8h-0.8zM435.9 269.8h0.8v0.8h-0.8zM440.4 264.5h0.8v0.8h-0.8zM436.1 255.0h0.8v0.8h-0.8zM427.1 252.7h0.8v0.8h-0.8zM442.4 256.2h0.8v0.8h-0.8zM453.4 261.4h0.8v0.8h-0.8zM428.9 268.8h0.8v0.8h-0.8zM446.6 264.3h0.8v0.8h-0.8zM460.8 266.9h0.8v0.8h-0.8zM432.3 266.2h0.8v0.8h-0.8zM436.4 265.4h0.8v0.8h-0.8zM435.3 253.8h0.8v0.8h-0.8zM451.9 258.9h0.8v0.8h-0.8zM454.6 266.0h0.8v0.8h-0.8zM441.2 253.3h0.8v0.8h-0.8zM433.3 251.3h0.8v0.8h-0.8zM440.0 264.2h0.8v0.8h-0.8zM430.7 258.6h0.8v0.8h-0.8zM445.4 262.6h0.8v0.8h-0.8zM432.5 267.2h0.8v0.8h-0.8zM441.7 272.0h0.8v0.8h-0.8z" fill="#c0c0c0" filter="url(#b3)"/>
<ellipse cx="444.00" cy="274.80" rx="19" ry="2.8" fill="#555" fill-opacity="0.6" filter="url(#b10)" transform="rotate(-3 444.00 274.80)"/>
<path d="M461.9 272.3h0.8v0.8h-0.8zM454.0 269.1h0.8v0.8h-0.8zM455.2 274.4h0.8v0.8h-0.8zM432.2 272.7h0.8v0.8h-0.8zM436.4 275.1h0.8v0.8h-0.8zM434.7 276.1h0.8v0.8h-0.8zM424.3 276.8h0.8v0.8h-0.8zM438.5 274.8h0.8v0.8h-0.8zM452.5 274.2h0.8v0.8h-0.8zM445.2 276.9h0.8v0.8h-0.8zM440.6 275.7h0.8v0.8h-0.8zM426.0 274.8h0.8v0.8h-0.8zM463.3 275.1h0.8v0.8h-0.8zM426.7 274.2h0.8v0.8h-0.8zM455.5 274.3h0.8v0.8h-0.8zM434.0 273.7h0.8v0.8h-0.8zM444.8 273.8h0.8v0.8h-0.8zM444.1 274.3h0.8v0.8h-0.8zM433.7 274.9h0.8v0.8h-0.8zM435.3 271.4h0.8v0.8h-0.8zM425.5 273.4h0.8v0.8h-0.8zM431.8 274.0h0.8v0.8h-0.8zM441.8 274.9h0.8v0.8h-0.8zM443.3 275.0h0.8v0.8h-0.8zM450.3 271.0h0.8v0.8h-0.8zM457.4 271.8h0.8v0.8h-0.8zM420.5 275.2h0.8v0.8h-0.8zM439.8 272.6h0.8v0.8h-0.8zM440.8 273.8h0.8v0.8h-0.8zM466.9 273.0h0.8v0.8h-0.8zM439.0 275.0h0.8v0.8h-0.8zM446.8 279.8h0.8v0.8h-0.8zM452.4 273.5h0.8v0.8h-0.8zM443.8 277.4h0.8v0.8h-0.8zM434.1 272.4h0.8v0.8h-0.8zM441.9 276.5h0.8v0.8h-0.8zM447.8 272.2h0.8v0.8h-0.8zM442.0 273.5h0.8v0.8h-0.8zM431.1 274.4h0.8v0.8h-0.8zM454.4 275.6h0.8v0.8h-0.8zM437.1 274.7h0.8v0.8h-0.8zM451.4 275.0h0.8v0.8h-0.8zM437.7 272.0h0.8v0.8h-0.8zM467.9 274.5h0.8v0.8h-0.8zM449.2 276.8h0.8v0.8h-0.8zM436.0 272.8h0.8v0.8h-0.8zM449.5 275.0h0.8v0.8h-0.8zM447.1 277.0h0.8v0.8h-0.8zM423.2 274.0h0.8v0.8h-0.8zM432.5 276.6h0.8v0.8h-0.8zM451.8 274.7h0.8v0.8h-0.8zM419.3 274.6h0.8v0.8h-0.8zM459.2 272.9h0.8v0.8h-0.8zM454.8 274.5h0.8v0.8h-0.8zM448.6 274.1h0.8v0.8h-0.8zM454.7 276.3h0.8v0.8h-0.8zM438.8 274.7h0.8v0.8h-0.8zM434.8 274.4h0.8v0.8h-0.8zM444.9 272.4h0.8v0.8h-0.8zM456.8 274.4h0.8v0.8h-0.8zM443.6 273.2h0.8v0.8h-0.8zM428.2 271.7h0.8v0.8h-0.8zM437.6 279.8h0.8v0.8h-0.8zM450.6 276.8h0.8v0.8h-0.8zM420.0 277.8h0.8v0.8h-0.8zM464.2 271.5h0.8v0.8h-0.8zM439.8 275.6h0.8v0.8h-0.8zM452.7 274.8h0.8v0.8h-0.8zM462.3 275.2h0.8v0.8h-0.8zM446.1 272.7h0.8v0.8h-0.8zM434.1 274.9h0.8v0.8h-0.8zM444.1 276.0h0.8v0.8h-0.8zM440.2 274.1h0.8v0.8h-0.8zM442.1 274.8h0.8v0.8h-0.8zM455.3 271.4h0.8v0.8h-0.8zM447.1 274.1h0.8v0.8h-0.8zM443.2 273.6h0.8v0.8h-0.8zM451.7 277.7h0.8v0.8h-0.8zM449.4 275.2h0.8v0.8h-0.8zM437.0 276.7h0.8v0.8h-0.8zM454.1 275.5h0.8v0.8h-0.8zM421.9 277.7h0.8v0.8h-0.8zM431.1 277.1h0.8v0.8h-0.8zM443.2 273.1h0.8v0.8h-0.8zM430.5 275.4h0.8v0.8h-0.8zM435.4 277.7h0.8v0.8h-0.8zM438.2 275.5h0.8v0.8h-0.8zM442.1 274.9h0.8v0.8h-0.8zM444.8 271.8h0.8v0.8h-0.8zM436.5 274.2h0.8v0.8h-0.8zM433.3 273.7h0.8v0.8h-0.8zM440.3 278.1h0.8v0.8h-0.8zM462.3 270.0h0.8v0.8h-0.8zM433.7 276.9h0.8v0.8h-0.8zM444.4 273.4h0.8v0.8h-0.8zM417.0 273.8h0.8v0.8h-0.8zM440.8 276.6h0.8v0.8h-0.8zM436.2 277.4h0.8v0.8h-0.8zM431.8 275.8h0.8v0.8h-0.8zM453.4 273.4h0.8v0.8h-0.8zM442.7 275.3h0.8v0.8h-0.8zM439.8 275.0h0.8v0.8h-0.8zM435.7 274.8h0.8v0.8h-0.8zM434.9 272.9h0.8v0.8h-0.8zM434.6 272.8h0.8v0.8h-0.8zM453.2 277.3h0.8v0.8h-0.8zM454.6 274.1h0.8v0.8h-0.8zM424.9 280.3h0.8v0.8h-0.8zM446.5 277.2h0.8v0.8h-0.8zM455.0 269.9h0.8v0.8h-0.8zM441.2 279.9h0.8v0.8h-0.8zM432.9 275.9h0.8v0.8h-0.8zM443.5 273.3h0.8v0.8h-0.8zM452.7 272.3h0.8v0.8h-0.8zM435.1 276.0h0.8v0.8h-0.8zM433.4 273.4h0.8v0.8h-0.8zM455.7 276.9h0.8v0.8h-0.8zM441.4 272.2h0.8v0.8h-0.8zM424.3 276.5h0.8v0.8h-0.8zM430.2 274.1h0.8v0.8h-0.8zM431.2 272.5h0.8v0.8h-0.8zM452.8 274.3h0.8v0.8h-0.8zM452.8 272.8h0.8v0.8h-0.8zM440.9 275.0h0.8v0.8h-0.8zM452.2 274.6h0.8v0.8h-0.8zM439.2 277.1h0.8v0.8h-0.8zM447.0 273.3h0.8v0.8h-0.8zM460.7 276.6h0.8v0.8h-0.8zM430.1 278.9h0.8v0.8h-0.8zM432.9 272.6h0.8v0.8h-0.8zM460.1 273.5h0.8v0.8h-0.8zM450.0 275.2h0.8v0.8h-0.8zM460.0 272.3h0.8v0.8h-0.8zM436.0 276.0h0.8v0.8h-0.8zM425.7 274.1h0.8v0.8h-0.8zM457.8 274.1h0.8v0.8h-0.8zM439.2 276.5h0.8v0.8h-0.8zM430.4 276.3h0.8v0.8h-0.8zM433.1 275.7h0.8v0.8h-0.8zM461.1 274.9h0.8v0.8h-0.8zM455.7 274.3h0.8v0.8h-0.8zM447.3 275.5h0.8v0.8h-0.8zM457.8 272.9h0.8v0.8h-0.8zM451.5 273.0h0.8v0.8h-0.8zM439.7 271.3h0.8v0.8h-0.8zM435.1 273.4h0.8v0.8h-0.8zM456.8 274.9h0.8v0.8h-0.8zM458.3 275.1h0.8v0.8h-0.8zM431.7 277.9h0.8v0.8h-0.8zM432.4 275.2h0.8v0.8h-0.8zM454.2 275.2h0.8v0.8h-0.8zM442.2 277.5h0.8v0.8h-0.8zM456.6 275.1h0.8v0.8h-0.8zM457.0 274.0h0.8v0.8h-0.8zM443.6 271.0h0.8v0.8h-0.8zM434.2 276.9h0.8v0.8h-0.8zM442.9 275.8h0.8v0.8h-0.8zM426.7 278.7h0.8v0.8h-0.8zM436.3 276.1h0.8v0.8h-0.8zM437.9 274.6h0.8v0.8h-0.8zM441.9 276.0h0.8v0.8h-0.8zM460.1 274.5h0.8v0.8h-0.8zM436.9 274.4h0.8v0.8h-0.8zM442.1 275.6h0.8v0.8h-0.8zM447.6 274.1h0.8v0.8h-0.8zM448.5 276.5h0.8v0.8h-0.8zM445.3 272.8h0.8v0.8h-0.8zM428.2 274.5h0.8v0.8h-0.8zM460.5 275.8h0.8v0.8h-0.8zM442.1 274.7h0.8v0.8h-0.8zM429.9 276.7h0.8v0.8h-0.8zM433.6 272.0h0.8v0.8h-0.8zM436.5 271.9h0.8v0.8h-0.8zM447.8 275.2h0.8v0.8h-0.8zM432.1 280.0h0.8v0.8h-0.8zM445.0 273.1h0.8v0.8h-0.8zM445.5 273.9h0.8v0.8h-0.8zM465.8 273.0h0.8v0.8h-0.8zM443.9 274.1h0.8v0.8h-0.8zM423.1 275.7h0.8v0.8h-0.8zM447.3 274.4h0.8v0.8h-0.8zM424.9 274.3h0.8v0.8h-0.8zM438.5 274.2h0.8v0.8h-0.8zM439.8 272.6h0.8v0.8h-0.8zM457.1 274.3h0.8v0.8h-0.8zM431.3 273.8h0.8v0.8h-0.8zM421.3 277.9h0.8v0.8h-0.8zM449.1 270.8h0.8v0.8h-0.8zM431.8 275.7h0.8v0.8h-0.8zM456.0 272.8h0.8v0.8h-0.8zM443.4 275.5h0.8v0.8h-0.8zM446.6 273.8h0.8v0.8h-0.8zM448.2 276.6h0.8v0.8h-0.8zM446.2 272.6h0.8v0.8h-0.8zM441.2 272.8h0.8v0.8h-0.8zM440.7 274.5h0.8v0.8h-0.8zM463.0 271.5h0.8v0.8h-0.8zM456.4 275.2h0.8v0.8h-0.8zM436.4 277.7h0.8v0.8h-0.8zM465.3 277.2h0.8v0.8h-0.8zM441.8 276.8h0.8v0.8h-0.8zM444.2 275.0h0.8v0.8h-0.8zM452.6 273.7h0.8v0.8h-0.8zM432.3 277.3h0.8v0.8h-0.8zM443.7 273.7h0.8v0.8h-0.8zM435.3 275.6h0.8v0.8h-0.8zM446.6 273.0h0.8v0.8h-0.8zM450.4 273.3h0.8v0.8h-0.8zM433.1 275.1h0.8v0.8h-0.8zM433.4 275.1h0.8v0.8h-0.8zM456.9 278.2h0.8v0.8h-0.8zM433.7 277.1h0.8v0.8h-0.8zM459.4 274.7h0.8v0.8h-0.8zM438.5 272.8h0.8v0.8h-0.8zM445.2 277.8h0.8v0.8h-0.8zM448.2 271.7h0.8v0.8h-0.8zM439.8 274.4h0.8v0.8h-0.8zM447.7 276.8h0.8v0.8h-0.8zM424.0 274.6h0.8v0.8h-0.8z" fill="#444" filter="url(#b3)"/>
<path d="M439.5 270.0h0.8v0.8h-0.8zM431.3 269.4h0.8v0.8h-0.8zM448.9 271.2h0.8v0.8h-0.8zM439.2 272.4h0.8v0.8h-0.8zM440.3 272.7h0.8v0.8h-0.8zM437.4 266.8h0.8v0.8h-0.8zM456.6 266.5h0.8v0.8h-0.8zM442.2 262.3h0.8v0.8h-0.8zM441.2 268.0h0.8v0.8h-0.8zM447.9 266.6h0.8v0.8h-0.8zM444.7 272.2h0.8v0.8h-0.8zM446.9 264.5h0.8v0.8h-0.8zM450.8 267.2h0.8v0.8h-0.8zM442.0 264.6h0.8v0.8h-0.8zM445.9 271.6h0.8v0.8h-0.8zM442.8 267.8h0.8v0.8h-0.8zM448.4 264.4h0.8v0.8h-0.8zM456.6 268.8h0.8v0.8h-0.8zM446.4 263.2h0.8v0.8h-0.8zM458.8 264.6h0.8v0.8h-0.8zM453.3 268.1h0.8v0.8h-0.8zM434.7 264.1h0.8v0.8h-0.8zM442.9 271.6h0.8v0.8h-0.8zM430.9 269.3h0.8v0.8h-0.8zM437.8 270.9h0.8v0.8h-0.8zM443.9 269.9h0.8v0.8h-0.8zM439.7 267.4h0.8v0.8h-0.8zM451.2 266.8h0.8v0.8h-0.8zM446.1 265.7h0.8v0.8h-0.8zM437.2 267.4h0.8v0.8h-0.8zM445.6 266.3h0.8v0.8h-0.8zM452.9 265.8h0.8v0.8h-0.8zM453.2 269.3h0.8v0.8h-0.8zM434.2 265.0h0.8v0.8h-0.8zM455.5 265.0h0.8v0.8h-0.8zM431.3 262.2h0.8v0.8h-0.8zM431.5 270.7h0.8v0.8h-0.8zM450.0 271.8h0.8v0.8h-0.8zM430.4 262.2h0.8v0.8h-0.8zM435.7 265.6h0.8v0.8h-0.8zM454.9 271.4h0.8v0.8h-0.8zM458.2 268.3h0.8v0.8h-0.8zM451.7 267.4h0.8v0.8h-0.8zM450.5 265.9h0.8v0.8h-0.8zM446.9 270.0h0.8v0.8h-0.8zM439.0 263.1h0.8v0.8h-0.8zM437.2 262.6h0.8v0.8h-0.8zM436.3 269.8h0.8v0.8h-0.8zM456.2 265.7h0.8v0.8h-0.8zM433.3 269.1h0.8v0.8h-0.8zM440.7 270.2h0.8v0.8h-0.8zM445.6 267.3h0.8v0.8h-0.8zM446.8 268.2h0.8v0.8h-0.8zM451.0 269.4h0.8v0.8h-0.8zM443.6 266.0h0.8v0.8h-0.8zM447.1 271.9h0.8v0.8h-0.8zM454.8 266.5h0.8v0.8h-0.8zM440.8 265.6h0.8v0.8h-0.8zM458.5 264.3h0.8v0.8h-0.8zM452.8 264.4h0.8v0.8h-0.8zM434.8 266.8h0.8v0.8h-0.8zM449.5 264.1h0.8v0.8h-0.8zM436.8 270.8h0.8v0.8h-0.8zM447.1 264.8h0.8v0.8h-0.8zM431.1 269.4h0.8v0.8h-0.8zM441.2 267.5h0.8v0.8h-0.8zM458.1 266.0h0.8v0.8h-0.8zM458.2 272.2h0.8v0.8h-0.8zM435.3 266.7h0.8v0.8h-0.8zM451.8 263.0h0.8v0.8h-0.8zM440.2 272.1h0.8v0.8h-0.8zM434.1 262.4h0.8v0.8h-0.8zM437.5 272.0h0.8v0.8h-0.8zM450.8 266.3h0.8v0.8h-0.8zM436.3 268.9h0.8v0.8h-0.8zM437.9 270.2h0.8v0.8h-0.8zM430.0 265.9h0.8v0.8h-0.8zM433.6 263.7h0.8v0.8h-0.8zM440.4 267.9h0.8v0.8h-0.8zM450.0 272.8h0.8v0.8h-0.8zM459.4 266.6h0.8v0.8h-0.8zM442.3 270.1h0.8v0.8h-0.8zM449.4 263.5h0.8v0.8h-0.8zM456.8 265.4h0.8v0.8h-0.8zM445.8 270.6h0.8v0.8h-0.8zM436.2 263.9h0.8v0.8h-0.8zM454.7 268.1h0.8v0.8h-0.8zM430.2 269.1h0.8v0.8h-0.8zM448.6 262.0h0.8v0.8h-0.8zM432.8 266.5h0.8v0.8h-0.8z" fill="#888" filter="url(#b3)"/>
<ellipse cx="434.00" cy="275.60" rx="9" ry="2.1" fill="#000" fill-opacity="0.95" filter="url(#b6)" transform="rotate(0 434.00 275.60)"/>
<ellipse cx="450.00" cy="274.60" rx="8" ry="1.6" fill="#111" fill-opacity="0.7" filter="url(#b6)" transform="rotate(-4 450.00 274.60)"/>
<path d="M416.20 230.40V290.20H477.40V230.40" fill="none" stroke="#9a9a9a" stroke-width="0.8"/>
<line x1="416.20" y1="230.40" x2="477.40" y2="230.40" stroke="#d4d4d4" stroke-width="0.8"/>
<line x1="414.60" y1="236.60" x2="416.20" y2="236.60" stroke="#333" stroke-width="0.8"/>
<text x="412.80" y="238.90" font-size="6.6" text-anchor="end" fill="#222">10<tspan font-size="4.62" dy="-2.77">5</tspan></text>
<line x1="414.60" y1="250.60" x2="416.20" y2="250.60" stroke="#333" stroke-width="0.8"/>
<text x="412.80" y="252.90" font-size="6.6" text-anchor="end" fill="#222">10<tspan font-size="4.62" dy="-2.77">4</tspan></text>
<line x1="414.60" y1="266.20" x2="416.20" y2="266.20" stroke="#333" stroke-width="0.8"/>
<text x="412.80" y="268.50" font-size="6.6" text-anchor="end" fill="#222">10<tspan font-size="4.62" dy="-2.77">3</tspan></text>
<line x1="414.60" y1="276.90" x2="416.20" y2="276.90" stroke="#333" stroke-width="0.8"/>
<text x="410.40" y="279.20" font-size="6.6" text-anchor="end" fill="#222">0</text>
<line x1="414.60" y1="288.70" x2="416.20" y2="288.70" stroke="#333" stroke-width="0.8"/>
<text x="412.80" y="291.00" font-size="6.6" text-anchor="end" fill="#222">-10<tspan font-size="4.62" dy="-2.77">3</tspan></text>
<line x1="415.20" y1="240.40" x2="416.20" y2="240.40" stroke="#666" stroke-width="0.5"/>
<line x1="415.20" y1="243.40" x2="416.20" y2="243.40" stroke="#666" stroke-width="0.5"/>
<line x1="415.20" y1="245.40" x2="416.20" y2="245.40" stroke="#666" stroke-width="0.5"/>
<line x1="415.20" y1="246.90" x2="416.20" y2="246.90" stroke="#666" stroke-width="0.5"/>
<line x1="415.20" y1="254.40" x2="416.20" y2="254.40" stroke="#666" stroke-width="0.5"/>
<line x1="415.20" y1="257.40" x2="416.20" y2="257.40" stroke="#666" stroke-width="0.5"/>
<line x1="415.20" y1="259.40" x2="416.20" y2="259.40" stroke="#666" stroke-width="0.5"/>
<line x1="415.20" y1="260.90" x2="416.20" y2="260.90" stroke="#666" stroke-width="0.5"/>
<line x1="415.20" y1="270.40" x2="416.20" y2="270.40" stroke="#666" stroke-width="0.5"/>
<line x1="415.20" y1="282.40" x2="416.20" y2="282.40" stroke="#666" stroke-width="0.5"/>
<line x1="420.00" y1="290.20" x2="420.00" y2="291.80" stroke="#333" stroke-width="0.8"/>
<text x="414.40" y="301.00" font-size="6.6" text-anchor="start" fill="#222" textLength="10.8" lengthAdjust="spacingAndGlyphs">-10<tspan font-size="4.62" dy="-2.77">3</tspan></text>
<line x1="429.40" y1="290.20" x2="429.40" y2="291.80" stroke="#333" stroke-width="0.8"/>
<text x="429.40" y="301.00" font-size="6.6" text-anchor="middle" fill="#222">0</text>
<line x1="438.80" y1="290.20" x2="438.80" y2="291.80" stroke="#333" stroke-width="0.8"/>
<text x="434.30" y="301.00" font-size="6.6" text-anchor="start" fill="#222">10<tspan font-size="4.62" dy="-2.77">3</tspan></text>
<line x1="456.80" y1="290.20" x2="456.80" y2="291.80" stroke="#333" stroke-width="0.8"/>
<text x="452.30" y="301.00" font-size="6.6" text-anchor="start" fill="#222">10<tspan font-size="4.62" dy="-2.77">4</tspan></text>
<line x1="471.00" y1="290.20" x2="471.00" y2="291.80" stroke="#333" stroke-width="0.8"/>
<text x="466.50" y="301.00" font-size="6.6" text-anchor="start" fill="#222">10<tspan font-size="4.62" dy="-2.77">5</tspan></text>
<line x1="423.20" y1="290.20" x2="423.20" y2="291.20" stroke="#666" stroke-width="0.5"/>
<line x1="425.70" y1="290.20" x2="425.70" y2="291.20" stroke="#666" stroke-width="0.5"/>
<line x1="433.20" y1="290.20" x2="433.20" y2="291.20" stroke="#666" stroke-width="0.5"/>
<line x1="443.20" y1="290.20" x2="443.20" y2="291.20" stroke="#666" stroke-width="0.5"/>
<line x1="447.20" y1="290.20" x2="447.20" y2="291.20" stroke="#666" stroke-width="0.5"/>
<line x1="450.20" y1="290.20" x2="450.20" y2="291.20" stroke="#666" stroke-width="0.5"/>
<line x1="460.70" y1="290.20" x2="460.70" y2="291.20" stroke="#666" stroke-width="0.5"/>
<line x1="464.20" y1="290.20" x2="464.20" y2="291.20" stroke="#666" stroke-width="0.5"/>
<rect x="414.90" y="275.40" width="1.5" height="3" fill="#111"/>
<rect x="427.70" y="289.80" width="3" height="1.6" fill="#111"/>
<path d="M459.1 249.5L464.8 245.2L471.3 246.4L473.8 251.7L470.6 258.9L461.9 259.3L458.3 254.6Z" fill="none" stroke="#444" stroke-width="0.9"/>
<path d="M463.7 270.9L475.7 259.6L477.1 261.1L477.1 268.3L467.7 275.8L464.8 274.8Z" fill="none" stroke="#444" stroke-width="0.9"/>
<path d="M466.3 272.6L477 263.2L477 266L468 273.5Z" fill="#000" filter="url(#b4)"/>
<text x="473.20" y="242.40" font-size="6.5" text-anchor="end" font-weight="bold" textLength="18.0" lengthAdjust="spacingAndGlyphs">0.04%</text>
<text x="475.00" y="289.50" font-size="6.5" text-anchor="end" font-weight="bold" textLength="18.0" lengthAdjust="spacingAndGlyphs">11.5%</text>
<text x="24.60" y="182.00" font-size="10.4" fill="#1a1a1a" textLength="27.4" lengthAdjust="spacingAndGlyphs">RG SKI</text>
<text x="24.60" y="265.80" font-size="10.4" fill="#1a1a1a" textLength="45.7" lengthAdjust="spacingAndGlyphs">RG SKI IL-6</text>
<text x="78.50" y="219.20" font-size="10.2" text-anchor="middle" fill="#1a1a1a" textLength="25.2" lengthAdjust="spacingAndGlyphs" transform="rotate(-90 78.50 219.20)">hCD27</text>
<text x="185.00" y="219.50" font-size="10.2" text-anchor="middle" fill="#1a1a1a" textLength="17.6" lengthAdjust="spacingAndGlyphs" transform="rotate(-90 185.00 219.50)">hIgG</text>
<text x="291.20" y="219.00" font-size="10.2" text-anchor="middle" fill="#1a1a1a" textLength="25.0" lengthAdjust="spacingAndGlyphs" transform="rotate(-90 291.20 219.00)">hCD10</text>
<text x="396.30" y="219.20" font-size="10.2" text-anchor="middle" fill="#1a1a1a" textLength="24.6" lengthAdjust="spacingAndGlyphs" transform="rotate(-90 396.30 219.20)">hCD24</text>
<text x="127.20" y="314.20" font-size="9.9" text-anchor="middle" fill="#1a1a1a" textLength="18.1" lengthAdjust="spacingAndGlyphs">hIgD</text>
<text x="233.50" y="314.20" font-size="9.9" text-anchor="middle" fill="#1a1a1a" textLength="17.7" lengthAdjust="spacingAndGlyphs">hIgD</text>
<text x="338.90" y="314.20" font-size="9.9" text-anchor="middle" fill="#1a1a1a" textLength="25.7" lengthAdjust="spacingAndGlyphs">hCD19</text>
<text x="444.30" y="314.20" font-size="9.9" text-anchor="middle" fill="#1a1a1a" textLength="25.1" lengthAdjust="spacingAndGlyphs">hCD38</text>
<text x="10.40" y="142.40" font-size="13.4" fill="#000" stroke="#000" stroke-width="0.7" textLength="8.18" lengthAdjust="spacingAndGlyphs" style="stroke-width:0.7px">C</text>
<line x1="38.90" y1="337.00" x2="38.90" y2="414.55" stroke="#111" stroke-width="1.5"/>
<line x1="38.15" y1="413.80" x2="102.10" y2="413.80" stroke="#111" stroke-width="1.5"/>
<line x1="35.10" y1="413.80" x2="38.90" y2="413.80" stroke="#111" stroke-width="1.2"/>
<text x="33.30" y="416.35" font-size="7.2" text-anchor="end" fill="#222" textLength="4.8" lengthAdjust="spacingAndGlyphs">0</text>
<line x1="35.10" y1="398.80" x2="38.90" y2="398.80" stroke="#111" stroke-width="1.2"/>
<text x="33.30" y="401.35" font-size="7.2" text-anchor="end" fill="#222" textLength="9.6" lengthAdjust="spacingAndGlyphs">10</text>
<line x1="35.10" y1="383.80" x2="38.90" y2="383.80" stroke="#111" stroke-width="1.2"/>
<text x="33.30" y="386.35" font-size="7.2" text-anchor="end" fill="#222" textLength="9.6" lengthAdjust="spacingAndGlyphs">20</text>
<line x1="35.10" y1="368.80" x2="38.90" y2="368.80" stroke="#111" stroke-width="1.2"/>
<text x="33.30" y="371.35" font-size="7.2" text-anchor="end" fill="#222" textLength="9.6" lengthAdjust="spacingAndGlyphs">30</text>
<line x1="35.10" y1="353.80" x2="38.90" y2="353.80" stroke="#111" stroke-width="1.2"/>
<text x="33.30" y="356.35" font-size="7.2" text-anchor="end" fill="#222" textLength="9.6" lengthAdjust="spacingAndGlyphs">40</text>
<line x1="35.10" y1="338.80" x2="38.90" y2="338.80" stroke="#111" stroke-width="1.2"/>
<text x="33.30" y="341.35" font-size="7.2" text-anchor="end" fill="#222" textLength="9.6" lengthAdjust="spacingAndGlyphs">50</text>
<line x1="54.60" y1="413.80" x2="54.60" y2="416.00" stroke="#111" stroke-width="1.0"/>
<line x1="87.30" y1="413.80" x2="87.30" y2="416.00" stroke="#111" stroke-width="1.0"/>
<text x="54.40" y="425.60" font-size="6.6" text-anchor="middle" fill="#333" textLength="21.2" lengthAdjust="spacingAndGlyphs">RG SKI</text>
<text x="87.00" y="425.60" font-size="6.6" text-anchor="middle" fill="#333" textLength="35.2" lengthAdjust="spacingAndGlyphs">RG SKI IL-6</text>
<text x="18.70" y="375.35" font-size="8.6" text-anchor="middle" fill="#222" textLength="81.09999999999997" lengthAdjust="spacingAndGlyphs" transform="rotate(-90 18.70 375.35)">% of memory B cells</text>
<text x="67.20" y="336.20" font-size="6.5" text-anchor="middle" fill="#222"><tspan font-style="italic">P</tspan> = .016</text>
<circle cx="67.30" cy="340.70" r="0.8" fill="#222"/>
<line x1="50.10" y1="345.40" x2="84.20" y2="345.40" stroke="#111" stroke-width="1.6"/>
<circle cx="54.60" cy="389.80" r="1.5" fill="none" stroke="#a8102f" stroke-width="1.0"/>
<circle cx="51.60" cy="399.55" r="1.5" fill="none" stroke="#a8102f" stroke-width="1.0"/>
<circle cx="54.60" cy="398.80" r="1.5" fill="none" stroke="#a8102f" stroke-width="1.0"/>
<circle cx="57.60" cy="400.30" r="1.5" fill="none" stroke="#a8102f" stroke-width="1.0"/>
<circle cx="50.60" cy="404.80" r="1.5" fill="none" stroke="#a8102f" stroke-width="1.0"/>
<circle cx="58.10" cy="404.80" r="1.5" fill="none" stroke="#a8102f" stroke-width="1.0"/>
<circle cx="53.10" cy="409.30" r="1.5" fill="none" stroke="#a8102f" stroke-width="1.0"/>
<circle cx="84.80" cy="361.30" r="1.5" fill="#2a4a7a"/>
<circle cx="89.80" cy="361.30" r="1.5" fill="#2a4a7a"/>
<circle cx="87.30" cy="380.80" r="1.5" fill="#2a4a7a"/>
<circle cx="84.30" cy="395.05" r="1.5" fill="#2a4a7a"/>
<circle cx="90.30" cy="397.30" r="1.5" fill="#2a4a7a"/>
<circle cx="82.80" cy="400.30" r="1.5" fill="#2a4a7a"/>
<circle cx="89.30" cy="392.80" r="1.5" fill="#2a4a7a"/>
<line x1="44.80" y1="401.50" x2="64.40" y2="401.50" stroke="#5a0f20" stroke-width="1.1"/>
<line x1="49.80" y1="399.10" x2="59.40" y2="399.10" stroke="#5a0f20" stroke-width="1.1"/>
<line x1="49.80" y1="403.90" x2="59.40" y2="403.90" stroke="#5a0f20" stroke-width="1.1"/>
<line x1="54.60" y1="399.10" x2="54.60" y2="403.90" stroke="#5a0f20" stroke-width="0.9"/>
<line x1="77.50" y1="383.80" x2="97.10" y2="383.80" stroke="#1d3358" stroke-width="1.1"/>
<line x1="82.50" y1="379.00" x2="92.10" y2="379.00" stroke="#1d3358" stroke-width="1.1"/>
<line x1="82.50" y1="388.60" x2="92.10" y2="388.60" stroke="#1d3358" stroke-width="1.1"/>
<line x1="87.30" y1="379.00" x2="87.30" y2="388.60" stroke="#1d3358" stroke-width="0.9"/>
<line x1="143.30" y1="337.20" x2="143.30" y2="414.85" stroke="#111" stroke-width="1.5"/>
<line x1="142.55" y1="414.10" x2="204.40" y2="414.10" stroke="#111" stroke-width="1.5"/>
<line x1="139.50" y1="414.10" x2="143.30" y2="414.10" stroke="#111" stroke-width="1.2"/>
<text x="137.70" y="416.65" font-size="7.2" text-anchor="end" fill="#222" textLength="4.8" lengthAdjust="spacingAndGlyphs">0</text>
<line x1="139.50" y1="395.33" x2="143.30" y2="395.33" stroke="#111" stroke-width="1.2"/>
<text x="137.70" y="397.88" font-size="7.2" text-anchor="end" fill="#222" textLength="4.8" lengthAdjust="spacingAndGlyphs">5</text>
<line x1="139.50" y1="376.55" x2="143.30" y2="376.55" stroke="#111" stroke-width="1.2"/>
<text x="137.70" y="379.10" font-size="7.2" text-anchor="end" fill="#222" textLength="9.6" lengthAdjust="spacingAndGlyphs">10</text>
<line x1="139.50" y1="357.77" x2="143.30" y2="357.77" stroke="#111" stroke-width="1.2"/>
<text x="137.70" y="360.32" font-size="7.2" text-anchor="end" fill="#222" textLength="9.6" lengthAdjust="spacingAndGlyphs">15</text>
<line x1="139.50" y1="339.00" x2="143.30" y2="339.00" stroke="#111" stroke-width="1.2"/>
<text x="137.70" y="341.55" font-size="7.2" text-anchor="end" fill="#222" textLength="9.6" lengthAdjust="spacingAndGlyphs">20</text>
<line x1="159.00" y1="414.10" x2="159.00" y2="416.30" stroke="#111" stroke-width="1.0"/>
<line x1="190.70" y1="414.10" x2="190.70" y2="416.30" stroke="#111" stroke-width="1.0"/>
<text x="159.00" y="425.60" font-size="6.6" text-anchor="middle" fill="#333" textLength="21.2" lengthAdjust="spacingAndGlyphs">RG SKI</text>
<text x="190.90" y="425.60" font-size="6.6" text-anchor="middle" fill="#333" textLength="35.2" lengthAdjust="spacingAndGlyphs">RG SKI IL-6</text>
<text x="121.40" y="373.95" font-size="8.6" text-anchor="middle" fill="#222" textLength="90.89999999999998" lengthAdjust="spacingAndGlyphs" transform="rotate(-90 121.40 373.95)">% of CD27<tspan font-size="5.5" dy="-3">+</tspan><tspan dy="3">IgG</tspan><tspan font-size="5.5" dy="-3">+</tspan><tspan dy="3"> B cells</tspan></text>
<text x="172.90" y="337.60" font-size="6.5" text-anchor="middle" fill="#222"><tspan font-style="italic">P</tspan> = .06</text>
<line x1="155.80" y1="341.80" x2="190.70" y2="341.80" stroke="#111" stroke-width="1.6"/>
<circle cx="159.00" cy="402.08" r="1.5" fill="none" stroke="#a8102f" stroke-width="1.0"/>
<circle cx="155.50" cy="406.59" r="1.5" fill="none" stroke="#a8102f" stroke-width="1.0"/>
<circle cx="162.50" cy="405.84" r="1.5" fill="none" stroke="#a8102f" stroke-width="1.0"/>
<circle cx="152.50" cy="410.35" r="1.5" fill="none" stroke="#a8102f" stroke-width="1.0"/>
<circle cx="157.00" cy="411.10" r="1.5" fill="none" stroke="#a8102f" stroke-width="1.0"/>
<circle cx="160.50" cy="410.35" r="1.5" fill="none" stroke="#a8102f" stroke-width="1.0"/>
<circle cx="164.50" cy="411.10" r="1.5" fill="none" stroke="#a8102f" stroke-width="1.0"/>
<circle cx="156.00" cy="412.97" r="1.5" fill="none" stroke="#a8102f" stroke-width="1.0"/>
<circle cx="162.00" cy="413.35" r="1.5" fill="none" stroke="#a8102f" stroke-width="1.0"/>
<circle cx="159.00" cy="412.22" r="1.5" fill="none" stroke="#a8102f" stroke-width="1.0"/>
<circle cx="190.20" cy="355.90" r="1.5" fill="#2a4a7a"/>
<circle cx="190.20" cy="378.05" r="1.5" fill="#2a4a7a"/>
<circle cx="186.20" cy="410.35" r="1.5" fill="#2a4a7a"/>
<circle cx="189.70" cy="411.10" r="1.5" fill="#2a4a7a"/>
<circle cx="193.70" cy="410.35" r="1.5" fill="#2a4a7a"/>
<circle cx="197.20" cy="407.72" r="1.5" fill="#2a4a7a"/>
<circle cx="190.70" cy="402.84" r="1.5" fill="#2a4a7a"/>
<line x1="149.20" y1="409.97" x2="168.80" y2="409.97" stroke="#5a0f20" stroke-width="1.1"/>
<line x1="154.20" y1="408.47" x2="163.80" y2="408.47" stroke="#5a0f20" stroke-width="1.1"/>
<line x1="154.20" y1="411.47" x2="163.80" y2="411.47" stroke="#5a0f20" stroke-width="1.1"/>
<line x1="159.00" y1="408.47" x2="159.00" y2="411.47" stroke="#5a0f20" stroke-width="0.9"/>
<line x1="180.90" y1="394.57" x2="200.50" y2="394.57" stroke="#1d3358" stroke-width="1.1"/>
<line x1="185.90" y1="387.44" x2="195.50" y2="387.44" stroke="#1d3358" stroke-width="1.1"/>
<line x1="185.90" y1="401.71" x2="195.50" y2="401.71" stroke="#1d3358" stroke-width="1.1"/>
<line x1="190.70" y1="387.44" x2="190.70" y2="401.71" stroke="#1d3358" stroke-width="0.9"/>
<line x1="245.00" y1="335.10" x2="245.00" y2="414.45" stroke="#111" stroke-width="1.5"/>
<line x1="244.25" y1="413.70" x2="304.10" y2="413.70" stroke="#111" stroke-width="1.5"/>
<line x1="241.20" y1="413.70" x2="245.00" y2="413.70" stroke="#111" stroke-width="1.2"/>
<text x="239.40" y="416.25" font-size="7.2" text-anchor="end" fill="#222" textLength="4.8" lengthAdjust="spacingAndGlyphs">0</text>
<line x1="241.20" y1="398.34" x2="245.00" y2="398.34" stroke="#111" stroke-width="1.2"/>
<text x="239.40" y="400.89" font-size="7.2" text-anchor="end" fill="#222" textLength="9.6" lengthAdjust="spacingAndGlyphs">10</text>
<line x1="241.20" y1="382.98" x2="245.00" y2="382.98" stroke="#111" stroke-width="1.2"/>
<text x="239.40" y="385.53" font-size="7.2" text-anchor="end" fill="#222" textLength="9.6" lengthAdjust="spacingAndGlyphs">20</text>
<line x1="241.20" y1="367.62" x2="245.00" y2="367.62" stroke="#111" stroke-width="1.2"/>
<text x="239.40" y="370.17" font-size="7.2" text-anchor="end" fill="#222" textLength="9.6" lengthAdjust="spacingAndGlyphs">30</text>
<line x1="241.20" y1="352.26" x2="245.00" y2="352.26" stroke="#111" stroke-width="1.2"/>
<text x="239.40" y="354.81" font-size="7.2" text-anchor="end" fill="#222" textLength="9.6" lengthAdjust="spacingAndGlyphs">40</text>
<line x1="241.20" y1="336.90" x2="245.00" y2="336.90" stroke="#111" stroke-width="1.2"/>
<text x="239.40" y="339.45" font-size="7.2" text-anchor="end" fill="#222" textLength="9.6" lengthAdjust="spacingAndGlyphs">50</text>
<line x1="260.80" y1="413.70" x2="260.80" y2="415.90" stroke="#111" stroke-width="1.0"/>
<line x1="290.40" y1="413.70" x2="290.40" y2="415.90" stroke="#111" stroke-width="1.0"/>
<text x="260.60" y="425.60" font-size="6.6" text-anchor="middle" fill="#333" textLength="21.2" lengthAdjust="spacingAndGlyphs">RG SKI</text>
<text x="290.60" y="425.60" font-size="6.6" text-anchor="middle" fill="#333" textLength="35.2" lengthAdjust="spacingAndGlyphs">RG SKI IL-6</text>
<text x="224.60" y="375.00" font-size="8.6" text-anchor="middle" fill="#222" textLength="84.60000000000002" lengthAdjust="spacingAndGlyphs" transform="rotate(-90 224.60 375.00)">% of immature B cells</text>
<text x="274.00" y="334.40" font-size="6.5" text-anchor="middle" fill="#222"><tspan font-style="italic">P</tspan> = .016</text>
<circle cx="273.00" cy="339.70" r="0.8" fill="#222"/>
<line x1="256.10" y1="343.90" x2="290.40" y2="343.90" stroke="#111" stroke-width="1.6"/>
<circle cx="263.00" cy="360.71" r="1.5" fill="none" stroke="#a8102f" stroke-width="1.0"/>
<circle cx="257.10" cy="364.55" r="1.5" fill="none" stroke="#a8102f" stroke-width="1.0"/>
<circle cx="258.80" cy="367.62" r="1.5" fill="none" stroke="#a8102f" stroke-width="1.0"/>
<circle cx="263.00" cy="370.69" r="1.5" fill="none" stroke="#a8102f" stroke-width="1.0"/>
<circle cx="260.80" cy="382.98" r="1.5" fill="none" stroke="#a8102f" stroke-width="1.0"/>
<circle cx="260.80" cy="389.12" r="1.5" fill="none" stroke="#a8102f" stroke-width="1.0"/>
<circle cx="260.80" cy="399.88" r="1.5" fill="none" stroke="#a8102f" stroke-width="1.0"/>
<circle cx="286.60" cy="386.82" r="1.5" fill="#2a4a7a"/>
<circle cx="290.40" cy="386.82" r="1.5" fill="#2a4a7a"/>
<circle cx="294.60" cy="386.82" r="1.5" fill="#2a4a7a"/>
<circle cx="289.90" cy="394.50" r="1.5" fill="#2a4a7a"/>
<circle cx="291.90" cy="405.25" r="1.5" fill="#2a4a7a"/>
<circle cx="293.40" cy="406.02" r="1.5" fill="#2a4a7a"/>
<circle cx="289.90" cy="411.40" r="1.5" fill="#2a4a7a"/>
<circle cx="287.40" cy="387.59" r="1.5" fill="#2a4a7a"/>
<line x1="251.00" y1="376.07" x2="270.60" y2="376.07" stroke="#5a0f20" stroke-width="1.1"/>
<line x1="256.00" y1="370.23" x2="265.60" y2="370.23" stroke="#5a0f20" stroke-width="1.1"/>
<line x1="256.00" y1="381.90" x2="265.60" y2="381.90" stroke="#5a0f20" stroke-width="1.1"/>
<line x1="260.80" y1="370.23" x2="260.80" y2="381.90" stroke="#5a0f20" stroke-width="0.9"/>
<line x1="280.60" y1="394.50" x2="300.20" y2="394.50" stroke="#1d3358" stroke-width="1.1"/>
<line x1="285.60" y1="382.98" x2="295.20" y2="382.98" stroke="#1d3358" stroke-width="1.1"/>
<line x1="285.60" y1="406.02" x2="295.20" y2="406.02" stroke="#1d3358" stroke-width="1.1"/>
<line x1="290.40" y1="382.98" x2="290.40" y2="406.02" stroke="#1d3358" stroke-width="0.9"/>
<line x1="345.20" y1="335.50" x2="345.20" y2="414.55" stroke="#111" stroke-width="1.5"/>
<line x1="344.45" y1="413.80" x2="404.70" y2="413.80" stroke="#111" stroke-width="1.5"/>
<line x1="341.40" y1="413.80" x2="345.20" y2="413.80" stroke="#111" stroke-width="1.2"/>
<text x="339.60" y="416.35" font-size="7.2" text-anchor="end" fill="#222" textLength="4.8" lengthAdjust="spacingAndGlyphs">0</text>
<line x1="341.40" y1="394.68" x2="345.20" y2="394.68" stroke="#111" stroke-width="1.2"/>
<text x="339.60" y="397.23" font-size="7.2" text-anchor="end" fill="#222" textLength="9.6" lengthAdjust="spacingAndGlyphs">20</text>
<line x1="341.40" y1="375.55" x2="345.20" y2="375.55" stroke="#111" stroke-width="1.2"/>
<text x="339.60" y="378.10" font-size="7.2" text-anchor="end" fill="#222" textLength="9.6" lengthAdjust="spacingAndGlyphs">40</text>
<line x1="341.40" y1="356.43" x2="345.20" y2="356.43" stroke="#111" stroke-width="1.2"/>
<text x="339.60" y="358.98" font-size="7.2" text-anchor="end" fill="#222" textLength="9.6" lengthAdjust="spacingAndGlyphs">60</text>
<line x1="341.40" y1="337.30" x2="345.20" y2="337.30" stroke="#111" stroke-width="1.2"/>
<text x="339.60" y="339.85" font-size="7.2" text-anchor="end" fill="#222" textLength="9.6" lengthAdjust="spacingAndGlyphs">80</text>
<line x1="360.30" y1="413.80" x2="360.30" y2="416.00" stroke="#111" stroke-width="1.0"/>
<line x1="389.90" y1="413.80" x2="389.90" y2="416.00" stroke="#111" stroke-width="1.0"/>
<text x="360.20" y="426.00" font-size="6.6" text-anchor="middle" fill="#333" textLength="21.2" lengthAdjust="spacingAndGlyphs">RG SKI</text>
<text x="390.20" y="426.00" font-size="6.6" text-anchor="middle" fill="#333" textLength="35.2" lengthAdjust="spacingAndGlyphs">RG SKI IL-6</text>
<text x="326.20" y="374.45" font-size="8.6" text-anchor="middle" fill="#222" textLength="89.89999999999998" lengthAdjust="spacingAndGlyphs" transform="rotate(-90 326.20 374.45)">% of transitional B cells</text>
<text x="374.40" y="334.40" font-size="6.5" text-anchor="middle" fill="#222"><tspan font-style="italic">P</tspan> = .018</text>
<circle cx="373.00" cy="340.00" r="0.8" fill="#222"/>
<line x1="356.10" y1="343.90" x2="390.50" y2="343.90" stroke="#111" stroke-width="1.6"/>
<circle cx="360.90" cy="356.43" r="1.5" fill="none" stroke="#a8102f" stroke-width="1.0"/>
<circle cx="358.10" cy="382.24" r="1.5" fill="none" stroke="#a8102f" stroke-width="1.0"/>
<circle cx="363.50" cy="382.24" r="1.5" fill="none" stroke="#a8102f" stroke-width="1.0"/>
<circle cx="356.50" cy="394.68" r="1.5" fill="none" stroke="#a8102f" stroke-width="1.0"/>
<circle cx="364.30" cy="394.68" r="1.5" fill="none" stroke="#a8102f" stroke-width="1.0"/>
<circle cx="360.90" cy="398.50" r="1.5" fill="none" stroke="#a8102f" stroke-width="1.0"/>
<circle cx="360.90" cy="408.06" r="1.5" fill="none" stroke="#a8102f" stroke-width="1.0"/>
<circle cx="389.40" cy="395.63" r="1.5" fill="#2a4a7a"/>
<circle cx="395.40" cy="398.02" r="1.5" fill="#2a4a7a"/>
<circle cx="386.40" cy="402.80" r="1.5" fill="#2a4a7a"/>
<circle cx="391.90" cy="402.32" r="1.5" fill="#2a4a7a"/>
<circle cx="395.40" cy="402.80" r="1.5" fill="#2a4a7a"/>
<circle cx="389.40" cy="407.11" r="1.5" fill="#2a4a7a"/>
<circle cx="387.40" cy="411.41" r="1.5" fill="#2a4a7a"/>
<circle cx="395.90" cy="411.41" r="1.5" fill="#2a4a7a"/>
<line x1="350.50" y1="388.46" x2="370.10" y2="388.46" stroke="#5a0f20" stroke-width="1.1"/>
<line x1="355.50" y1="382.24" x2="365.10" y2="382.24" stroke="#5a0f20" stroke-width="1.1"/>
<line x1="355.50" y1="394.68" x2="365.10" y2="394.68" stroke="#5a0f20" stroke-width="1.1"/>
<line x1="360.30" y1="382.24" x2="360.30" y2="394.68" stroke="#5a0f20" stroke-width="0.9"/>
<line x1="380.10" y1="404.72" x2="399.70" y2="404.72" stroke="#1d3358" stroke-width="1.1"/>
<line x1="385.10" y1="403.28" x2="394.70" y2="403.28" stroke="#1d3358" stroke-width="1.1"/>
<line x1="385.10" y1="406.15" x2="394.70" y2="406.15" stroke="#1d3358" stroke-width="1.1"/>
<line x1="389.90" y1="403.28" x2="389.90" y2="406.15" stroke="#1d3358" stroke-width="0.9"/>
<line x1="445.00" y1="333.50" x2="445.00" y2="412.35" stroke="#111" stroke-width="1.5"/>
<line x1="444.25" y1="411.60" x2="508.90" y2="411.60" stroke="#111" stroke-width="1.5"/>
<line x1="441.20" y1="411.60" x2="445.00" y2="411.60" stroke="#111" stroke-width="1.2"/>
<text x="439.40" y="414.15" font-size="7.2" text-anchor="end" fill="#222" textLength="4.8" lengthAdjust="spacingAndGlyphs">0</text>
<line x1="441.20" y1="392.53" x2="445.00" y2="392.53" stroke="#111" stroke-width="1.2"/>
<text x="439.40" y="395.08" font-size="7.2" text-anchor="end" fill="#222" textLength="4.8" lengthAdjust="spacingAndGlyphs">5</text>
<line x1="441.20" y1="373.45" x2="445.00" y2="373.45" stroke="#111" stroke-width="1.2"/>
<text x="439.40" y="376.00" font-size="7.2" text-anchor="end" fill="#222" textLength="9.6" lengthAdjust="spacingAndGlyphs">10</text>
<line x1="441.20" y1="354.38" x2="445.00" y2="354.38" stroke="#111" stroke-width="1.2"/>
<text x="439.40" y="356.93" font-size="7.2" text-anchor="end" fill="#222" textLength="9.6" lengthAdjust="spacingAndGlyphs">15</text>
<line x1="441.20" y1="335.30" x2="445.00" y2="335.30" stroke="#111" stroke-width="1.2"/>
<text x="439.40" y="337.85" font-size="7.2" text-anchor="end" fill="#222" textLength="9.6" lengthAdjust="spacingAndGlyphs">20</text>
<line x1="459.20" y1="411.60" x2="459.20" y2="413.80" stroke="#111" stroke-width="1.0"/>
<line x1="492.40" y1="411.60" x2="492.40" y2="413.80" stroke="#111" stroke-width="1.0"/>
<text x="460.50" y="424.20" font-size="6.6" text-anchor="middle" fill="#333" textLength="21.2" lengthAdjust="spacingAndGlyphs">RG SKI</text>
<text x="493.00" y="424.20" font-size="6.6" text-anchor="middle" fill="#333" textLength="35.2" lengthAdjust="spacingAndGlyphs">RG SKI IL-6</text>
<text x="423.60" y="372.50" font-size="8.6" text-anchor="middle" fill="#222" textLength="66.39999999999998" lengthAdjust="spacingAndGlyphs" transform="rotate(-90 423.60 372.50)">% of plasmablast</text>
<text x="472.30" y="335.10" font-size="6.5" text-anchor="middle" fill="#222"><tspan font-style="italic">P</tspan> = .035</text>
<circle cx="472.40" cy="340.40" r="0.8" fill="#222"/>
<line x1="455.40" y1="344.40" x2="489.50" y2="344.40" stroke="#111" stroke-width="1.6"/>
<circle cx="459.20" cy="398.25" r="1.5" fill="none" stroke="#a8102f" stroke-width="1.0"/>
<circle cx="459.20" cy="401.68" r="1.5" fill="none" stroke="#a8102f" stroke-width="1.0"/>
<circle cx="454.20" cy="407.79" r="1.5" fill="none" stroke="#a8102f" stroke-width="1.0"/>
<circle cx="457.20" cy="408.17" r="1.5" fill="none" stroke="#a8102f" stroke-width="1.0"/>
<circle cx="461.20" cy="408.55" r="1.5" fill="none" stroke="#a8102f" stroke-width="1.0"/>
<circle cx="464.20" cy="407.79" r="1.5" fill="none" stroke="#a8102f" stroke-width="1.0"/>
<circle cx="466.20" cy="407.02" r="1.5" fill="none" stroke="#a8102f" stroke-width="1.0"/>
<circle cx="455.70" cy="410.46" r="1.5" fill="none" stroke="#a8102f" stroke-width="1.0"/>
<circle cx="460.20" cy="410.84" r="1.5" fill="none" stroke="#a8102f" stroke-width="1.0"/>
<circle cx="463.20" cy="410.46" r="1.5" fill="none" stroke="#a8102f" stroke-width="1.0"/>
<circle cx="459.20" cy="405.50" r="1.5" fill="none" stroke="#a8102f" stroke-width="1.0"/>
<circle cx="492.40" cy="360.10" r="1.5" fill="#2a4a7a"/>
<circle cx="489.40" cy="387.95" r="1.5" fill="#2a4a7a"/>
<circle cx="495.90" cy="387.95" r="1.5" fill="#2a4a7a"/>
<circle cx="488.40" cy="402.06" r="1.5" fill="#2a4a7a"/>
<circle cx="492.90" cy="397.10" r="1.5" fill="#2a4a7a"/>
<circle cx="495.90" cy="395.58" r="1.5" fill="#2a4a7a"/>
<circle cx="491.40" cy="399.39" r="1.5" fill="#2a4a7a"/>
<circle cx="487.90" cy="405.50" r="1.5" fill="#2a4a7a"/>
<circle cx="496.40" cy="407.02" r="1.5" fill="#2a4a7a"/>
<line x1="449.40" y1="407.79" x2="469.00" y2="407.79" stroke="#5a0f20" stroke-width="1.1"/>
<line x1="454.40" y1="405.50" x2="464.00" y2="405.50" stroke="#5a0f20" stroke-width="1.1"/>
<line x1="454.40" y1="410.07" x2="464.00" y2="410.07" stroke="#5a0f20" stroke-width="1.1"/>
<line x1="459.20" y1="405.50" x2="459.20" y2="410.07" stroke="#5a0f20" stroke-width="0.9"/>
<line x1="482.60" y1="393.29" x2="502.20" y2="393.29" stroke="#1d3358" stroke-width="1.1"/>
<line x1="487.60" y1="387.95" x2="497.20" y2="387.95" stroke="#1d3358" stroke-width="1.1"/>
<line x1="487.60" y1="398.63" x2="497.20" y2="398.63" stroke="#1d3358" stroke-width="1.1"/>
<line x1="492.40" y1="387.95" x2="492.40" y2="398.63" stroke="#1d3358" stroke-width="0.9"/>
<text x="10.40" y="446.20" font-size="13.4" fill="#000" stroke="#000" stroke-width="0.7" textLength="8.38" lengthAdjust="spacingAndGlyphs" style="stroke-width:0.7px">D</text>
<text x="72.8" y="463.6" font-size="9.4" fill="#1a1a1a" textLength="162.6" lengthAdjust="spacingAndGlyphs">Gated on hCD45<tspan font-size="6" dy="-3.2">+</tspan><tspan dy="3.2">hCD19</tspan><tspan font-size="6" dy="-3.2">+</tspan><tspan dy="3.2">CD10</tspan><tspan font-size="6" dy="-3.2">-</tspan><tspan dy="3.2"> cells</tspan></text>
<text x="113.90" y="484.80" font-size="9.4" text-anchor="middle" fill="#1a1a1a" textLength="31.0" lengthAdjust="spacingAndGlyphs">RG SKI</text>
<text x="194.60" y="484.80" font-size="9.4" text-anchor="middle" fill="#1a1a1a" textLength="46.4" lengthAdjust="spacingAndGlyphs">RG SKI IL-6</text>
<path d="M98.4 523.7h0.8v0.8h-0.8zM105.9 512.5h0.8v0.8h-0.8zM104.8 524.8h0.8v0.8h-0.8zM98.5 521.8h0.8v0.8h-0.8zM105.0 521.7h0.8v0.8h-0.8zM105.9 514.3h0.8v0.8h-0.8zM98.4 522.1h0.8v0.8h-0.8zM105.7 513.8h0.8v0.8h-0.8zM99.8 511.4h0.8v0.8h-0.8zM101.9 511.9h0.8v0.8h-0.8zM97.3 514.4h0.8v0.8h-0.8zM105.0 509.8h0.8v0.8h-0.8zM105.6 519.6h0.8v0.8h-0.8zM100.7 525.5h0.8v0.8h-0.8zM101.6 520.7h0.8v0.8h-0.8zM97.5 519.5h0.8v0.8h-0.8zM104.6 524.4h0.8v0.8h-0.8zM95.8 526.6h0.8v0.8h-0.8zM106.2 526.0h0.8v0.8h-0.8zM99.6 509.5h0.8v0.8h-0.8zM100.0 523.4h0.8v0.8h-0.8zM98.2 519.4h0.8v0.8h-0.8zM106.8 521.0h0.8v0.8h-0.8zM101.6 513.8h0.8v0.8h-0.8zM98.6 520.4h0.8v0.8h-0.8zM99.5 511.3h0.8v0.8h-0.8zM104.4 520.2h0.8v0.8h-0.8zM103.3 514.3h0.8v0.8h-0.8zM101.6 522.5h0.8v0.8h-0.8zM99.9 512.7h0.8v0.8h-0.8zM96.1 522.5h0.8v0.8h-0.8zM101.6 521.0h0.8v0.8h-0.8zM101.3 516.0h0.8v0.8h-0.8zM107.0 518.6h0.8v0.8h-0.8zM100.0 512.6h0.8v0.8h-0.8zM104.7 514.1h0.8v0.8h-0.8zM102.2 510.1h0.8v0.8h-0.8zM104.6 512.2h0.8v0.8h-0.8zM102.8 521.8h0.8v0.8h-0.8zM97.2 522.8h0.8v0.8h-0.8zM99.9 519.9h0.8v0.8h-0.8zM100.7 522.7h0.8v0.8h-0.8zM102.3 519.2h0.8v0.8h-0.8zM98.2 511.3h0.8v0.8h-0.8zM106.2 514.6h0.8v0.8h-0.8zM106.5 510.7h0.8v0.8h-0.8zM101.7 526.9h0.8v0.8h-0.8zM106.6 526.0h0.8v0.8h-0.8zM100.6 513.6h0.8v0.8h-0.8zM103.7 519.3h0.8v0.8h-0.8zM104.0 513.2h0.8v0.8h-0.8zM95.4 523.2h0.8v0.8h-0.8zM102.3 509.5h0.8v0.8h-0.8zM96.2 524.4h0.8v0.8h-0.8zM102.3 521.7h0.8v0.8h-0.8zM98.5 511.9h0.8v0.8h-0.8zM105.5 522.1h0.8v0.8h-0.8zM100.0 521.5h0.8v0.8h-0.8zM97.0 514.3h0.8v0.8h-0.8zM97.0 522.3h0.8v0.8h-0.8z" fill="#b8b8b8" filter="url(#b3)"/>
<path d="M116.6 521.9h0.8v0.8h-0.8zM110.8 521.9h0.8v0.8h-0.8zM113.9 509.6h0.8v0.8h-0.8zM113.7 517.3h0.8v0.8h-0.8zM110.4 507.7h0.8v0.8h-0.8zM119.4 507.6h0.8v0.8h-0.8zM110.4 515.2h0.8v0.8h-0.8zM110.0 506.8h0.8v0.8h-0.8zM117.0 514.8h0.8v0.8h-0.8zM110.5 510.2h0.8v0.8h-0.8zM111.7 510.8h0.8v0.8h-0.8zM112.2 506.9h0.8v0.8h-0.8zM115.5 517.6h0.8v0.8h-0.8zM114.7 512.8h0.8v0.8h-0.8zM115.1 518.9h0.8v0.8h-0.8zM117.5 512.5h0.8v0.8h-0.8zM113.6 516.5h0.8v0.8h-0.8zM110.3 512.2h0.8v0.8h-0.8zM115.5 515.0h0.8v0.8h-0.8zM114.4 517.7h0.8v0.8h-0.8zM118.8 518.1h0.8v0.8h-0.8zM120.9 516.9h0.8v0.8h-0.8zM118.6 513.4h0.8v0.8h-0.8zM116.0 514.8h0.8v0.8h-0.8zM113.0 517.4h0.8v0.8h-0.8zM112.7 522.0h0.8v0.8h-0.8zM119.7 507.1h0.8v0.8h-0.8zM120.9 506.4h0.8v0.8h-0.8zM119.8 511.7h0.8v0.8h-0.8zM119.7 510.0h0.8v0.8h-0.8zM120.4 507.0h0.8v0.8h-0.8zM116.4 513.3h0.8v0.8h-0.8zM117.1 513.4h0.8v0.8h-0.8zM110.6 520.3h0.8v0.8h-0.8zM110.0 517.3h0.8v0.8h-0.8zM111.2 518.2h0.8v0.8h-0.8zM116.3 515.8h0.8v0.8h-0.8zM120.4 520.8h0.8v0.8h-0.8zM119.5 514.3h0.8v0.8h-0.8zM111.8 507.2h0.8v0.8h-0.8z" fill="#b8b8b8" filter="url(#b3)"/>
<path d="M114.9 527.8h0.9v0.9h-0.9zM103.1 534.2h0.9v0.9h-0.9zM115.8 528.6h0.9v0.9h-0.9zM111.8 529.1h0.9v0.9h-0.9zM112.0 530.4h0.9v0.9h-0.9zM103.6 534.1h0.9v0.9h-0.9zM100.3 534.0h0.9v0.9h-0.9zM113.5 529.3h0.9v0.9h-0.9zM109.2 530.2h0.9v0.9h-0.9zM114.7 528.8h0.9v0.9h-0.9zM119.1 526.4h0.9v0.9h-0.9zM112.7 529.6h0.9v0.9h-0.9zM101.1 532.5h0.9v0.9h-0.9zM104.6 533.0h0.9v0.9h-0.9zM115.5 529.1h0.9v0.9h-0.9zM116.6 527.1h0.9v0.9h-0.9zM116.2 529.3h0.9v0.9h-0.9zM110.8 531.7h0.9v0.9h-0.9zM102.7 533.1h0.9v0.9h-0.9zM103.2 534.6h0.9v0.9h-0.9zM108.9 531.4h0.9v0.9h-0.9zM105.3 532.7h0.9v0.9h-0.9zM117.2 527.2h0.9v0.9h-0.9zM96.5 536.1h0.9v0.9h-0.9zM111.9 529.6h0.9v0.9h-0.9zM106.6 533.1h0.9v0.9h-0.9zM106.6 531.3h0.9v0.9h-0.9zM104.2 532.1h0.9v0.9h-0.9zM117.9 528.6h0.9v0.9h-0.9zM103.2 531.8h0.9v0.9h-0.9zM117.8 526.5h0.9v0.9h-0.9zM108.5 530.1h0.9v0.9h-0.9zM111.7 529.3h0.9v0.9h-0.9zM111.9 529.9h0.9v0.9h-0.9zM108.0 531.8h0.9v0.9h-0.9zM109.7 530.4h0.9v0.9h-0.9zM107.7 532.0h0.9v0.9h-0.9zM102.9 534.7h0.9v0.9h-0.9zM108.5 531.6h0.9v0.9h-0.9zM107.9 531.9h0.9v0.9h-0.9zM111.6 530.1h0.9v0.9h-0.9zM101.3 534.4h0.9v0.9h-0.9zM114.3 529.2h0.9v0.9h-0.9zM110.0 530.8h0.9v0.9h-0.9zM104.3 533.0h0.9v0.9h-0.9zM104.7 532.2h0.9v0.9h-0.9zM100.0 536.6h0.9v0.9h-0.9zM109.0 530.7h0.9v0.9h-0.9zM110.2 531.5h0.9v0.9h-0.9zM99.9 534.6h0.9v0.9h-0.9zM108.1 532.0h0.9v0.9h-0.9zM113.3 527.2h0.9v0.9h-0.9zM111.2 530.0h0.9v0.9h-0.9zM96.2 535.0h0.9v0.9h-0.9zM110.6 531.8h0.9v0.9h-0.9zM111.1 530.2h0.9v0.9h-0.9zM107.4 531.8h0.9v0.9h-0.9zM104.0 532.5h0.9v0.9h-0.9zM113.2 527.7h0.9v0.9h-0.9zM106.0 530.0h0.9v0.9h-0.9zM104.3 532.4h0.9v0.9h-0.9zM107.1 532.5h0.9v0.9h-0.9zM98.9 534.0h0.9v0.9h-0.9zM124.8 525.5h0.9v0.9h-0.9zM105.0 532.0h0.9v0.9h-0.9zM104.0 533.0h0.9v0.9h-0.9zM111.0 528.0h0.9v0.9h-0.9zM97.3 535.5h0.9v0.9h-0.9zM112.0 529.7h0.9v0.9h-0.9zM107.2 530.6h0.9v0.9h-0.9z" fill="#333" filter="url(#b3)"/>
<path d="M98 534.6L116.8 525.2L119.3 527.3L104 537.6L98 538Z" fill="#1a1a1a" fill-opacity="0.92" filter="url(#b6)"/>
<ellipse cx="98.80" cy="536.30" rx="3.6" ry="1.9" fill="#000" fill-opacity="1" filter="url(#b4)" transform="rotate(0 98.80 536.30)"/>
<ellipse cx="103.50" cy="534.80" rx="3.5" ry="1.8" fill="#111" fill-opacity="0.9" filter="url(#b5)" transform="rotate(-25 103.50 534.80)"/>
<path d="M107.3 537.4h0.8v0.8h-0.8zM119.4 536.4h0.8v0.8h-0.8zM117.9 536.5h0.8v0.8h-0.8zM103.0 537.0h0.8v0.8h-0.8zM109.2 537.6h0.8v0.8h-0.8zM107.8 536.6h0.8v0.8h-0.8zM114.4 536.5h0.8v0.8h-0.8zM121.5 537.3h0.8v0.8h-0.8zM108.7 536.7h0.8v0.8h-0.8zM123.4 537.5h0.8v0.8h-0.8zM113.0 537.4h0.8v0.8h-0.8zM119.8 537.4h0.8v0.8h-0.8zM121.2 536.4h0.8v0.8h-0.8zM105.1 536.4h0.8v0.8h-0.8zM112.4 537.3h0.8v0.8h-0.8zM109.6 537.5h0.8v0.8h-0.8zM113.3 537.0h0.8v0.8h-0.8zM105.5 536.8h0.8v0.8h-0.8zM105.8 536.9h0.8v0.8h-0.8zM109.3 537.3h0.8v0.8h-0.8zM115.6 536.6h0.8v0.8h-0.8zM105.1 536.8h0.8v0.8h-0.8zM122.2 537.3h0.8v0.8h-0.8zM113.1 536.2h0.8v0.8h-0.8zM113.5 537.1h0.8v0.8h-0.8zM112.9 537.1h0.8v0.8h-0.8zM117.4 537.3h0.8v0.8h-0.8zM111.1 536.3h0.8v0.8h-0.8zM114.5 536.8h0.8v0.8h-0.8zM105.2 537.5h0.8v0.8h-0.8zM122.0 536.7h0.8v0.8h-0.8zM119.9 537.2h0.8v0.8h-0.8zM119.8 536.7h0.8v0.8h-0.8zM120.6 537.4h0.8v0.8h-0.8zM110.3 537.3h0.8v0.8h-0.8zM111.4 536.8h0.8v0.8h-0.8zM113.6 536.3h0.8v0.8h-0.8zM107.8 537.1h0.8v0.8h-0.8zM111.2 537.5h0.8v0.8h-0.8zM119.7 537.5h0.8v0.8h-0.8z" fill="#777" filter="url(#b3)"/>
<line x1="82.40" y1="489.50" x2="82.40" y2="551.20" stroke="#555" stroke-width="0.8"/>
<line x1="82.40" y1="551.20" x2="145.60" y2="551.20" stroke="#555" stroke-width="0.8"/>
<line x1="145.60" y1="490.00" x2="145.60" y2="551.20" stroke="#c8c8c8" stroke-width="0.6"/>
<line x1="80.80" y1="497.20" x2="82.40" y2="497.20" stroke="#333" stroke-width="0.8"/>
<text x="79.40" y="499.40" font-size="6.4" text-anchor="end" fill="#222">10<tspan font-size="4.48" dy="-2.69">5</tspan></text>
<line x1="80.80" y1="511.00" x2="82.40" y2="511.00" stroke="#333" stroke-width="0.8"/>
<text x="79.40" y="513.20" font-size="6.4" text-anchor="end" fill="#222">10<tspan font-size="4.48" dy="-2.69">4</tspan></text>
<line x1="80.80" y1="527.50" x2="82.40" y2="527.50" stroke="#333" stroke-width="0.8"/>
<text x="79.40" y="529.70" font-size="6.4" text-anchor="end" fill="#222">10<tspan font-size="4.48" dy="-2.69">3</tspan></text>
<line x1="80.80" y1="536.50" x2="82.40" y2="536.50" stroke="#333" stroke-width="0.8"/>
<text x="77.50" y="538.70" font-size="6.4" text-anchor="end" fill="#222">0</text>
<line x1="80.80" y1="548.90" x2="82.40" y2="548.90" stroke="#333" stroke-width="0.8"/>
<text x="79.40" y="551.10" font-size="6.4" text-anchor="end" fill="#222">-10<tspan font-size="4.48" dy="-2.69">3</tspan></text>
<line x1="81.40" y1="490.50" x2="82.40" y2="490.50" stroke="#777" stroke-width="0.5"/>
<line x1="81.40" y1="493.00" x2="82.40" y2="493.00" stroke="#777" stroke-width="0.5"/>
<line x1="81.40" y1="503.00" x2="82.40" y2="503.00" stroke="#777" stroke-width="0.5"/>
<line x1="81.40" y1="505.50" x2="82.40" y2="505.50" stroke="#777" stroke-width="0.5"/>
<line x1="81.40" y1="507.50" x2="82.40" y2="507.50" stroke="#777" stroke-width="0.5"/>
<line x1="81.40" y1="516.50" x2="82.40" y2="516.50" stroke="#777" stroke-width="0.5"/>
<line x1="81.40" y1="519.50" x2="82.40" y2="519.50" stroke="#777" stroke-width="0.5"/>
<line x1="81.40" y1="522.00" x2="82.40" y2="522.00" stroke="#777" stroke-width="0.5"/>
<line x1="81.40" y1="524.00" x2="82.40" y2="524.00" stroke="#777" stroke-width="0.5"/>
<line x1="81.40" y1="531.00" x2="82.40" y2="531.00" stroke="#777" stroke-width="0.5"/>
<line x1="81.40" y1="543.00" x2="82.40" y2="543.00" stroke="#777" stroke-width="0.5"/>
<line x1="96.90" y1="551.20" x2="96.90" y2="552.80" stroke="#333" stroke-width="0.8"/>
<text x="96.90" y="561.20" font-size="6.4" text-anchor="middle" fill="#222">0</text>
<line x1="122.90" y1="551.20" x2="122.90" y2="552.80" stroke="#333" stroke-width="0.8"/>
<text x="118.40" y="561.20" font-size="6.4" text-anchor="start" fill="#222">10<tspan font-size="4.48" dy="-2.69">4</tspan></text>
<line x1="136.30" y1="551.20" x2="136.30" y2="552.80" stroke="#333" stroke-width="0.8"/>
<text x="131.80" y="561.20" font-size="6.4" text-anchor="start" fill="#222">10<tspan font-size="4.48" dy="-2.69">5</tspan></text>
<line x1="85.40" y1="551.20" x2="85.40" y2="552.20" stroke="#777" stroke-width="0.5"/>
<line x1="92.70" y1="551.20" x2="92.70" y2="552.20" stroke="#777" stroke-width="0.5"/>
<line x1="100.00" y1="551.20" x2="100.00" y2="552.20" stroke="#777" stroke-width="0.5"/>
<line x1="107.30" y1="551.20" x2="107.30" y2="552.20" stroke="#777" stroke-width="0.5"/>
<line x1="114.60" y1="551.20" x2="114.60" y2="552.20" stroke="#777" stroke-width="0.5"/>
<line x1="121.90" y1="551.20" x2="121.90" y2="552.20" stroke="#777" stroke-width="0.5"/>
<line x1="129.20" y1="551.20" x2="129.20" y2="552.20" stroke="#777" stroke-width="0.5"/>
<line x1="136.50" y1="551.20" x2="136.50" y2="552.20" stroke="#777" stroke-width="0.5"/>
<rect x="81.20" y="535" width="1.5" height="3" fill="#111"/>
<rect x="94.90" y="550.90" width="3" height="1.6" fill="#111"/>
<path d="M94.0 514.6L96.0 507.9L107.5 506.5L108.5 508.8L107.5 526.2L95.0 531.5Z" fill="none" stroke="#555" stroke-width="0.9"/>
<path d="M108.5 507.9L121.5 502.1L122.9 504.0L122.3 521.3L109.4 527.1L108.5 526.2Z" fill="none" stroke="#555" stroke-width="0.9"/>
<text x="86.30" y="505.80" font-size="6.6" fill="#222" textLength="18.3" lengthAdjust="spacingAndGlyphs">1.48%</text>
<text x="124.80" y="505.80" font-size="6.6" fill="#222" textLength="18.3" lengthAdjust="spacingAndGlyphs">0.40%</text>
<path d="M183.5 522.9h0.8v0.8h-0.8zM188.0 518.4h0.8v0.8h-0.8zM179.7 514.0h0.8v0.8h-0.8zM181.6 512.1h0.8v0.8h-0.8zM181.9 526.8h0.8v0.8h-0.8zM182.7 510.7h0.8v0.8h-0.8zM178.9 528.2h0.8v0.8h-0.8zM186.3 510.6h0.8v0.8h-0.8zM186.5 516.1h0.8v0.8h-0.8zM182.0 523.8h0.8v0.8h-0.8zM180.1 517.4h0.8v0.8h-0.8zM183.0 511.8h0.8v0.8h-0.8zM180.5 512.1h0.8v0.8h-0.8zM186.1 514.6h0.8v0.8h-0.8zM181.4 510.1h0.8v0.8h-0.8zM186.9 528.6h0.8v0.8h-0.8zM183.7 521.4h0.8v0.8h-0.8zM180.2 526.5h0.8v0.8h-0.8zM185.9 518.5h0.8v0.8h-0.8zM185.0 511.6h0.8v0.8h-0.8zM181.8 516.9h0.8v0.8h-0.8zM177.4 528.1h0.8v0.8h-0.8zM178.0 518.2h0.8v0.8h-0.8zM188.2 515.3h0.8v0.8h-0.8zM186.5 511.4h0.8v0.8h-0.8zM186.3 522.7h0.8v0.8h-0.8zM181.2 517.5h0.8v0.8h-0.8zM182.8 520.0h0.8v0.8h-0.8zM183.6 523.9h0.8v0.8h-0.8zM183.3 523.9h0.8v0.8h-0.8zM180.3 524.2h0.8v0.8h-0.8zM180.6 526.4h0.8v0.8h-0.8zM184.0 515.2h0.8v0.8h-0.8zM185.1 521.0h0.8v0.8h-0.8zM181.6 523.4h0.8v0.8h-0.8zM182.0 520.6h0.8v0.8h-0.8zM182.6 523.3h0.8v0.8h-0.8zM182.5 526.4h0.8v0.8h-0.8zM187.9 516.9h0.8v0.8h-0.8zM178.7 512.4h0.8v0.8h-0.8zM188.4 517.0h0.8v0.8h-0.8zM185.3 519.1h0.8v0.8h-0.8zM181.6 519.1h0.8v0.8h-0.8zM187.3 520.6h0.8v0.8h-0.8zM178.2 510.3h0.8v0.8h-0.8zM181.2 523.2h0.8v0.8h-0.8zM178.9 528.3h0.8v0.8h-0.8zM184.3 524.4h0.8v0.8h-0.8zM188.4 512.3h0.8v0.8h-0.8zM185.6 512.3h0.8v0.8h-0.8zM178.5 525.2h0.8v0.8h-0.8zM178.2 514.6h0.8v0.8h-0.8zM181.2 526.2h0.8v0.8h-0.8zM185.6 517.6h0.8v0.8h-0.8zM187.2 516.4h0.8v0.8h-0.8zM177.6 522.8h0.8v0.8h-0.8zM185.4 522.2h0.8v0.8h-0.8zM183.7 513.3h0.8v0.8h-0.8zM186.5 518.4h0.8v0.8h-0.8zM184.6 518.3h0.8v0.8h-0.8zM180.6 513.7h0.8v0.8h-0.8zM186.7 519.9h0.8v0.8h-0.8zM185.6 521.0h0.8v0.8h-0.8zM180.6 512.0h0.8v0.8h-0.8zM187.2 528.0h0.8v0.8h-0.8zM181.6 525.8h0.8v0.8h-0.8zM182.8 524.5h0.8v0.8h-0.8zM186.6 517.3h0.8v0.8h-0.8zM183.4 516.5h0.8v0.8h-0.8zM184.9 528.3h0.8v0.8h-0.8z" fill="#b0b0b0" filter="url(#b3)"/>
<path d="M199.8 515.4h0.8v0.8h-0.8zM199.8 519.7h0.8v0.8h-0.8zM197.6 507.1h0.8v0.8h-0.8zM196.9 513.1h0.8v0.8h-0.8zM197.4 521.3h0.8v0.8h-0.8zM199.2 508.7h0.8v0.8h-0.8zM192.1 510.1h0.8v0.8h-0.8zM202.5 508.8h0.8v0.8h-0.8zM201.9 517.8h0.8v0.8h-0.8zM193.8 510.4h0.8v0.8h-0.8zM200.8 518.6h0.8v0.8h-0.8zM193.2 510.4h0.8v0.8h-0.8zM192.6 521.8h0.8v0.8h-0.8zM196.5 507.3h0.8v0.8h-0.8zM202.3 519.3h0.8v0.8h-0.8zM198.2 507.3h0.8v0.8h-0.8zM196.0 512.0h0.8v0.8h-0.8zM192.9 511.5h0.8v0.8h-0.8zM197.7 519.1h0.8v0.8h-0.8zM198.9 521.3h0.8v0.8h-0.8zM196.4 520.5h0.8v0.8h-0.8zM191.1 516.7h0.8v0.8h-0.8zM191.5 514.0h0.8v0.8h-0.8zM202.3 509.8h0.8v0.8h-0.8zM194.9 518.6h0.8v0.8h-0.8zM196.7 516.2h0.8v0.8h-0.8zM201.1 519.2h0.8v0.8h-0.8zM191.6 522.7h0.8v0.8h-0.8zM202.7 523.8h0.8v0.8h-0.8zM198.3 508.5h0.8v0.8h-0.8zM192.1 522.7h0.8v0.8h-0.8zM191.7 522.9h0.8v0.8h-0.8zM194.5 520.5h0.8v0.8h-0.8zM198.7 507.4h0.8v0.8h-0.8zM195.3 520.1h0.8v0.8h-0.8zM200.9 508.4h0.8v0.8h-0.8zM194.1 514.1h0.8v0.8h-0.8zM197.1 520.6h0.8v0.8h-0.8zM198.8 518.8h0.8v0.8h-0.8zM195.7 521.0h0.8v0.8h-0.8zM200.4 522.9h0.8v0.8h-0.8zM202.9 518.1h0.8v0.8h-0.8zM194.6 522.3h0.8v0.8h-0.8zM199.7 516.2h0.8v0.8h-0.8zM193.7 517.1h0.8v0.8h-0.8zM196.5 522.2h0.8v0.8h-0.8zM200.2 521.9h0.8v0.8h-0.8zM196.8 519.7h0.8v0.8h-0.8zM200.4 510.8h0.8v0.8h-0.8zM199.7 523.0h0.8v0.8h-0.8z" fill="#b0b0b0" filter="url(#b3)"/>
<path d="M196.4 532.1h0.8v0.8h-0.8zM200.3 527.4h0.8v0.8h-0.8zM195.4 531.7h0.8v0.8h-0.8zM192.9 531.6h0.8v0.8h-0.8zM191.9 532.3h0.8v0.8h-0.8zM193.6 532.5h0.8v0.8h-0.8zM196.6 534.2h0.8v0.8h-0.8zM192.2 533.6h0.8v0.8h-0.8zM200.8 529.5h0.8v0.8h-0.8zM192.1 533.2h0.8v0.8h-0.8zM200.4 528.2h0.8v0.8h-0.8zM196.5 534.0h0.8v0.8h-0.8zM194.4 530.8h0.8v0.8h-0.8zM190.6 533.6h0.8v0.8h-0.8zM198.6 531.3h0.8v0.8h-0.8zM199.0 528.4h0.8v0.8h-0.8zM197.7 531.7h0.8v0.8h-0.8zM197.2 532.5h0.8v0.8h-0.8zM197.0 532.9h0.8v0.8h-0.8zM197.1 531.0h0.8v0.8h-0.8zM195.0 531.4h0.8v0.8h-0.8zM199.2 530.3h0.8v0.8h-0.8zM201.3 528.1h0.8v0.8h-0.8zM200.8 530.1h0.8v0.8h-0.8zM189.8 535.7h0.8v0.8h-0.8zM193.7 531.1h0.8v0.8h-0.8zM195.3 533.4h0.8v0.8h-0.8zM199.2 530.7h0.8v0.8h-0.8zM189.9 533.1h0.8v0.8h-0.8zM191.9 529.1h0.8v0.8h-0.8zM198.2 531.9h0.8v0.8h-0.8zM190.7 534.2h0.8v0.8h-0.8zM201.5 528.0h0.8v0.8h-0.8zM200.4 528.6h0.8v0.8h-0.8zM192.3 530.4h0.8v0.8h-0.8zM195.9 531.8h0.8v0.8h-0.8zM195.5 531.4h0.8v0.8h-0.8zM194.7 531.6h0.8v0.8h-0.8zM193.7 535.9h0.8v0.8h-0.8zM202.9 526.6h0.8v0.8h-0.8zM198.7 530.9h0.8v0.8h-0.8zM191.1 531.3h0.8v0.8h-0.8zM192.1 532.3h0.8v0.8h-0.8zM203.2 529.5h0.8v0.8h-0.8zM193.1 532.5h0.8v0.8h-0.8zM192.2 533.1h0.8v0.8h-0.8zM191.6 533.3h0.8v0.8h-0.8zM203.4 527.5h0.8v0.8h-0.8zM191.8 533.8h0.8v0.8h-0.8zM197.2 531.1h0.8v0.8h-0.8z" fill="#888" filter="url(#b3)"/>
<path d="M176.5 536.3C176.5 534.6 178 534.3 181 534.3L196 534.7L207 535.7L207 536.8L196 537.9L181 538.2C178 538.3 176.5 538.0 176.5 536.3Z" fill="#000" filter="url(#b4)"/>
<path d="M209.2 536.6h0.8v0.8h-0.8zM207.8 535.9h0.8v0.8h-0.8zM196.1 538.0h0.8v0.8h-0.8zM199.4 535.3h0.8v0.8h-0.8zM196.3 536.6h0.8v0.8h-0.8zM200.2 534.5h0.8v0.8h-0.8zM199.2 536.5h0.8v0.8h-0.8zM195.7 537.2h0.8v0.8h-0.8zM199.4 534.5h0.8v0.8h-0.8zM200.9 535.2h0.8v0.8h-0.8zM197.3 538.1h0.8v0.8h-0.8zM195.4 537.7h0.8v0.8h-0.8zM198.7 536.7h0.8v0.8h-0.8zM201.0 536.1h0.8v0.8h-0.8zM201.3 534.5h0.8v0.8h-0.8zM209.0 534.8h0.8v0.8h-0.8zM205.0 538.4h0.8v0.8h-0.8zM203.5 536.3h0.8v0.8h-0.8zM199.1 534.3h0.8v0.8h-0.8zM195.4 538.3h0.8v0.8h-0.8zM199.2 537.4h0.8v0.8h-0.8zM199.2 535.5h0.8v0.8h-0.8zM201.1 534.3h0.8v0.8h-0.8zM209.3 534.6h0.8v0.8h-0.8zM208.1 536.9h0.8v0.8h-0.8zM201.3 535.8h0.8v0.8h-0.8zM199.3 535.8h0.8v0.8h-0.8zM208.3 535.6h0.8v0.8h-0.8zM200.0 535.7h0.8v0.8h-0.8zM208.4 535.6h0.8v0.8h-0.8zM195.5 538.3h0.8v0.8h-0.8zM203.1 537.6h0.8v0.8h-0.8zM202.3 536.9h0.8v0.8h-0.8zM197.2 536.6h0.8v0.8h-0.8zM195.6 537.5h0.8v0.8h-0.8zM199.9 535.5h0.8v0.8h-0.8zM196.3 536.7h0.8v0.8h-0.8zM196.9 535.6h0.8v0.8h-0.8zM209.3 537.2h0.8v0.8h-0.8zM203.8 536.9h0.8v0.8h-0.8z" fill="#333" filter="url(#b3)"/>
<line x1="164.00" y1="489.50" x2="164.00" y2="551.50" stroke="#555" stroke-width="0.8"/>
<line x1="164.00" y1="551.50" x2="224.80" y2="551.50" stroke="#555" stroke-width="0.8"/>
<line x1="224.80" y1="490.00" x2="224.80" y2="551.50" stroke="#c8c8c8" stroke-width="0.6"/>
<line x1="162.40" y1="497.20" x2="164.00" y2="497.20" stroke="#333" stroke-width="0.8"/>
<text x="161.00" y="499.40" font-size="6.4" text-anchor="end" fill="#222">10<tspan font-size="4.48" dy="-2.69">5</tspan></text>
<line x1="162.40" y1="511.00" x2="164.00" y2="511.00" stroke="#333" stroke-width="0.8"/>
<text x="161.00" y="513.20" font-size="6.4" text-anchor="end" fill="#222">10<tspan font-size="4.48" dy="-2.69">4</tspan></text>
<line x1="162.40" y1="527.50" x2="164.00" y2="527.50" stroke="#333" stroke-width="0.8"/>
<text x="161.00" y="529.70" font-size="6.4" text-anchor="end" fill="#222">10<tspan font-size="4.48" dy="-2.69">3</tspan></text>
<line x1="162.40" y1="536.50" x2="164.00" y2="536.50" stroke="#333" stroke-width="0.8"/>
<text x="159.10" y="538.70" font-size="6.4" text-anchor="end" fill="#222">0</text>
<line x1="162.40" y1="548.90" x2="164.00" y2="548.90" stroke="#333" stroke-width="0.8"/>
<text x="161.00" y="551.10" font-size="6.4" text-anchor="end" fill="#222">-10<tspan font-size="4.48" dy="-2.69">3</tspan></text>
<line x1="163.00" y1="490.50" x2="164.00" y2="490.50" stroke="#777" stroke-width="0.5"/>
<line x1="163.00" y1="493.00" x2="164.00" y2="493.00" stroke="#777" stroke-width="0.5"/>
<line x1="163.00" y1="503.00" x2="164.00" y2="503.00" stroke="#777" stroke-width="0.5"/>
<line x1="163.00" y1="505.50" x2="164.00" y2="505.50" stroke="#777" stroke-width="0.5"/>
<line x1="163.00" y1="507.50" x2="164.00" y2="507.50" stroke="#777" stroke-width="0.5"/>
<line x1="163.00" y1="516.50" x2="164.00" y2="516.50" stroke="#777" stroke-width="0.5"/>
<line x1="163.00" y1="519.50" x2="164.00" y2="519.50" stroke="#777" stroke-width="0.5"/>
<line x1="163.00" y1="522.00" x2="164.00" y2="522.00" stroke="#777" stroke-width="0.5"/>
<line x1="163.00" y1="524.00" x2="164.00" y2="524.00" stroke="#777" stroke-width="0.5"/>
<line x1="163.00" y1="531.00" x2="164.00" y2="531.00" stroke="#777" stroke-width="0.5"/>
<line x1="163.00" y1="543.00" x2="164.00" y2="543.00" stroke="#777" stroke-width="0.5"/>
<line x1="177.50" y1="551.50" x2="177.50" y2="553.10" stroke="#333" stroke-width="0.8"/>
<text x="177.50" y="561.50" font-size="6.4" text-anchor="middle" fill="#222">0</text>
<line x1="204.40" y1="551.50" x2="204.40" y2="553.10" stroke="#333" stroke-width="0.8"/>
<text x="199.90" y="561.50" font-size="6.4" text-anchor="start" fill="#222">10<tspan font-size="4.48" dy="-2.69">4</tspan></text>
<line x1="217.90" y1="551.50" x2="217.90" y2="553.10" stroke="#333" stroke-width="0.8"/>
<text x="213.40" y="561.50" font-size="6.4" text-anchor="start" fill="#222">10<tspan font-size="4.48" dy="-2.69">5</tspan></text>
<line x1="167.00" y1="551.50" x2="167.00" y2="552.50" stroke="#777" stroke-width="0.5"/>
<line x1="174.30" y1="551.50" x2="174.30" y2="552.50" stroke="#777" stroke-width="0.5"/>
<line x1="181.60" y1="551.50" x2="181.60" y2="552.50" stroke="#777" stroke-width="0.5"/>
<line x1="188.90" y1="551.50" x2="188.90" y2="552.50" stroke="#777" stroke-width="0.5"/>
<line x1="196.20" y1="551.50" x2="196.20" y2="552.50" stroke="#777" stroke-width="0.5"/>
<line x1="203.50" y1="551.50" x2="203.50" y2="552.50" stroke="#777" stroke-width="0.5"/>
<line x1="210.80" y1="551.50" x2="210.80" y2="552.50" stroke="#777" stroke-width="0.5"/>
<line x1="218.10" y1="551.50" x2="218.10" y2="552.50" stroke="#777" stroke-width="0.5"/>
<rect x="162.80" y="535" width="1.5" height="3" fill="#111"/>
<rect x="176.50" y="551.20" width="3" height="1.6" fill="#111"/>
<path d="M175.6 513.7L177.5 507.9L189.0 506.9L190.4 508.8L189.6 528.1L176.5 531.5L175.6 529.0Z" fill="none" stroke="#555" stroke-width="0.9"/>
<path d="M190.0 507.9L202.5 502.1L204.4 503.5L203.8 523.8L190.4 528.1Z" fill="none" stroke="#555" stroke-width="0.9"/>
<text x="166.00" y="505.80" font-size="6.6" fill="#222" textLength="18.6" lengthAdjust="spacingAndGlyphs">3.01%</text>
<text x="205.40" y="505.80" font-size="6.6" fill="#222" textLength="17.7" lengthAdjust="spacingAndGlyphs">1.33%</text>
<text x="62.30" y="520.00" font-size="9.4" text-anchor="middle" fill="#1a1a1a" textLength="17.9" lengthAdjust="spacingAndGlyphs" transform="rotate(-90 62.30 520.00)">hIgG</text>
<text x="148.30" y="575.40" font-size="9.4" text-anchor="middle" fill="#1a1a1a" textLength="24.1" lengthAdjust="spacingAndGlyphs">hCD27</text>
<line x1="68.60" y1="587.50" x2="68.60" y2="685.75" stroke="#111" stroke-width="1.5"/>
<line x1="67.85" y1="685.00" x2="253.30" y2="685.00" stroke="#111" stroke-width="1.5"/>
<line x1="65.40" y1="685.00" x2="68.60" y2="685.00" stroke="#111" stroke-width="1.2"/>
<text x="62.40" y="687.50" font-size="7.0" text-anchor="end" fill="#222" textLength="4.1" lengthAdjust="spacingAndGlyphs">0</text>
<line x1="65.40" y1="653.75" x2="68.60" y2="653.75" stroke="#111" stroke-width="1.2"/>
<text x="62.40" y="656.25" font-size="7.0" text-anchor="end" fill="#222" textLength="4.1" lengthAdjust="spacingAndGlyphs">5</text>
<line x1="65.40" y1="622.50" x2="68.60" y2="622.50" stroke="#111" stroke-width="1.2"/>
<text x="62.40" y="625.00" font-size="7.0" text-anchor="end" fill="#222" textLength="8.2" lengthAdjust="spacingAndGlyphs">10</text>
<line x1="65.40" y1="591.25" x2="68.60" y2="591.25" stroke="#111" stroke-width="1.2"/>
<text x="62.40" y="593.75" font-size="7.0" text-anchor="end" fill="#222" textLength="8.2" lengthAdjust="spacingAndGlyphs">15</text>
<line x1="92.20" y1="685.00" x2="92.20" y2="687.20" stroke="#111" stroke-width="1.0"/>
<line x1="137.20" y1="685.00" x2="137.20" y2="687.20" stroke="#111" stroke-width="1.0"/>
<line x1="181.30" y1="685.00" x2="181.30" y2="687.20" stroke="#111" stroke-width="1.0"/>
<line x1="226.00" y1="685.00" x2="226.00" y2="687.20" stroke="#111" stroke-width="1.0"/>
<text x="88.00" y="696.70" font-size="6.4" text-anchor="middle" fill="#333" textLength="22.2" lengthAdjust="spacingAndGlyphs">RG SKI</text>
<text x="137.20" y="696.70" font-size="6.4" text-anchor="middle" fill="#333" textLength="35.1" lengthAdjust="spacingAndGlyphs">RG SKI IL-6</text>
<text x="182.00" y="696.70" font-size="6.4" text-anchor="middle" fill="#333" textLength="21.5" lengthAdjust="spacingAndGlyphs">RG SKI</text>
<text x="226.40" y="696.70" font-size="6.4" text-anchor="middle" fill="#333" textLength="35.0" lengthAdjust="spacingAndGlyphs">RG SKI IL-6</text>
<line x1="76.90" y1="701.60" x2="152.70" y2="701.60" stroke="#111" stroke-width="1.4"/>
<line x1="169.30" y1="701.60" x2="244.40" y2="701.60" stroke="#111" stroke-width="1.4"/>
<text x="115.3" y="716.6" font-size="9.2" text-anchor="middle" fill="#1a1a1a" textLength="40.8" lengthAdjust="spacingAndGlyphs">CD27<tspan font-size="5.8" dy="-3.2">-</tspan><tspan dy="3.2">IgG</tspan><tspan font-size="5.8" dy="-3.2">+</tspan></text>
<text x="206.9" y="716.6" font-size="9.2" text-anchor="middle" fill="#1a1a1a" textLength="41.7" lengthAdjust="spacingAndGlyphs">CD27<tspan font-size="5.8" dy="-3.2">+</tspan><tspan dy="3.2">IgG</tspan><tspan font-size="5.8" dy="-3.2">+</tspan></text>
<text x="35.6" y="636.3" font-size="8.4" text-anchor="middle" fill="#222" transform="rotate(-90 35.6 636.3)" textLength="97.5" lengthAdjust="spacingAndGlyphs">% of CD19<tspan font-size="5.4" dy="-3">+</tspan><tspan dy="3">CD10</tspan><tspan font-size="5.4" dy="-3">-</tspan><tspan dy="3"> B cells</tspan></text>
<circle cx="84.20" cy="677.50" r="1.6" fill="#2a4a7a"/>
<circle cx="87.70" cy="677.81" r="1.6" fill="#2a4a7a"/>
<circle cx="91.20" cy="678.12" r="1.6" fill="#2a4a7a"/>
<circle cx="89.20" cy="680.00" r="1.6" fill="#2a4a7a"/>
<circle cx="93.70" cy="679.38" r="1.6" fill="#2a4a7a"/>
<circle cx="96.20" cy="676.88" r="1.6" fill="#2a4a7a"/>
<circle cx="99.70" cy="676.25" r="1.6" fill="#2a4a7a"/>
<circle cx="92.20" cy="677.50" r="1.6" fill="#2a4a7a"/>
<line x1="78.00" y1="677.50" x2="106.50" y2="677.50" stroke="#1d3358" stroke-width="1.3"/>
<circle cx="136.70" cy="623.75" r="1.6" fill="none" stroke="#2a4a7a" stroke-width="1.0"/>
<circle cx="136.70" cy="630.62" r="1.6" fill="none" stroke="#2a4a7a" stroke-width="1.0"/>
<circle cx="136.70" cy="666.25" r="1.6" fill="none" stroke="#2a4a7a" stroke-width="1.0"/>
<circle cx="133.70" cy="682.50" r="1.6" fill="none" stroke="#2a4a7a" stroke-width="1.0"/>
<circle cx="139.70" cy="681.25" r="1.6" fill="none" stroke="#2a4a7a" stroke-width="1.0"/>
<line x1="122.70" y1="657.10" x2="151.80" y2="657.10" stroke="#2a4a7a" stroke-width="1.2"/>
<line x1="129.40" y1="644.20" x2="144.80" y2="644.20" stroke="#2a4a7a" stroke-width="1.2"/>
<line x1="129.40" y1="669.20" x2="144.80" y2="669.20" stroke="#2a4a7a" stroke-width="1.2"/>
<line x1="136.70" y1="644.20" x2="136.70" y2="669.20" stroke="#2a4a7a" stroke-width="0.9"/>
<circle cx="173.30" cy="681.56" r="1.6" fill="#a8102f"/>
<circle cx="178.30" cy="682.50" r="1.6" fill="#a8102f"/>
<circle cx="182.80" cy="682.19" r="1.6" fill="#a8102f"/>
<circle cx="187.80" cy="681.25" r="1.6" fill="#a8102f"/>
<circle cx="176.30" cy="681.88" r="1.6" fill="#a8102f"/>
<line x1="167.10" y1="681.90" x2="195.40" y2="681.90" stroke="#8a1028" stroke-width="1.2"/>
<circle cx="222.50" cy="674.38" r="1.6" fill="none" stroke="#a8102f" stroke-width="1.0"/>
<circle cx="228.50" cy="675.62" r="1.6" fill="none" stroke="#a8102f" stroke-width="1.0"/>
<circle cx="220.50" cy="678.75" r="1.6" fill="none" stroke="#a8102f" stroke-width="1.0"/>
<circle cx="226.00" cy="679.38" r="1.6" fill="none" stroke="#a8102f" stroke-width="1.0"/>
<circle cx="231.00" cy="678.12" r="1.6" fill="none" stroke="#a8102f" stroke-width="1.0"/>
<circle cx="224.50" cy="683.12" r="1.6" fill="none" stroke="#a8102f" stroke-width="1.0"/>
<circle cx="229.50" cy="683.12" r="1.6" fill="none" stroke="#a8102f" stroke-width="1.0"/>
<line x1="211.50" y1="679.50" x2="240.60" y2="679.50" stroke="#8a1028" stroke-width="1.2"/>
<text x="266.20" y="446.60" font-size="13.4" fill="#000" stroke="#000" stroke-width="0.7" textLength="7.28" lengthAdjust="spacingAndGlyphs" style="stroke-width:0.7px">E</text>
<line x1="316.1" y1="539.4" x2="499.7" y2="539.4" stroke="#c0306a" stroke-width="0"/>
<line x1="316.10" y1="465.50" x2="316.10" y2="540.15" stroke="#111" stroke-width="1.5"/>
<line x1="315.35" y1="539.40" x2="499.70" y2="539.40" stroke="#111" stroke-width="1.5"/>
<line x1="313.50" y1="539.40" x2="316.10" y2="539.40" stroke="#111" stroke-width="1.2"/>
<text x="310.90" y="541.95" font-size="7.4" text-anchor="end" fill="#222" textLength="11.2" lengthAdjust="spacingAndGlyphs">0.0</text>
<line x1="313.50" y1="525.18" x2="316.10" y2="525.18" stroke="#111" stroke-width="1.2"/>
<text x="310.90" y="527.73" font-size="7.4" text-anchor="end" fill="#222" textLength="11.2" lengthAdjust="spacingAndGlyphs">0.1</text>
<line x1="313.50" y1="510.96" x2="316.10" y2="510.96" stroke="#111" stroke-width="1.2"/>
<text x="310.90" y="513.51" font-size="7.4" text-anchor="end" fill="#222" textLength="11.2" lengthAdjust="spacingAndGlyphs">0.2</text>
<line x1="313.50" y1="496.74" x2="316.10" y2="496.74" stroke="#111" stroke-width="1.2"/>
<text x="310.90" y="499.29" font-size="7.4" text-anchor="end" fill="#222" textLength="11.2" lengthAdjust="spacingAndGlyphs">0.3</text>
<line x1="313.50" y1="482.52" x2="316.10" y2="482.52" stroke="#111" stroke-width="1.2"/>
<text x="310.90" y="485.07" font-size="7.4" text-anchor="end" fill="#222" textLength="11.2" lengthAdjust="spacingAndGlyphs">0.4</text>
<line x1="313.50" y1="468.30" x2="316.10" y2="468.30" stroke="#111" stroke-width="1.2"/>
<text x="310.90" y="470.85" font-size="7.4" text-anchor="end" fill="#222" textLength="11.2" lengthAdjust="spacingAndGlyphs">0.5</text>
<line x1="316.90000000000003" y1="510.96" x2="499" y2="510.96" stroke="#a8286e" stroke-width="1.0" stroke-dasharray="1.1 0.9"/>
<text x="281.90" y="502.50" font-size="8.6" text-anchor="middle" fill="#222" textLength="43.3" lengthAdjust="spacingAndGlyphs" transform="rotate(-90 281.90 502.50)">Normalized</text>
<text x="293.40" y="503.00" font-size="8.6" text-anchor="middle" fill="#222" textLength="63.4" lengthAdjust="spacingAndGlyphs" transform="rotate(-90 293.40 503.00)">absorbance ratio</text>
<line x1="328.00" y1="539.40" x2="328.00" y2="541.60" stroke="#111" stroke-width="1.0"/>
<text x="329.70" y="548.70" font-size="7.6" text-anchor="end" fill="#222" transform="rotate(-45 329.70 548.70)" textLength="27.0" lengthAdjust="spacingAndGlyphs">CFA / IFA</text>
<line x1="350.70" y1="539.40" x2="350.70" y2="541.60" stroke="#111" stroke-width="1.0"/>
<text x="352.40" y="548.70" font-size="7.6" text-anchor="end" fill="#222" transform="rotate(-45 352.40 548.70)" textLength="14.2" lengthAdjust="spacingAndGlyphs">OVA</text>
<line x1="373.50" y1="539.40" x2="373.50" y2="541.60" stroke="#111" stroke-width="1.0"/>
<text x="375.20" y="548.70" font-size="7.6" text-anchor="end" fill="#222" transform="rotate(-45 375.20 548.70)" textLength="27.0" lengthAdjust="spacingAndGlyphs">CFA / IFA</text>
<line x1="396.30" y1="539.40" x2="396.30" y2="541.60" stroke="#111" stroke-width="1.0"/>
<text x="398.00" y="548.70" font-size="7.6" text-anchor="end" fill="#222" transform="rotate(-45 398.00 548.70)" textLength="14.2" lengthAdjust="spacingAndGlyphs">OVA</text>
<line x1="419.40" y1="539.40" x2="419.40" y2="541.60" stroke="#111" stroke-width="1.0"/>
<text x="421.10" y="548.70" font-size="7.6" text-anchor="end" fill="#222" transform="rotate(-45 421.10 548.70)" textLength="27.0" lengthAdjust="spacingAndGlyphs">CFA / IFA</text>
<line x1="442.20" y1="539.40" x2="442.20" y2="541.60" stroke="#111" stroke-width="1.0"/>
<text x="443.90" y="548.70" font-size="7.6" text-anchor="end" fill="#222" transform="rotate(-45 443.90 548.70)" textLength="14.2" lengthAdjust="spacingAndGlyphs">OVA</text>
<line x1="465.20" y1="539.40" x2="465.20" y2="541.60" stroke="#111" stroke-width="1.0"/>
<text x="466.90" y="548.70" font-size="7.6" text-anchor="end" fill="#222" transform="rotate(-45 466.90 548.70)" textLength="27.0" lengthAdjust="spacingAndGlyphs">CFA / IFA</text>
<line x1="487.80" y1="539.40" x2="487.80" y2="541.60" stroke="#111" stroke-width="1.0"/>
<text x="489.50" y="548.70" font-size="7.6" text-anchor="end" fill="#222" transform="rotate(-45 489.50 548.70)" textLength="14.2" lengthAdjust="spacingAndGlyphs">OVA</text>
<text x="335.70" y="578.60" font-size="6.6" text-anchor="middle" fill="#333" textLength="22.6" lengthAdjust="spacingAndGlyphs">RG SKI</text>
<text x="378.50" y="578.60" font-size="6.6" text-anchor="middle" fill="#333" textLength="35.5" lengthAdjust="spacingAndGlyphs">RG SKI IL-6</text>
<text x="425.90" y="578.60" font-size="6.6" text-anchor="middle" fill="#333" textLength="21.9" lengthAdjust="spacingAndGlyphs">RG SKI</text>
<text x="468.80" y="578.60" font-size="6.6" text-anchor="middle" fill="#333" textLength="35.3" lengthAdjust="spacingAndGlyphs">RG SKI IL-6</text>
<line x1="318.00" y1="582.70" x2="402.00" y2="582.70" stroke="#111" stroke-width="1.4"/>
<line x1="408.00" y1="582.70" x2="492.30" y2="582.70" stroke="#111" stroke-width="1.4"/>
<text x="359.50" y="594.70" font-size="10.0" text-anchor="middle" fill="#1a1a1a" textLength="78.7" lengthAdjust="spacingAndGlyphs">Before immunization</text>
<text x="450.10" y="594.70" font-size="10.0" text-anchor="middle" fill="#1a1a1a" textLength="72.7" lengthAdjust="spacingAndGlyphs">After immunization</text>
<path d="M442.2 470.2V466.1H488.4V470.2" fill="none" stroke="#111" stroke-width="1.3"/>
<text x="465.0" y="457.4" font-size="6.5" text-anchor="middle" fill="#222"><tspan font-style="italic">P</tspan> = .04</text>
<circle cx="465.30" cy="462.60" r="0.8" fill="#222"/>
<circle cx="329.00" cy="513.09" r="1.4" fill="#6db543"/>
<circle cx="324.00" cy="515.94" r="1.4" fill="#6db543"/>
<circle cx="329.00" cy="516.65" r="1.4" fill="#6db543"/>
<circle cx="332.50" cy="517.36" r="1.4" fill="#6db543"/>
<circle cx="325.00" cy="519.49" r="1.4" fill="#6db543"/>
<circle cx="328.00" cy="520.91" r="1.4" fill="#6db543"/>
<circle cx="327.00" cy="527.31" r="1.4" fill="#6db543"/>
<circle cx="331.00" cy="522.34" r="1.4" fill="#6db543"/>
<line x1="320.50" y1="519.21" x2="335.50" y2="519.21" stroke="#4f9a2a" stroke-width="1.1"/>
<line x1="324.00" y1="516.65" x2="332.00" y2="516.65" stroke="#4f9a2a" stroke-width="1.0"/>
<line x1="324.00" y1="521.77" x2="332.00" y2="521.77" stroke="#4f9a2a" stroke-width="1.0"/>
<line x1="328.00" y1="516.65" x2="328.00" y2="521.77" stroke="#4f9a2a" stroke-width="0.8"/>
<circle cx="351.20" cy="512.38" r="1.4" fill="#6db543"/>
<circle cx="346.70" cy="515.94" r="1.4" fill="#6db543"/>
<circle cx="355.20" cy="515.23" r="1.4" fill="#6db543"/>
<circle cx="348.70" cy="518.07" r="1.4" fill="#6db543"/>
<circle cx="352.70" cy="517.36" r="1.4" fill="#6db543"/>
<circle cx="351.20" cy="526.60" r="1.4" fill="#6db543"/>
<line x1="343.20" y1="517.07" x2="358.20" y2="517.07" stroke="#4f9a2a" stroke-width="1.1"/>
<line x1="346.70" y1="515.08" x2="354.70" y2="515.08" stroke="#4f9a2a" stroke-width="1.0"/>
<line x1="346.70" y1="519.07" x2="354.70" y2="519.07" stroke="#4f9a2a" stroke-width="1.0"/>
<line x1="350.70" y1="515.08" x2="350.70" y2="519.07" stroke="#4f9a2a" stroke-width="0.8"/>
<circle cx="371.00" cy="518.35" r="1.4" fill="#2a4a7a"/>
<circle cx="376.00" cy="519.49" r="1.4" fill="#2a4a7a"/>
<circle cx="368.50" cy="523.05" r="1.4" fill="#2a4a7a"/>
<circle cx="373.50" cy="523.05" r="1.4" fill="#2a4a7a"/>
<circle cx="378.50" cy="523.76" r="1.4" fill="#2a4a7a"/>
<circle cx="370.50" cy="526.89" r="1.4" fill="#2a4a7a"/>
<circle cx="373.50" cy="527.31" r="1.4" fill="#2a4a7a"/>
<circle cx="377.50" cy="526.89" r="1.4" fill="#2a4a7a"/>
<circle cx="372.50" cy="525.18" r="1.4" fill="#2a4a7a"/>
<line x1="366.00" y1="524.47" x2="381.00" y2="524.47" stroke="#1d3358" stroke-width="1.1"/>
<line x1="369.50" y1="523.05" x2="377.50" y2="523.05" stroke="#1d3358" stroke-width="1.0"/>
<line x1="369.50" y1="525.89" x2="377.50" y2="525.89" stroke="#1d3358" stroke-width="1.0"/>
<line x1="373.50" y1="523.05" x2="373.50" y2="525.89" stroke="#1d3358" stroke-width="0.8"/>
<circle cx="396.30" cy="516.65" r="1.4" fill="#2a4a7a"/>
<circle cx="392.30" cy="523.76" r="1.4" fill="#2a4a7a"/>
<circle cx="396.30" cy="524.47" r="1.4" fill="#2a4a7a"/>
<circle cx="400.30" cy="523.76" r="1.4" fill="#2a4a7a"/>
<circle cx="393.80" cy="526.89" r="1.4" fill="#2a4a7a"/>
<circle cx="398.80" cy="526.89" r="1.4" fill="#2a4a7a"/>
<circle cx="396.30" cy="525.89" r="1.4" fill="#2a4a7a"/>
<line x1="388.80" y1="524.75" x2="403.80" y2="524.75" stroke="#1d3358" stroke-width="1.1"/>
<line x1="392.30" y1="523.33" x2="400.30" y2="523.33" stroke="#1d3358" stroke-width="1.0"/>
<line x1="392.30" y1="526.18" x2="400.30" y2="526.18" stroke="#1d3358" stroke-width="1.0"/>
<line x1="396.30" y1="523.33" x2="396.30" y2="526.18" stroke="#1d3358" stroke-width="0.8"/>
<circle cx="419.40" cy="516.65" r="1.4" fill="#a8102f"/>
<circle cx="415.90" cy="520.91" r="1.4" fill="#a8102f"/>
<circle cx="418.90" cy="521.20" r="1.4" fill="#a8102f"/>
<circle cx="422.90" cy="521.34" r="1.4" fill="#a8102f"/>
<circle cx="416.90" cy="524.47" r="1.4" fill="#a8102f"/>
<circle cx="419.40" cy="526.60" r="1.4" fill="#a8102f"/>
<circle cx="422.40" cy="525.18" r="1.4" fill="#a8102f"/>
<line x1="411.90" y1="521.91" x2="426.90" y2="521.91" stroke="#8a1028" stroke-width="1.1"/>
<line x1="415.40" y1="520.49" x2="423.40" y2="520.49" stroke="#8a1028" stroke-width="1.0"/>
<line x1="415.40" y1="523.33" x2="423.40" y2="523.33" stroke="#8a1028" stroke-width="1.0"/>
<line x1="419.40" y1="520.49" x2="419.40" y2="523.33" stroke="#8a1028" stroke-width="0.8"/>
<circle cx="442.20" cy="516.65" r="1.4" fill="#a8102f"/>
<circle cx="438.20" cy="521.62" r="1.4" fill="#a8102f"/>
<circle cx="441.70" cy="522.34" r="1.4" fill="#a8102f"/>
<circle cx="446.20" cy="522.62" r="1.4" fill="#a8102f"/>
<circle cx="440.70" cy="525.18" r="1.4" fill="#a8102f"/>
<circle cx="441.70" cy="528.02" r="1.4" fill="#a8102f"/>
<line x1="434.70" y1="522.34" x2="449.70" y2="522.34" stroke="#8a1028" stroke-width="1.1"/>
<line x1="438.20" y1="520.91" x2="446.20" y2="520.91" stroke="#8a1028" stroke-width="1.0"/>
<line x1="438.20" y1="523.76" x2="446.20" y2="523.76" stroke="#8a1028" stroke-width="1.0"/>
<line x1="442.20" y1="520.91" x2="442.20" y2="523.76" stroke="#8a1028" stroke-width="0.8"/>
<circle cx="465.20" cy="491.76" r="1.4" fill="#3c2a66"/>
<circle cx="459.70" cy="524.04" r="1.4" fill="#3c2a66"/>
<circle cx="462.70" cy="525.18" r="1.4" fill="#3c2a66"/>
<circle cx="465.70" cy="526.60" r="1.4" fill="#3c2a66"/>
<circle cx="469.20" cy="525.18" r="1.4" fill="#3c2a66"/>
<circle cx="471.20" cy="523.76" r="1.4" fill="#3c2a66"/>
<circle cx="466.70" cy="518.07" r="1.4" fill="#3c2a66"/>
<line x1="457.70" y1="520.63" x2="472.70" y2="520.63" stroke="#3c2a66" stroke-width="1.1"/>
<line x1="461.20" y1="515.94" x2="469.20" y2="515.94" stroke="#3c2a66" stroke-width="1.0"/>
<line x1="461.20" y1="525.32" x2="469.20" y2="525.32" stroke="#3c2a66" stroke-width="1.0"/>
<line x1="465.20" y1="515.94" x2="465.20" y2="525.32" stroke="#3c2a66" stroke-width="0.8"/>
<circle cx="487.80" cy="484.65" r="1.4" fill="#3c2a66"/>
<circle cx="487.80" cy="496.74" r="1.4" fill="#3c2a66"/>
<circle cx="486.00" cy="505.27" r="1.4" fill="#3c2a66"/>
<circle cx="489.60" cy="505.27" r="1.4" fill="#3c2a66"/>
<circle cx="485.60" cy="515.23" r="1.4" fill="#3c2a66"/>
<circle cx="490.00" cy="515.94" r="1.4" fill="#3c2a66"/>
<circle cx="487.80" cy="527.31" r="1.4" fill="#3c2a66"/>
<line x1="480.30" y1="508.12" x2="495.30" y2="508.12" stroke="#3c2a66" stroke-width="1.1"/>
<line x1="483.80" y1="502.43" x2="491.80" y2="502.43" stroke="#3c2a66" stroke-width="1.0"/>
<line x1="483.80" y1="513.80" x2="491.80" y2="513.80" stroke="#3c2a66" stroke-width="1.0"/>
<line x1="487.80" y1="502.43" x2="487.80" y2="513.80" stroke="#3c2a66" stroke-width="0.8"/>
<text x="266.10" y="619.40" font-size="13.4" fill="#000" stroke="#000" stroke-width="0.7" textLength="6.78" lengthAdjust="spacingAndGlyphs" style="stroke-width:0.7px">F</text>
<text x="323.20" y="632.80" font-size="9.4" text-anchor="middle" fill="#1a1a1a" textLength="33.1" lengthAdjust="spacingAndGlyphs">RG SKI</text>
<text x="432.90" y="632.20" font-size="9.4" text-anchor="middle" fill="#1a1a1a" textLength="52.0" lengthAdjust="spacingAndGlyphs">RG SKI IL-6</text>
<g clip-path="url(#cf1)">
<rect x="272" y="641" width="102" height="73" fill="#a9948e"/>
<rect x="346" y="641" width="28" height="73" fill="#aaa1a6" filter="url(#bf2)"/>
<rect x="272" y="641" width="102" height="73" filter="url(#nz2)" opacity="0.6"/>
<ellipse cx="302.5" cy="651.0" rx="26.3" ry="9.4" fill="none" stroke="#7d5e55" stroke-width="2.0" stroke-opacity="0.55" transform="rotate(-3 302.5 651.0)" filter="url(#bf)"/>
<ellipse cx="302.5" cy="651.0" rx="25.5" ry="8.6" fill="#cea088" transform="rotate(-3 302.5 651.0)" filter="url(#bf)"/>
<ellipse cx="288.3" cy="673.7" rx="13.600000000000001" ry="8.200000000000001" fill="none" stroke="#7d5e55" stroke-width="2.0" stroke-opacity="0.55" transform="rotate(0 288.3 673.7)" filter="url(#bf)"/>
<ellipse cx="288.3" cy="673.7" rx="12.8" ry="7.4" fill="#cea088" transform="rotate(0 288.3 673.7)" filter="url(#bf)"/>
<ellipse cx="292.4" cy="690.8" rx="17.3" ry="9.0" fill="none" stroke="#7d5e55" stroke-width="2.0" stroke-opacity="0.55" transform="rotate(-12 292.4 690.8)" filter="url(#bf)"/>
<ellipse cx="292.4" cy="690.8" rx="16.5" ry="8.2" fill="#cea088" transform="rotate(-12 292.4 690.8)" filter="url(#bf)"/>
<ellipse cx="303.6" cy="706.0" rx="14.8" ry="7.6" fill="none" stroke="#7d5e55" stroke-width="2.0" stroke-opacity="0.55" transform="rotate(-5 303.6 706.0)" filter="url(#bf)"/>
<ellipse cx="303.6" cy="706.0" rx="14.0" ry="6.8" fill="#cea088" transform="rotate(-5 303.6 706.0)" filter="url(#bf)"/>
<ellipse cx="333.6" cy="667.4" rx="14.8" ry="8.8" fill="none" stroke="#7d5e55" stroke-width="2.0" stroke-opacity="0.55" transform="rotate(-20 333.6 667.4)" filter="url(#bf)"/>
<ellipse cx="333.6" cy="667.4" rx="14.0" ry="8.0" fill="#cea088" transform="rotate(-20 333.6 667.4)" filter="url(#bf)"/>
<ellipse cx="338.5" cy="700.2" rx="18.3" ry="11.8" fill="none" stroke="#7d5e55" stroke-width="2.0" stroke-opacity="0.55" transform="rotate(12 338.5 700.2)" filter="url(#bf)"/>
<ellipse cx="338.5" cy="700.2" rx="17.5" ry="11.0" fill="#cea088" transform="rotate(12 338.5 700.2)" filter="url(#bf)"/>
<ellipse cx="279" cy="702" rx="6.8" ry="4.8" fill="none" stroke="#7d5e55" stroke-width="2.0" stroke-opacity="0.55" transform="rotate(0 279 702)" filter="url(#bf)"/>
<ellipse cx="279" cy="702" rx="6" ry="4" fill="#cea088" transform="rotate(0 279 702)" filter="url(#bf)"/>
<ellipse cx="326" cy="645" rx="8.8" ry="4.8" fill="none" stroke="#7d5e55" stroke-width="2.0" stroke-opacity="0.55" transform="rotate(0 326 645)" filter="url(#bf)"/>
<ellipse cx="326" cy="645" rx="8" ry="4" fill="#cea088" transform="rotate(0 326 645)" filter="url(#bf)"/>
<rect x="272" y="641" width="102" height="73" filter="url(#nz2)" opacity="0.3"/>
<rect x="272" y="641" width="102" height="73" filter="url(#nz)" opacity="0.8"/>
<circle cx="355.5" cy="665.5" r="0.9" fill="#222"/>
</g>
<g clip-path="url(#cf2)">
<rect x="382" y="641" width="102" height="72" fill="#bba89c"/>
<rect x="382" y="641" width="102" height="72" filter="url(#nz2)" opacity="0.45"/>
<ellipse cx="423.5" cy="660.0" rx="6.5" ry="14.0" fill="#d5856a" transform="rotate(8 423.5 660.0)" filter="url(#bf2)"/>
<ellipse cx="426.0" cy="676.0" rx="6.0" ry="9.0" fill="#d78e72" transform="rotate(-10 426.0 676.0)" filter="url(#bf2)"/>
<ellipse cx="418.0" cy="650.0" rx="5.0" ry="6.0" fill="#d4907a" transform="rotate(0 418.0 650.0)" filter="url(#bf2)"/>
<ellipse cx="395.0" cy="666.0" rx="6.5" ry="9.0" fill="#d3967e" transform="rotate(10 395.0 666.0)" filter="url(#bf2)"/>
<ellipse cx="398.0" cy="678.0" rx="5.0" ry="6.0" fill="#d59a82" transform="rotate(0 398.0 678.0)" filter="url(#bf2)"/>
<ellipse cx="407.5" cy="694.0" rx="7.5" ry="6.5" fill="#d78e74" transform="rotate(-15 407.5 694.0)" filter="url(#bf2)"/>
<ellipse cx="454.0" cy="660.0" rx="8.0" ry="10.0" fill="#d9b5a0" transform="rotate(0 454.0 660.0)" filter="url(#bf2)"/>
<ellipse cx="456.0" cy="678.0" rx="7.0" ry="9.0" fill="#d8ad98" transform="rotate(10 456.0 678.0)" filter="url(#bf2)"/>
<ellipse cx="449.0" cy="704.0" rx="8.0" ry="6.5" fill="#d6977e" transform="rotate(0 449.0 704.0)" filter="url(#bf2)"/>
<ellipse cx="476.0" cy="682.0" rx="6.0" ry="10.0" fill="#d4a491" transform="rotate(0 476.0 682.0)" filter="url(#bf2)"/>
<ellipse cx="402.0" cy="646.0" rx="11.0" ry="4.5" fill="#c9a292" transform="rotate(0 402.0 646.0)" filter="url(#bf2)"/>
<ellipse cx="438.0" cy="690.0" rx="5.0" ry="7.0" fill="#c8a494" transform="rotate(0 438.0 690.0)" filter="url(#bf2)"/>
<ellipse cx="388.0" cy="700.0" rx="5.0" ry="6.0" fill="#cfa592" transform="rotate(0 388.0 700.0)" filter="url(#bf2)"/>
<ellipse cx="470.0" cy="650.0" rx="6.0" ry="5.0" fill="#cfac9c" transform="rotate(0 470.0 650.0)" filter="url(#bf2)"/>
<rect x="382" y="641" width="102" height="72" filter="url(#nz2)" opacity="0.25"/>
<rect x="382" y="641" width="102" height="72" filter="url(#nz)" opacity="0.8"/>
<path d="M421.5 713.5C422.5 709.5 425.5 707.6 429 707.8C432.5 708 435.5 710.2 436.8 713.5" fill="#f4f0ec" stroke="#4a2418" stroke-width="1.3"/>
</g>
<path d="M0 0H520V726H0Z M1.15 1.2V724.3H518.6V1.2Z" fill="#000" fill-rule="evenodd"/>
</svg>
</body></html>
